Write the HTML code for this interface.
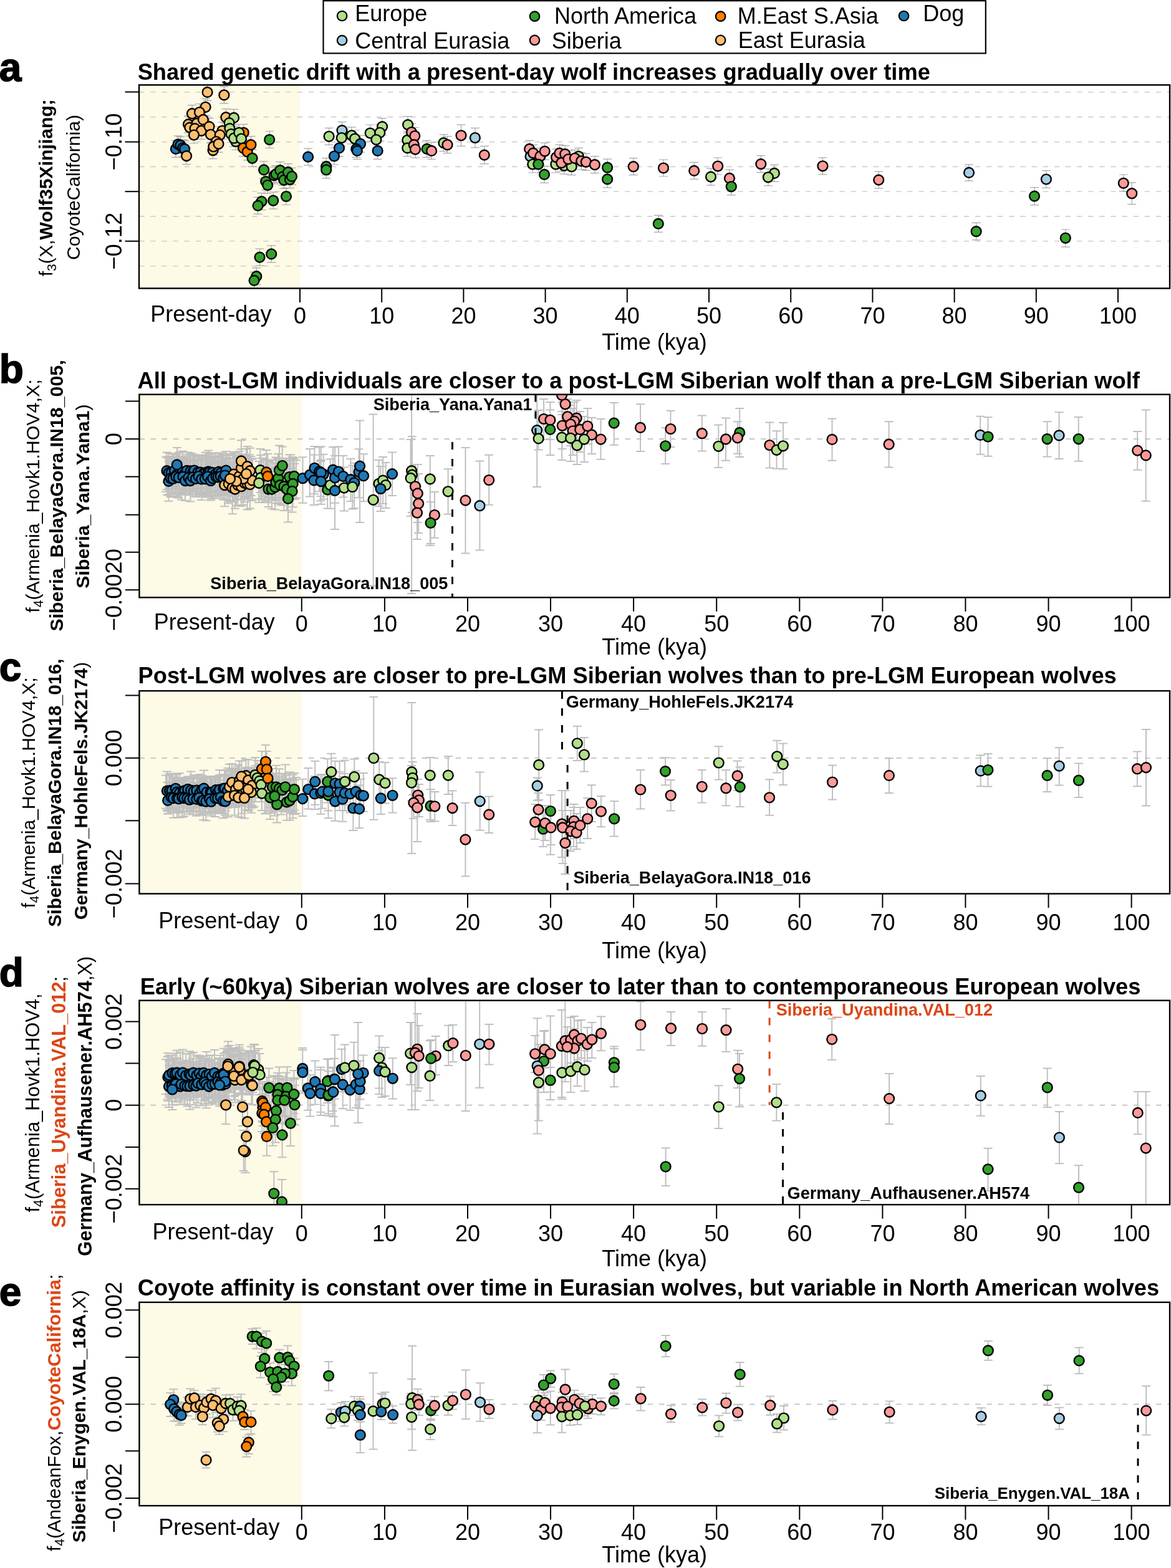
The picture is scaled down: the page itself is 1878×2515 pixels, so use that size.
<!DOCTYPE html>
<html><head><meta charset="utf-8"><title>f-statistics over time</title>
<style>html,body{margin:0;padding:0;background:#fff;}svg{display:block;}</style>
</head><body>
<svg width="1878" height="2515" viewBox="0 0 1878 2515" font-family='"Liberation Sans", Arial, Helvetica, sans-serif'>
<rect width="1878" height="2515" fill="#fff"/>
<rect x="223.0" y="136.3" width="258.0" height="326.2" fill="#fdfae6"/>
<line x1="223.0" y1="147.7" x2="1876.0" y2="147.7" stroke="#d0d0d0" stroke-width="1.6" stroke-dasharray="8.4 9.72" stroke-dashoffset="0"/>
<line x1="223.0" y1="187.6" x2="1876.0" y2="187.6" stroke="#d0d0d0" stroke-width="1.6" stroke-dasharray="8.4 9.72" stroke-dashoffset="0"/>
<line x1="223.0" y1="227.6" x2="1876.0" y2="227.6" stroke="#d0d0d0" stroke-width="1.6" stroke-dasharray="8.4 9.72" stroke-dashoffset="0"/>
<line x1="223.0" y1="267.4" x2="1876.0" y2="267.4" stroke="#d0d0d0" stroke-width="1.6" stroke-dasharray="8.4 9.72" stroke-dashoffset="0"/>
<line x1="223.0" y1="307.2" x2="1876.0" y2="307.2" stroke="#d0d0d0" stroke-width="1.6" stroke-dasharray="8.4 9.72" stroke-dashoffset="0"/>
<line x1="223.0" y1="347.1" x2="1876.0" y2="347.1" stroke="#d0d0d0" stroke-width="1.6" stroke-dasharray="8.4 9.72" stroke-dashoffset="0"/>
<line x1="223.0" y1="386.8" x2="1876.0" y2="386.8" stroke="#d0d0d0" stroke-width="1.6" stroke-dasharray="8.4 9.72" stroke-dashoffset="0"/>
<line x1="223.0" y1="426.7" x2="1876.0" y2="426.7" stroke="#d0d0d0" stroke-width="1.6" stroke-dasharray="8.4 9.72" stroke-dashoffset="0"/>
<clipPath id="clipa"><rect x="223.0" y="136.3" width="1653.0" height="326.2"/></clipPath>
<g clip-path="url(#clipa)">
<path d="M281.9 225.4V252.4M274.9 225.4h14M274.9 252.4h14M285.6 217.9V244.9M278.6 217.9h14M278.6 244.9h14M289.4 219.4V246.4M282.4 219.4h14M282.4 246.4h14M293.1 223.9V250.9M286.1 223.9h14M286.1 250.9h14M296.1 225.4V252.4M289.1 225.4h14M289.1 252.4h14M299.1 236.6V263.6M292.1 236.6h14M292.1 263.6h14M332.6 134.4V161.4M325.6 134.4h14M325.6 161.4h14M359.4 138.9V165.9M352.4 138.9h14M352.4 165.9h14M329.6 158.3V185.3M322.6 158.3h14M322.6 185.3h14M308.0 168.7V195.7M301.0 168.7h14M301.0 195.7h14M319.9 166.5V193.5M312.9 166.5h14M312.9 193.5h14M302.0 185.9V212.9M295.0 185.9h14M295.0 212.9h14M304.3 191.1V218.1M297.3 191.1h14M297.3 218.1h14M315.5 184.4V211.4M308.5 184.4h14M308.5 211.4h14M312.5 192.6V219.6M305.5 192.6h14M305.5 219.6h14M325.9 178.4V205.4M318.9 178.4h14M318.9 205.4h14M322.9 196.3V223.3M315.9 196.3h14M315.9 223.3h14M311.0 203.0V230.0M304.0 203.0h14M304.0 230.0h14M335.6 189.6V216.6M328.6 189.6h14M328.6 216.6h14M337.8 202.3V229.3M330.8 202.3h14M330.8 229.3h14M356.5 196.3V223.3M349.5 196.3h14M349.5 223.3h14M352.7 203.0V230.0M345.7 203.0h14M345.7 230.0h14M346.8 213.5V240.5M339.8 213.5h14M339.8 240.5h14M341.6 227.6V254.6M334.6 227.6h14M334.6 254.6h14M342.3 221.7V248.7M335.3 221.7h14M335.3 248.7h14M350.5 217.2V244.2M343.5 217.2h14M343.5 244.2h14M362.4 174.7V201.7M355.4 174.7h14M355.4 201.7h14M375.1 175.4V202.4M368.1 175.4h14M368.1 202.4h14M367.6 183.6V210.6M360.6 183.6h14M360.6 210.6h14M368.4 192.6V219.6M361.4 192.6h14M361.4 219.6h14M370.6 201.5V228.5M363.6 201.5h14M363.6 228.5h14M378.1 213.5V240.5M371.1 213.5h14M371.1 240.5h14M375.1 208.2V235.2M368.1 208.2h14M368.1 235.2h14M390.8 199.3V226.3M383.8 199.3h14M383.8 226.3h14M383.3 199.3V226.3M376.3 199.3h14M376.3 226.3h14M387.0 209.0V236.0M380.0 209.0h14M380.0 236.0h14M390.0 223.9V250.9M383.0 223.9h14M383.0 250.9h14M396.7 229.9V256.9M389.7 229.9h14M389.7 256.9h14M402.4 218.7V245.7M395.4 218.7h14M395.4 245.7h14M404.6 240.3V267.3M397.6 240.3h14M397.6 267.3h14M432.2 210.5V237.5M425.2 210.5h14M425.2 237.5h14M423.2 258.9V285.9M416.2 258.9h14M416.2 285.9h14M426.2 277.6V304.6M419.2 277.6h14M419.2 304.6h14M429.2 283.5V310.5M422.2 283.5h14M422.2 310.5h14M439.6 267.9V294.9M432.6 267.9h14M432.6 294.9h14M442.6 265.7V292.7M435.6 265.7h14M435.6 292.7h14M449.3 259.7V286.7M442.3 259.7h14M442.3 286.7h14M453.1 270.1V297.1M446.1 270.1h14M446.1 297.1h14M455.3 275.3V302.3M448.3 275.3h14M448.3 302.3h14M462.0 262.7V289.7M455.0 262.7h14M455.0 289.7h14M465.0 274.6V301.6M458.0 274.6h14M458.0 301.6h14M468.0 269.4V296.4M461.0 269.4h14M461.0 296.4h14M459.0 301.5V328.5M452.0 301.5h14M452.0 328.5h14M438.2 308.2V335.2M431.2 308.2h14M431.2 335.2h14M419.5 309.6V336.6M412.5 309.6h14M412.5 336.6h14M413.6 316.4V343.4M406.6 316.4h14M406.6 343.4h14M416.5 399.1V426.1M409.5 399.1h14M409.5 426.1h14M435.2 393.9V420.9M428.2 393.9h14M428.2 420.9h14M411.3 429.7V456.7M404.3 429.7h14M404.3 456.7h14M407.6 436.4V463.4M400.6 436.4h14M400.6 463.4h14M494.1 238.1V265.1M487.1 238.1h14M487.1 265.1h14M523.2 253.7V280.7M516.2 253.7h14M516.2 280.7h14M523.2 258.9V285.9M516.2 258.9h14M516.2 285.9h14M527.6 205.3V232.3M520.6 205.3h14M520.6 232.3h14M548.5 195.6V222.6M541.5 195.6h14M541.5 222.6h14M547.8 207.5V234.5M540.8 207.5h14M540.8 234.5h14M544.0 223.9V250.9M537.0 223.9h14M537.0 250.9h14M536.0 237.0V264.0M529.0 237.0h14M529.0 264.0h14M563.9 203.8V230.8M556.9 203.8h14M556.9 230.8h14M569.1 209.0V236.0M562.1 209.0h14M562.1 236.0h14M578.0 217.2V244.2M571.0 217.2h14M571.0 244.2h14M571.3 225.4V252.4M564.3 225.4h14M564.3 252.4h14M572.8 228.4V255.4M565.8 228.4h14M565.8 255.4h14M593.7 200.0V227.0M586.7 200.0h14M586.7 227.0h14M613.1 189.6V216.6M606.1 189.6h14M606.1 216.6h14M609.3 199.3V226.3M602.3 199.3h14M602.3 226.3h14M603.4 210.5V237.5M596.4 210.5h14M596.4 237.5h14M605.6 228.4V255.4M598.6 228.4h14M598.6 255.4h14M654.1 186.6V213.6M647.1 186.6h14M647.1 213.6h14M653.3 211.2V238.2M646.3 211.2h14M646.3 238.2h14M653.3 223.9V250.9M646.3 223.9h14M646.3 250.9h14M660.0 198.5V225.5M653.0 198.5h14M653.0 225.5h14M665.3 204.5V231.5M658.3 204.5h14M658.3 231.5h14M663.8 218.7V245.7M656.8 218.7h14M656.8 245.7h14M666.0 226.1V253.1M659.0 226.1h14M659.0 253.1h14M684.6 225.4V252.4M677.6 225.4h14M677.6 252.4h14M692.1 228.4V255.4M685.1 228.4h14M685.1 255.4h14M711.5 215.7V242.7M704.5 215.7h14M704.5 242.7h14M717.5 218.7V245.7M710.5 218.7h14M710.5 245.7h14M739.5 200.1V234.4M732.5 200.1h14M732.5 234.4h14M761.9 205.3V236.7M754.9 205.3h14M754.9 236.7h14M776.8 234.4V262.8M769.8 234.4h14M769.8 262.8h14M849.1 225.4V252.4M842.1 225.4h14M842.1 252.4h14M850.6 237.3V264.3M843.6 237.3h14M843.6 264.3h14M855.1 232.1V259.1M848.1 232.1h14M848.1 259.1h14M866.3 237.3V264.3M859.3 237.3h14M859.3 264.3h14M873.7 229.1V256.1M866.7 229.1h14M866.7 256.1h14M854.3 250.0V277.0M847.3 250.0h14M847.3 277.0h14M863.3 250.0V277.0M856.3 250.0h14M856.3 277.0h14M873.0 266.4V293.4M866.0 266.4h14M866.0 293.4h14M891.3 250.0V277.0M884.3 250.0h14M884.3 277.0h14M904.7 252.2V279.2M897.7 252.2h14M897.7 279.2h14M916.7 253.7V280.7M909.7 253.7h14M909.7 280.7h14M927.9 237.3V264.3M920.9 237.3h14M920.9 264.3h14M892.1 238.8V265.8M885.1 238.8h14M885.1 265.8h14M897.3 232.1V259.1M890.3 232.1h14M890.3 259.1h14M906.2 233.6V260.6M899.2 233.6h14M899.2 260.6h14M900.3 247.8V274.8M893.3 247.8h14M893.3 274.8h14M911.4 241.8V268.8M904.4 241.8h14M904.4 268.8h14M921.9 240.3V267.3M914.9 240.3h14M914.9 267.3h14M932.3 244.8V271.8M925.3 244.8h14M925.3 271.8h14M939.8 246.3V273.3M932.8 246.3h14M932.8 273.3h14M953.9 250.7V277.7M946.9 250.7h14M946.9 277.7h14M974.1 255.2V282.2M967.1 255.2h14M967.1 282.2h14M974.1 273.9V300.9M967.1 273.9h14M967.1 300.9h14M1015.8 253.7V280.7M1008.8 253.7h14M1008.8 280.7h14M1064.0 256.0V283.0M1057.0 256.0h14M1057.0 283.0h14M1055.8 345.4V372.4M1048.8 345.4h14M1048.8 372.4h14M1113.2 260.4V287.4M1106.2 260.4h14M1106.2 287.4h14M1140.0 270.1V297.1M1133.0 270.1h14M1133.0 297.1h14M1151.2 253.0V280.0M1144.2 253.0h14M1144.2 280.0h14M1169.9 272.4V299.4M1162.9 272.4h14M1162.9 299.4h14M1172.8 285.8V312.8M1165.8 285.8h14M1165.8 312.8h14M1220.3 249.6V276.6M1213.3 249.6h14M1213.3 276.6h14M1241.9 264.4V291.4M1234.9 264.4h14M1234.9 291.4h14M1231.9 270.8V297.8M1224.9 270.8h14M1224.9 297.8h14M1319.4 252.8V279.8M1312.4 252.8h14M1312.4 279.8h14M1409.2 275.1V302.1M1402.2 275.1h14M1402.2 302.1h14M1554.0 263.8V290.2M1547.0 263.8h14M1547.0 290.2h14M1677.9 273.7V301.3M1670.9 273.7h14M1670.9 301.3h14M1659.0 300.6V328.8M1652.0 300.6h14M1652.0 328.8h14M1565.6 357.4V384.9M1558.6 357.4h14M1558.6 384.9h14M1708.8 368.0V396.2M1701.8 368.0h14M1701.8 396.2h14M1801.8 280.0V306.6M1794.8 280.0h14M1794.8 306.6h14M1815.2 292.8V327.7M1808.2 292.8h14M1808.2 327.7h14" stroke="#a8a8a8" stroke-width="1.2" fill="none"/>
<circle cx="281.9" cy="238.9" r="7.9" fill="#1f78b4" stroke="#000" stroke-width="2.4"/>
<circle cx="285.6" cy="231.4" r="7.9" fill="#1f78b4" stroke="#000" stroke-width="2.4"/>
<circle cx="289.4" cy="232.9" r="7.9" fill="#1f78b4" stroke="#000" stroke-width="2.4"/>
<circle cx="293.1" cy="237.4" r="7.9" fill="#1f78b4" stroke="#000" stroke-width="2.4"/>
<circle cx="296.1" cy="238.9" r="7.9" fill="#1f78b4" stroke="#000" stroke-width="2.4"/>
<circle cx="299.1" cy="250.1" r="7.9" fill="#fdbf6f" stroke="#000" stroke-width="2.4"/>
<circle cx="332.6" cy="147.9" r="7.9" fill="#fdbf6f" stroke="#000" stroke-width="2.4"/>
<circle cx="359.4" cy="152.4" r="7.9" fill="#fdbf6f" stroke="#000" stroke-width="2.4"/>
<circle cx="329.6" cy="171.8" r="7.9" fill="#fdbf6f" stroke="#000" stroke-width="2.4"/>
<circle cx="308.0" cy="182.2" r="7.9" fill="#fdbf6f" stroke="#000" stroke-width="2.4"/>
<circle cx="319.9" cy="180.0" r="7.9" fill="#fdbf6f" stroke="#000" stroke-width="2.4"/>
<circle cx="302.0" cy="199.4" r="7.9" fill="#fdbf6f" stroke="#000" stroke-width="2.4"/>
<circle cx="304.3" cy="204.6" r="7.9" fill="#fdbf6f" stroke="#000" stroke-width="2.4"/>
<circle cx="315.5" cy="197.9" r="7.9" fill="#fdbf6f" stroke="#000" stroke-width="2.4"/>
<circle cx="312.5" cy="206.1" r="7.9" fill="#fdbf6f" stroke="#000" stroke-width="2.4"/>
<circle cx="325.9" cy="191.9" r="7.9" fill="#fdbf6f" stroke="#000" stroke-width="2.4"/>
<circle cx="322.9" cy="209.8" r="7.9" fill="#fdbf6f" stroke="#000" stroke-width="2.4"/>
<circle cx="311.0" cy="216.5" r="7.9" fill="#fdbf6f" stroke="#000" stroke-width="2.4"/>
<circle cx="335.6" cy="203.1" r="7.9" fill="#fdbf6f" stroke="#000" stroke-width="2.4"/>
<circle cx="337.8" cy="215.8" r="7.9" fill="#fdbf6f" stroke="#000" stroke-width="2.4"/>
<circle cx="356.5" cy="209.8" r="7.9" fill="#fdbf6f" stroke="#000" stroke-width="2.4"/>
<circle cx="352.7" cy="216.5" r="7.9" fill="#fdbf6f" stroke="#000" stroke-width="2.4"/>
<circle cx="346.8" cy="227.0" r="7.9" fill="#fdbf6f" stroke="#000" stroke-width="2.4"/>
<circle cx="341.6" cy="241.1" r="7.9" fill="#fdbf6f" stroke="#000" stroke-width="2.4"/>
<circle cx="342.3" cy="235.2" r="7.9" fill="#fdbf6f" stroke="#000" stroke-width="2.4"/>
<circle cx="350.5" cy="230.7" r="7.9" fill="#fdbf6f" stroke="#000" stroke-width="2.4"/>
<circle cx="362.4" cy="188.2" r="7.9" fill="#fdbf6f" stroke="#000" stroke-width="2.4"/>
<circle cx="375.1" cy="188.9" r="7.9" fill="#b2df8a" stroke="#000" stroke-width="2.4"/>
<circle cx="367.6" cy="197.1" r="7.9" fill="#b2df8a" stroke="#000" stroke-width="2.4"/>
<circle cx="368.4" cy="206.1" r="7.9" fill="#b2df8a" stroke="#000" stroke-width="2.4"/>
<circle cx="370.6" cy="215.0" r="7.9" fill="#b2df8a" stroke="#000" stroke-width="2.4"/>
<circle cx="378.1" cy="227.0" r="7.9" fill="#b2df8a" stroke="#000" stroke-width="2.4"/>
<circle cx="375.1" cy="221.7" r="7.9" fill="#b2df8a" stroke="#000" stroke-width="2.4"/>
<circle cx="390.8" cy="212.8" r="7.9" fill="#ff7f00" stroke="#000" stroke-width="2.4"/>
<circle cx="383.3" cy="212.8" r="7.9" fill="#b2df8a" stroke="#000" stroke-width="2.4"/>
<circle cx="387.0" cy="222.5" r="7.9" fill="#b2df8a" stroke="#000" stroke-width="2.4"/>
<circle cx="390.0" cy="237.4" r="7.9" fill="#ff7f00" stroke="#000" stroke-width="2.4"/>
<circle cx="396.7" cy="243.4" r="7.9" fill="#ff7f00" stroke="#000" stroke-width="2.4"/>
<circle cx="402.4" cy="232.2" r="7.9" fill="#ff7f00" stroke="#000" stroke-width="2.4"/>
<circle cx="404.6" cy="253.8" r="7.9" fill="#33a02c" stroke="#000" stroke-width="2.4"/>
<circle cx="432.2" cy="224.0" r="7.9" fill="#33a02c" stroke="#000" stroke-width="2.4"/>
<circle cx="423.2" cy="272.4" r="7.9" fill="#33a02c" stroke="#000" stroke-width="2.4"/>
<circle cx="426.2" cy="291.1" r="7.9" fill="#33a02c" stroke="#000" stroke-width="2.4"/>
<circle cx="429.2" cy="297.0" r="7.9" fill="#33a02c" stroke="#000" stroke-width="2.4"/>
<circle cx="439.6" cy="281.4" r="7.9" fill="#33a02c" stroke="#000" stroke-width="2.4"/>
<circle cx="442.6" cy="279.2" r="7.9" fill="#33a02c" stroke="#000" stroke-width="2.4"/>
<circle cx="449.3" cy="273.2" r="7.9" fill="#33a02c" stroke="#000" stroke-width="2.4"/>
<circle cx="453.1" cy="283.6" r="7.9" fill="#33a02c" stroke="#000" stroke-width="2.4"/>
<circle cx="455.3" cy="288.8" r="7.9" fill="#33a02c" stroke="#000" stroke-width="2.4"/>
<circle cx="462.0" cy="276.2" r="7.9" fill="#33a02c" stroke="#000" stroke-width="2.4"/>
<circle cx="465.0" cy="288.1" r="7.9" fill="#33a02c" stroke="#000" stroke-width="2.4"/>
<circle cx="468.0" cy="282.9" r="7.9" fill="#33a02c" stroke="#000" stroke-width="2.4"/>
<circle cx="459.0" cy="315.0" r="7.9" fill="#33a02c" stroke="#000" stroke-width="2.4"/>
<circle cx="438.2" cy="321.7" r="7.9" fill="#33a02c" stroke="#000" stroke-width="2.4"/>
<circle cx="419.5" cy="323.1" r="7.9" fill="#33a02c" stroke="#000" stroke-width="2.4"/>
<circle cx="413.6" cy="329.9" r="7.9" fill="#33a02c" stroke="#000" stroke-width="2.4"/>
<circle cx="416.5" cy="412.6" r="7.9" fill="#33a02c" stroke="#000" stroke-width="2.4"/>
<circle cx="435.2" cy="407.4" r="7.9" fill="#33a02c" stroke="#000" stroke-width="2.4"/>
<circle cx="411.3" cy="443.2" r="7.9" fill="#33a02c" stroke="#000" stroke-width="2.4"/>
<circle cx="407.6" cy="449.9" r="7.9" fill="#33a02c" stroke="#000" stroke-width="2.4"/>
<circle cx="494.1" cy="251.6" r="7.9" fill="#1f78b4" stroke="#000" stroke-width="2.4"/>
<circle cx="523.2" cy="267.2" r="7.9" fill="#33a02c" stroke="#000" stroke-width="2.4"/>
<circle cx="523.2" cy="272.4" r="7.9" fill="#33a02c" stroke="#000" stroke-width="2.4"/>
<circle cx="527.6" cy="218.8" r="7.9" fill="#b2df8a" stroke="#000" stroke-width="2.4"/>
<circle cx="548.5" cy="209.1" r="7.9" fill="#a6cee3" stroke="#000" stroke-width="2.4"/>
<circle cx="547.8" cy="221.0" r="7.9" fill="#b2df8a" stroke="#000" stroke-width="2.4"/>
<circle cx="544.0" cy="237.4" r="7.9" fill="#1f78b4" stroke="#000" stroke-width="2.4"/>
<circle cx="536.0" cy="250.5" r="7.9" fill="#1f78b4" stroke="#000" stroke-width="2.4"/>
<circle cx="563.9" cy="217.3" r="7.9" fill="#b2df8a" stroke="#000" stroke-width="2.4"/>
<circle cx="569.1" cy="222.5" r="7.9" fill="#b2df8a" stroke="#000" stroke-width="2.4"/>
<circle cx="578.0" cy="230.7" r="7.9" fill="#1f78b4" stroke="#000" stroke-width="2.4"/>
<circle cx="571.3" cy="238.9" r="7.9" fill="#1f78b4" stroke="#000" stroke-width="2.4"/>
<circle cx="572.8" cy="241.9" r="7.9" fill="#1f78b4" stroke="#000" stroke-width="2.4"/>
<circle cx="593.7" cy="213.5" r="7.9" fill="#b2df8a" stroke="#000" stroke-width="2.4"/>
<circle cx="613.1" cy="203.1" r="7.9" fill="#b2df8a" stroke="#000" stroke-width="2.4"/>
<circle cx="609.3" cy="212.8" r="7.9" fill="#b2df8a" stroke="#000" stroke-width="2.4"/>
<circle cx="603.4" cy="224.0" r="7.9" fill="#b2df8a" stroke="#000" stroke-width="2.4"/>
<circle cx="605.6" cy="241.9" r="7.9" fill="#1f78b4" stroke="#000" stroke-width="2.4"/>
<circle cx="654.1" cy="200.1" r="7.9" fill="#b2df8a" stroke="#000" stroke-width="2.4"/>
<circle cx="653.3" cy="224.7" r="7.9" fill="#b2df8a" stroke="#000" stroke-width="2.4"/>
<circle cx="653.3" cy="237.4" r="7.9" fill="#b2df8a" stroke="#000" stroke-width="2.4"/>
<circle cx="660.0" cy="212.0" r="7.9" fill="#fb9a99" stroke="#000" stroke-width="2.4"/>
<circle cx="665.3" cy="218.0" r="7.9" fill="#fb9a99" stroke="#000" stroke-width="2.4"/>
<circle cx="663.8" cy="232.2" r="7.9" fill="#fb9a99" stroke="#000" stroke-width="2.4"/>
<circle cx="666.0" cy="239.6" r="7.9" fill="#fb9a99" stroke="#000" stroke-width="2.4"/>
<circle cx="684.6" cy="238.9" r="7.9" fill="#33a02c" stroke="#000" stroke-width="2.4"/>
<circle cx="692.1" cy="241.9" r="7.9" fill="#fb9a99" stroke="#000" stroke-width="2.4"/>
<circle cx="711.5" cy="229.2" r="7.9" fill="#b2df8a" stroke="#000" stroke-width="2.4"/>
<circle cx="717.5" cy="232.2" r="7.9" fill="#fb9a99" stroke="#000" stroke-width="2.4"/>
<circle cx="739.5" cy="217.3" r="7.9" fill="#fb9a99" stroke="#000" stroke-width="2.4"/>
<circle cx="761.9" cy="221.0" r="7.9" fill="#a6cee3" stroke="#000" stroke-width="2.4"/>
<circle cx="776.8" cy="248.6" r="7.9" fill="#fb9a99" stroke="#000" stroke-width="2.4"/>
<circle cx="849.1" cy="238.9" r="7.9" fill="#fb9a99" stroke="#000" stroke-width="2.4"/>
<circle cx="850.6" cy="250.8" r="7.9" fill="#a6cee3" stroke="#000" stroke-width="2.4"/>
<circle cx="855.1" cy="245.6" r="7.9" fill="#fb9a99" stroke="#000" stroke-width="2.4"/>
<circle cx="866.3" cy="250.8" r="7.9" fill="#fb9a99" stroke="#000" stroke-width="2.4"/>
<circle cx="873.7" cy="242.6" r="7.9" fill="#fb9a99" stroke="#000" stroke-width="2.4"/>
<circle cx="854.3" cy="263.5" r="7.9" fill="#b2df8a" stroke="#000" stroke-width="2.4"/>
<circle cx="863.3" cy="263.5" r="7.9" fill="#33a02c" stroke="#000" stroke-width="2.4"/>
<circle cx="873.0" cy="279.9" r="7.9" fill="#33a02c" stroke="#000" stroke-width="2.4"/>
<circle cx="891.3" cy="263.5" r="7.9" fill="#b2df8a" stroke="#000" stroke-width="2.4"/>
<circle cx="904.7" cy="265.7" r="7.9" fill="#b2df8a" stroke="#000" stroke-width="2.4"/>
<circle cx="916.7" cy="267.2" r="7.9" fill="#b2df8a" stroke="#000" stroke-width="2.4"/>
<circle cx="927.9" cy="250.8" r="7.9" fill="#b2df8a" stroke="#000" stroke-width="2.4"/>
<circle cx="892.1" cy="252.3" r="7.9" fill="#fb9a99" stroke="#000" stroke-width="2.4"/>
<circle cx="897.3" cy="245.6" r="7.9" fill="#fb9a99" stroke="#000" stroke-width="2.4"/>
<circle cx="906.2" cy="247.1" r="7.9" fill="#fb9a99" stroke="#000" stroke-width="2.4"/>
<circle cx="900.3" cy="261.3" r="7.9" fill="#fb9a99" stroke="#000" stroke-width="2.4"/>
<circle cx="911.4" cy="255.3" r="7.9" fill="#fb9a99" stroke="#000" stroke-width="2.4"/>
<circle cx="921.9" cy="253.8" r="7.9" fill="#fb9a99" stroke="#000" stroke-width="2.4"/>
<circle cx="932.3" cy="258.3" r="7.9" fill="#fb9a99" stroke="#000" stroke-width="2.4"/>
<circle cx="939.8" cy="259.8" r="7.9" fill="#fb9a99" stroke="#000" stroke-width="2.4"/>
<circle cx="953.9" cy="264.2" r="7.9" fill="#fb9a99" stroke="#000" stroke-width="2.4"/>
<circle cx="974.1" cy="268.7" r="7.9" fill="#33a02c" stroke="#000" stroke-width="2.4"/>
<circle cx="974.1" cy="287.4" r="7.9" fill="#33a02c" stroke="#000" stroke-width="2.4"/>
<circle cx="1015.8" cy="267.2" r="7.9" fill="#fb9a99" stroke="#000" stroke-width="2.4"/>
<circle cx="1064.0" cy="269.5" r="7.9" fill="#fb9a99" stroke="#000" stroke-width="2.4"/>
<circle cx="1055.8" cy="358.9" r="7.9" fill="#33a02c" stroke="#000" stroke-width="2.4"/>
<circle cx="1113.2" cy="273.9" r="7.9" fill="#fb9a99" stroke="#000" stroke-width="2.4"/>
<circle cx="1140.0" cy="283.6" r="7.9" fill="#b2df8a" stroke="#000" stroke-width="2.4"/>
<circle cx="1151.2" cy="266.5" r="7.9" fill="#fb9a99" stroke="#000" stroke-width="2.4"/>
<circle cx="1169.9" cy="285.9" r="7.9" fill="#fb9a99" stroke="#000" stroke-width="2.4"/>
<circle cx="1172.8" cy="299.3" r="7.9" fill="#33a02c" stroke="#000" stroke-width="2.4"/>
<circle cx="1220.3" cy="263.1" r="7.9" fill="#fb9a99" stroke="#000" stroke-width="2.4"/>
<circle cx="1241.9" cy="277.9" r="7.9" fill="#b2df8a" stroke="#000" stroke-width="2.4"/>
<circle cx="1231.9" cy="284.3" r="7.9" fill="#b2df8a" stroke="#000" stroke-width="2.4"/>
<circle cx="1319.4" cy="266.3" r="7.9" fill="#fb9a99" stroke="#000" stroke-width="2.4"/>
<circle cx="1409.2" cy="288.6" r="7.9" fill="#fb9a99" stroke="#000" stroke-width="2.4"/>
<circle cx="1554.0" cy="276.9" r="7.9" fill="#a6cee3" stroke="#000" stroke-width="2.4"/>
<circle cx="1677.9" cy="287.5" r="7.9" fill="#a6cee3" stroke="#000" stroke-width="2.4"/>
<circle cx="1659.0" cy="314.6" r="7.9" fill="#33a02c" stroke="#000" stroke-width="2.4"/>
<circle cx="1565.6" cy="371.2" r="7.9" fill="#33a02c" stroke="#000" stroke-width="2.4"/>
<circle cx="1708.8" cy="381.8" r="7.9" fill="#33a02c" stroke="#000" stroke-width="2.4"/>
<circle cx="1801.8" cy="293.8" r="7.9" fill="#fb9a99" stroke="#000" stroke-width="2.4"/>
<circle cx="1815.2" cy="310.2" r="7.9" fill="#fb9a99" stroke="#000" stroke-width="2.4"/>
</g>
<rect x="223.0" y="136.3" width="1653.0" height="326.2" fill="none" stroke="#000" stroke-width="2.4"/>
<line x1="200.5" y1="147.5" x2="223.0" y2="147.5" stroke="#000" stroke-width="2"/>
<line x1="200.5" y1="227.6" x2="223.0" y2="227.6" stroke="#000" stroke-width="2"/>
<line x1="200.5" y1="307.2" x2="223.0" y2="307.2" stroke="#000" stroke-width="2"/>
<line x1="200.5" y1="386.8" x2="223.0" y2="386.8" stroke="#000" stroke-width="2"/>
<text transform="translate(194.5 227.6) rotate(-90)" text-anchor="middle" font-size="36.3">−0.10</text>
<text transform="translate(194.5 386.8) rotate(-90)" text-anchor="middle" font-size="36.3">−0.12</text>
<line x1="481.0" y1="462.5" x2="481.0" y2="485.0" stroke="#000" stroke-width="2"/>
<text x="481.0" y="519.0" text-anchor="middle" font-size="36">0</text>
<line x1="612.2" y1="462.5" x2="612.2" y2="485.0" stroke="#000" stroke-width="2"/>
<text x="612.2" y="519.0" text-anchor="middle" font-size="36">10</text>
<line x1="743.4" y1="462.5" x2="743.4" y2="485.0" stroke="#000" stroke-width="2"/>
<text x="743.4" y="519.0" text-anchor="middle" font-size="36">20</text>
<line x1="874.6" y1="462.5" x2="874.6" y2="485.0" stroke="#000" stroke-width="2"/>
<text x="874.6" y="519.0" text-anchor="middle" font-size="36">30</text>
<line x1="1005.8" y1="462.5" x2="1005.8" y2="485.0" stroke="#000" stroke-width="2"/>
<text x="1005.8" y="519.0" text-anchor="middle" font-size="36">40</text>
<line x1="1137.0" y1="462.5" x2="1137.0" y2="485.0" stroke="#000" stroke-width="2"/>
<text x="1137.0" y="519.0" text-anchor="middle" font-size="36">50</text>
<line x1="1268.2" y1="462.5" x2="1268.2" y2="485.0" stroke="#000" stroke-width="2"/>
<text x="1268.2" y="519.0" text-anchor="middle" font-size="36">60</text>
<line x1="1399.4" y1="462.5" x2="1399.4" y2="485.0" stroke="#000" stroke-width="2"/>
<text x="1399.4" y="519.0" text-anchor="middle" font-size="36">70</text>
<line x1="1530.6" y1="462.5" x2="1530.6" y2="485.0" stroke="#000" stroke-width="2"/>
<text x="1530.6" y="519.0" text-anchor="middle" font-size="36">80</text>
<line x1="1661.8" y1="462.5" x2="1661.8" y2="485.0" stroke="#000" stroke-width="2"/>
<text x="1661.8" y="519.0" text-anchor="middle" font-size="36">90</text>
<line x1="1793.0" y1="462.5" x2="1793.0" y2="485.0" stroke="#000" stroke-width="2"/>
<text x="1793.0" y="519.0" text-anchor="middle" font-size="36">100</text>
<text x="241.3" y="515.8" font-size="36">Present-day</text>
<text x="1049.5" y="561.0" text-anchor="middle" font-size="36">Time (kya)</text>
<text x="220.7" y="127.8" font-size="36.25" font-weight="bold">Shared genetic drift with a present-day wolf increases gradually over time</text>
<text x="-1.2" y="129.5" font-size="64" font-weight="bold" stroke="#000" stroke-width="1.6">a</text>
<text transform="translate(83.6 301.2) rotate(-90)" text-anchor="middle" font-size="30.15"><tspan>f</tspan><tspan font-size="21.1" dy="6">3</tspan><tspan dy="-6">(X,</tspan><tspan font-weight="bold">Wolf35Xinjiang;</tspan></text>
<text transform="translate(128.3 300.5) rotate(-90)" text-anchor="middle" font-size="30.15"><tspan>CoyoteCalifornia)</tspan></text>
<rect x="223.4" y="632.7" width="260.4" height="325.6" fill="#fdfae6"/>
<line x1="223.4" y1="704.1" x2="1876.0" y2="704.1" stroke="#c0c0c0" stroke-width="1.8" stroke-dasharray="8.4 9.72" stroke-dashoffset="0"/>
<clipPath id="clipb"><rect x="223.4" y="632.7" width="1652.6" height="325.6"/></clipPath>
<g clip-path="url(#clipb)">
<path d="M266.0 732.4V788.7M259.0 732.4h14M259.0 788.7h14M268.5 734.8V794.2M261.5 734.8h14M261.5 794.2h14M271.0 726.9V792.7M264.0 726.9h14M264.0 792.7h14M273.5 734.0V795.6M266.5 734.0h14M266.5 795.6h14M276.1 728.0V792.2M269.1 728.0h14M269.1 792.2h14M278.6 734.8V797.3M271.6 734.8h14M271.6 797.3h14M281.1 733.0V790.6M274.1 733.0h14M274.1 790.6h14M283.6 729.2V797.7M276.6 729.2h14M276.6 797.7h14M286.1 726.6V798.6M279.1 726.6h14M279.1 798.6h14M288.6 731.9V793.8M281.6 731.9h14M281.6 793.8h14M291.1 732.0V801.4M284.1 732.0h14M284.1 801.4h14M293.6 735.9V789.4M286.6 735.9h14M286.6 789.4h14M296.2 736.8V789.2M289.2 736.8h14M289.2 789.2h14M298.7 733.4V792.3M291.7 733.4h14M291.7 792.3h14M301.2 725.5V787.3M294.2 725.5h14M294.2 787.3h14M303.7 729.4V794.3M296.7 729.4h14M296.7 794.3h14M306.2 728.3V793.8M299.2 728.3h14M299.2 793.8h14M308.7 729.1V793.5M301.7 729.1h14M301.7 793.5h14M311.2 730.5V788.0M304.2 730.5h14M304.2 788.0h14M313.7 730.3V796.4M306.7 730.3h14M306.7 796.4h14M316.3 729.8V793.3M309.3 729.8h14M309.3 793.3h14M318.8 731.8V792.6M311.8 731.8h14M311.8 792.6h14M321.3 729.4V795.6M314.3 729.4h14M314.3 795.6h14M323.8 730.5V788.8M316.8 730.5h14M316.8 788.8h14M326.3 729.7V794.4M319.3 729.7h14M319.3 794.4h14M328.8 731.7V796.1M321.8 731.7h14M321.8 796.1h14M331.3 725.6V792.7M324.3 725.6h14M324.3 792.7h14M333.8 731.4V789.7M326.8 731.4h14M326.8 789.7h14M336.4 736.3V797.2M329.4 736.3h14M329.4 797.2h14M338.9 728.5V800.1M331.9 728.5h14M331.9 800.1h14M341.4 732.5V794.8M334.4 732.5h14M334.4 794.8h14M343.9 734.4V795.8M336.9 734.4h14M336.9 795.8h14M346.4 727.2V798.7M339.4 727.2h14M339.4 798.7h14M348.9 732.4V796.0M341.9 732.4h14M341.9 796.0h14M351.4 727.8V799.2M344.4 727.8h14M344.4 799.2h14M353.9 726.6V792.1M346.9 726.6h14M346.9 792.1h14M356.5 729.6V794.0M349.5 729.6h14M349.5 794.0h14M359.0 734.8V789.2M352.0 734.8h14M352.0 789.2h14M361.5 735.2V793.5M354.5 735.2h14M354.5 793.5h14M364.0 735.5V795.3M357.0 735.5h14M357.0 795.3h14M356.0 727.2V799.6M349.0 727.2h14M349.0 799.6h14M358.6 731.1V801.7M351.6 731.1h14M351.6 801.7h14M361.2 737.1V790.2M354.2 737.1h14M354.2 790.2h14M363.7 729.7V800.9M356.7 729.7h14M356.7 800.9h14M366.3 730.4V802.5M359.3 730.4h14M359.3 802.5h14M368.9 727.8V804.9M361.9 727.8h14M361.9 804.9h14M371.5 734.5V794.0M364.5 734.5h14M364.5 794.0h14M374.1 729.6V802.8M367.1 729.6h14M367.1 802.8h14M376.6 726.8V792.9M369.6 726.8h14M369.6 792.9h14M379.2 729.5V799.9M372.2 729.5h14M372.2 799.9h14M381.8 730.2V801.8M374.8 730.2h14M374.8 801.8h14M384.4 735.4V791.1M377.4 735.4h14M377.4 791.1h14M386.9 730.3V792.4M379.9 730.3h14M379.9 792.4h14M389.5 733.6V800.6M382.5 733.6h14M382.5 800.6h14M392.1 730.9V797.8M385.1 730.9h14M385.1 797.8h14M394.7 728.4V789.7M387.7 728.4h14M387.7 789.7h14M397.3 733.4V796.6M390.3 733.4h14M390.3 796.6h14M399.8 729.6V800.4M392.8 729.6h14M392.8 800.4h14M402.4 732.2V794.9M395.4 732.2h14M395.4 794.9h14M405.0 735.5V800.5M398.0 735.5h14M398.0 800.5h14M420.0 735.1V801.4M413.0 735.1h14M413.0 801.4h14M422.9 735.5V796.1M415.9 735.5h14M415.9 796.1h14M425.8 737.6V804.0M418.8 737.6h14M418.8 804.0h14M428.7 737.6V806.2M421.7 737.6h14M421.7 806.2h14M431.6 740.2V803.0M424.6 740.2h14M424.6 803.0h14M434.5 737.7V799.9M427.5 737.7h14M427.5 799.9h14M437.4 738.4V797.9M430.4 738.4h14M430.4 797.9h14M440.3 742.5V802.7M433.3 742.5h14M433.3 802.7h14M443.2 733.6V801.8M436.2 733.6h14M436.2 801.8h14M446.1 735.8V808.4M439.1 735.8h14M439.1 808.4h14M448.9 737.9V798.3M441.9 737.9h14M441.9 798.3h14M451.8 738.8V810.4M444.8 738.8h14M444.8 810.4h14M454.7 741.5V799.3M447.7 741.5h14M447.7 799.3h14M457.6 735.0V802.0M450.6 735.0h14M450.6 802.0h14M460.5 737.4V801.0M453.5 737.4h14M453.5 801.0h14M463.4 738.4V805.3M456.4 738.4h14M456.4 805.3h14M466.3 729.5V800.3M459.3 729.5h14M459.3 800.3h14M469.2 733.1V801.1M462.2 733.1h14M462.2 801.1h14M472.1 743.8V800.8M465.1 743.8h14M465.1 800.8h14M475.0 738.2V798.8M468.0 738.2h14M468.0 798.8h14M267.5 725.4V785.0M260.5 725.4h14M260.5 785.0h14M270.8 731.9V784.7M263.8 731.9h14M263.8 784.7h14M274.8 735.6V780.5M267.8 735.6h14M267.8 780.5h14M280.1 731.5V777.6M273.1 731.5h14M273.1 777.6h14M284.1 737.1V784.1M277.1 737.1h14M277.1 784.1h14M287.6 725.6V792.4M280.6 725.6h14M280.6 792.4h14M292.8 723.5V790.9M285.8 723.5h14M285.8 790.9h14M295.2 735.4V786.3M288.2 735.4h14M288.2 786.3h14M299.6 729.2V780.6M292.6 729.2h14M292.6 780.6h14M305.7 726.5V784.4M298.7 726.5h14M298.7 784.4h14M309.3 728.4V785.6M302.3 728.4h14M302.3 785.6h14M311.6 730.0V778.9M304.6 730.0h14M304.6 778.9h14M317.6 731.7V783.2M310.6 731.7h14M310.6 783.2h14M321.4 732.0V783.2M314.4 732.0h14M314.4 783.2h14M326.1 734.7V784.5M319.1 734.7h14M319.1 784.5h14M329.5 725.7V790.7M322.5 725.7h14M322.5 790.7h14M334.1 722.5V790.1M327.1 722.5h14M327.1 790.1h14M336.3 726.3V788.4M329.3 726.3h14M329.3 788.4h14M340.5 735.4V780.4M333.5 735.4h14M333.5 780.4h14M346.2 731.2V789.0M339.2 731.2h14M339.2 789.0h14M350.9 726.2V786.9M343.9 726.2h14M343.9 786.9h14M354.1 731.2V786.1M347.1 731.2h14M347.1 786.1h14M358.9 733.9V789.2M351.9 733.9h14M351.9 789.2h14M362.5 724.1V784.9M355.5 724.1h14M355.5 784.9h14M270.4 740.1V803.8M263.4 740.1h14M263.4 803.8h14M273.8 737.1V797.1M266.8 737.1h14M266.8 797.1h14M277.5 743.7V791.7M270.5 743.7h14M270.5 791.7h14M282.3 733.3V795.7M275.3 733.3h14M275.3 795.7h14M286.8 739.3V792.7M279.8 739.3h14M279.8 792.7h14M293.5 737.3V792.0M286.5 737.3h14M286.5 792.0h14M297.0 739.2V802.9M290.0 739.2h14M290.0 802.9h14M302.4 739.2V793.2M295.4 739.2h14M295.4 793.2h14M305.4 737.6V804.6M298.4 737.6h14M298.4 804.6h14M309.2 740.6V790.2M302.2 740.6h14M302.2 790.2h14M314.0 738.8V796.9M307.0 738.8h14M307.0 796.9h14M318.5 737.0V791.1M311.5 737.0h14M311.5 791.1h14M323.3 735.1V802.0M316.3 735.1h14M316.3 802.0h14M328.8 738.7V797.5M321.8 738.7h14M321.8 797.5h14M333.2 731.6V797.2M326.2 731.6h14M326.2 797.2h14M338.0 739.4V802.6M331.0 739.4h14M331.0 802.6h14M341.3 743.9V790.4M334.3 743.9h14M334.3 790.4h14M346.5 741.7V787.3M339.5 741.7h14M339.5 787.3h14M349.7 739.2V791.4M342.7 739.2h14M342.7 791.4h14M353.7 740.2V787.8M346.7 740.2h14M346.7 787.8h14M358.3 744.6V789.2M351.3 744.6h14M351.3 789.2h14M365.1 745.1V792.7M358.1 745.1h14M358.1 792.7h14M283.8 718.0V773.0M276.8 718.0h14M276.8 773.0h14M360.9 735.0V790.0M353.9 735.0h14M353.9 790.0h14M360.2 745.1V812.3M353.2 745.1h14M353.2 812.3h14M366.7 741.5V807.4M359.7 741.5h14M359.7 807.4h14M372.7 742.2V824.3M365.7 742.2h14M365.7 824.3h14M374.9 725.0V796.4M367.9 725.0h14M367.9 796.4h14M377.0 753.6V815.8M370.0 753.6h14M370.0 815.8h14M381.4 744.0V811.3M374.4 744.0h14M374.4 811.3h14M383.6 724.0V795.8M376.6 724.0h14M376.6 795.8h14M386.9 720.5V792.2M379.9 720.5h14M379.9 792.2h14M386.9 743.9V812.0M379.9 743.9h14M379.9 812.0h14M392.3 738.3V805.1M385.3 738.3h14M385.3 805.1h14M396.7 739.6V817.6M389.7 739.6h14M389.7 817.6h14M401.0 736.6V815.4M394.0 736.6h14M394.0 815.4h14M386.9 706.3V773.8M379.9 706.3h14M379.9 773.8h14M396.7 716.1V787.4M389.7 716.1h14M389.7 787.4h14M401.0 718.8V794.5M394.0 718.8h14M394.0 794.5h14M404.3 736.4V803.1M397.3 736.4h14M397.3 803.1h14M390.0 728.3V809.8M383.0 728.3h14M383.0 809.8h14M395.0 719.8V799.7M388.0 719.8h14M388.0 799.7h14M379.0 732.2V810.9M372.0 732.2h14M372.0 810.9h14M369.0 735.3V804.2M362.0 735.3h14M362.0 804.2h14M417.4 720.0V790.0M410.4 720.0h14M410.4 790.0h14M418.4 730.0V800.0M411.4 730.0h14M411.4 800.0h14M415.2 740.0V806.0M408.2 740.0h14M408.2 806.0h14M427.2 722.0V792.0M420.2 722.0h14M420.2 792.0h14M429.3 728.0V798.0M422.3 728.0h14M422.3 798.0h14M430.4 752.3V812.9M423.4 752.3h14M423.4 812.9h14M435.9 756.3V816.0M428.9 756.3h14M428.9 816.0h14M441.3 750.2V817.6M434.3 750.2h14M434.3 817.6h14M442.4 734.2V807.1M435.4 734.2h14M435.4 807.1h14M446.2 728.0V807.1M439.2 728.0h14M439.2 807.1h14M447.9 714.6V786.5M440.9 714.6h14M440.9 786.5h14M452.8 716.4V777.7M445.8 716.4h14M445.8 777.7h14M449.0 747.7V808.6M442.0 747.7h14M442.0 808.6h14M455.5 744.7V819.0M448.5 744.7h14M448.5 819.0h14M459.9 746.5V818.4M452.9 746.5h14M452.9 818.4h14M464.2 729.2V802.6M457.2 729.2h14M457.2 802.6h14M471.8 734.9V799.8M464.8 734.9h14M464.8 799.8h14M469.7 737.0V813.3M462.7 737.0h14M462.7 813.3h14M468.6 750.9V821.6M461.6 750.9h14M461.6 821.6h14M462.0 769.8V837.4M455.0 769.8h14M455.0 837.4h14M485.5 733.2V806.8M478.5 733.2h14M478.5 806.8h14M496.9 720.0V796.5M489.9 720.0h14M489.9 796.5h14M504.5 716.0V792.2M497.5 716.0h14M497.5 792.2h14M512.2 717.6V788.3M505.2 717.6h14M505.2 788.3h14M514.3 740.0V803.3M507.3 740.0h14M507.3 803.3h14M503.4 729.5V810.1M496.4 729.5h14M496.4 810.1h14M518.7 728.8V800.5M511.7 728.8h14M511.7 800.5h14M514.8 716.2V795.9M507.8 716.2h14M507.8 795.9h14M514.8 737.9V808.7M507.8 737.9h14M507.8 808.7h14M525.2 753.8V815.6M518.2 753.8h14M518.2 815.6h14M529.7 736.3V815.8M522.7 736.3h14M522.7 815.8h14M534.1 717.3V794.8M527.1 717.3h14M527.1 794.8h14M537.1 731.0V806.7M530.1 731.0h14M530.1 806.7h14M543.0 716.6V789.0M536.0 716.6h14M536.0 789.0h14M550.4 731.0V797.5M543.4 731.0h14M543.4 797.5h14M551.9 749.6V819.5M544.9 749.6h14M544.9 819.5h14M562.3 736.0V804.1M555.3 736.0h14M555.3 804.1h14M568.2 742.7V815.2M561.2 742.7h14M561.2 815.2h14M565.2 746.8V816.5M558.2 746.8h14M558.2 816.5h14M575.6 720.3V798.2M568.6 720.3h14M568.6 798.2h14M583.0 728.2V804.2M576.0 728.2h14M576.0 804.2h14M577.1 674.6V838.0M570.1 674.6h14M570.1 838.0h14M537.1 716.7V849.0M530.1 716.7h14M530.1 849.0h14M598.6 664.5V939.6M591.6 664.5h14M591.6 939.6h14M607.5 738.0V812.0M600.5 738.0h14M600.5 812.0h14M614.2 733.0V808.0M607.2 733.0h14M607.2 808.0h14M618.6 742.0V815.0M611.6 742.0h14M611.6 815.0h14M610.5 748.0V820.0M603.5 748.0h14M603.5 820.0h14M629.0 725.4V795.1M622.0 725.4h14M622.0 795.1h14M660.1 632.7V952.0M653.1 632.7h14M653.1 952.0h14M660.9 700.0V822.0M653.9 700.0h14M653.9 822.0h14M658.6 705.0V828.0M651.6 705.0h14M651.6 828.0h14M666.0 745.0V815.0M659.0 745.0h14M659.0 815.0h14M669.8 745.0V838.0M662.8 745.0h14M662.8 838.0h14M671.2 760.0V855.0M664.2 760.0h14M664.2 855.0h14M669.0 780.0V865.0M662.0 780.0h14M662.0 865.0h14M689.8 731.0V875.0M682.8 731.0h14M682.8 875.0h14M697.0 789.0V862.8M690.0 789.0h14M690.0 862.8h14M690.6 805.0V872.0M683.6 805.0h14M683.6 872.0h14M718.6 752.2V824.7M711.6 752.2h14M711.6 824.7h14M746.5 717.9V887.5M739.5 717.9h14M739.5 887.5h14M769.4 739.5V882.4M762.4 739.5h14M762.4 882.4h14M784.2 729.8V809.7M777.2 729.8h14M777.2 809.7h14M861.2 632.7V781.0M854.2 632.7h14M854.2 781.0h14M863.6 658.0V721.6M856.6 658.0h14M856.6 721.6h14M872.1 640.0V705.0M865.1 640.0h14M865.1 705.0h14M882.4 645.0V705.0M875.4 645.0h14M875.4 705.0h14M882.4 657.4V730.0M875.4 657.4h14M875.4 730.0h14M901.1 632.7V660.0M894.1 632.7h14M894.1 660.0h14M906.6 632.7V690.0M899.6 632.7h14M899.6 690.0h14M901.7 645.0V720.0M894.7 645.0h14M894.7 720.0h14M910.2 640.0V700.0M903.2 640.0h14M903.2 700.0h14M924.7 642.0V705.0M917.7 642.0h14M917.7 705.0h14M921.1 645.0V712.0M914.1 645.0h14M914.1 712.0h14M915.1 650.0V715.0M908.1 650.0h14M908.1 715.0h14M918.7 655.0V730.0M911.7 655.0h14M911.7 730.0h14M930.2 660.0V725.0M923.2 660.0h14M923.2 725.0h14M942.3 655.0V712.0M935.3 655.0h14M935.3 712.0h14M949.0 670.0V728.0M942.0 670.0h14M942.0 728.0h14M963.5 672.0V736.7M956.5 672.0h14M956.5 736.7h14M901.1 665.0V738.0M894.1 665.0h14M894.1 738.0h14M915.1 668.0V740.0M908.1 668.0h14M908.1 740.0h14M925.4 680.0V745.0M918.4 680.0h14M918.4 745.0h14M936.9 668.0V741.0M929.9 668.0h14M929.9 741.0h14M984.7 645.9V713.7M977.7 645.9h14M977.7 713.7h14M1027.0 648.3V724.0M1020.0 648.3h14M1020.0 724.0h14M1075.5 658.8V717.0M1068.5 658.8h14M1068.5 717.0h14M1067.2 686.0V744.0M1060.2 686.0h14M1060.2 744.0h14M1125.8 666.6V723.6M1118.8 666.6h14M1118.8 723.6h14M1152.3 681.5V749.9M1145.3 681.5h14M1145.3 749.9h14M1164.0 670.5V738.7M1157.0 670.5h14M1157.0 738.7h14M1186.2 654.9V733.0M1179.2 654.9h14M1179.2 733.0h14M1182.8 676.2V727.8M1175.8 676.2h14M1175.8 727.8h14M1234.3 677.5V750.4M1227.3 677.5h14M1227.3 750.4h14M1245.5 691.3V751.7M1238.5 691.3h14M1238.5 751.7h14M1255.9 678.1V752.2M1248.9 678.1h14M1248.9 752.2h14M1334.5 671.6V738.7M1327.5 671.6h14M1327.5 738.7h14M1425.6 676.2V749.6M1418.6 676.2h14M1418.6 749.6h14M1572.2 667.7V728.8M1565.2 667.7h14M1565.2 728.8h14M1584.5 669.2V731.7M1577.5 669.2h14M1577.5 731.7h14M1679.5 676.2V732.5M1672.5 676.2h14M1672.5 732.5h14M1698.5 661.2V736.1M1691.5 661.2h14M1691.5 736.1h14M1729.7 669.0V739.8M1722.7 669.0h14M1722.7 739.8h14M1824.2 691.9V753.8M1817.2 691.9h14M1817.2 753.8h14M1837.7 657.5V803.8M1830.7 657.5h14M1830.7 803.8h14" stroke="#c0c0c0" stroke-width="2.0" fill="none"/>
<circle cx="267.5" cy="755.2" r="7.9" fill="#1f78b4" stroke="#000" stroke-width="2.4"/>
<circle cx="270.8" cy="758.3" r="7.9" fill="#1f78b4" stroke="#000" stroke-width="2.4"/>
<circle cx="274.8" cy="758.1" r="7.9" fill="#1f78b4" stroke="#000" stroke-width="2.4"/>
<circle cx="280.1" cy="754.6" r="7.9" fill="#1f78b4" stroke="#000" stroke-width="2.4"/>
<circle cx="284.1" cy="760.6" r="7.9" fill="#1f78b4" stroke="#000" stroke-width="2.4"/>
<circle cx="287.6" cy="759.0" r="7.9" fill="#1f78b4" stroke="#000" stroke-width="2.4"/>
<circle cx="292.8" cy="757.2" r="7.9" fill="#1f78b4" stroke="#000" stroke-width="2.4"/>
<circle cx="295.2" cy="760.9" r="7.9" fill="#1f78b4" stroke="#000" stroke-width="2.4"/>
<circle cx="299.6" cy="754.9" r="7.9" fill="#1f78b4" stroke="#000" stroke-width="2.4"/>
<circle cx="305.7" cy="755.4" r="7.9" fill="#1f78b4" stroke="#000" stroke-width="2.4"/>
<circle cx="309.3" cy="757.0" r="7.9" fill="#1f78b4" stroke="#000" stroke-width="2.4"/>
<circle cx="311.6" cy="754.5" r="7.9" fill="#1f78b4" stroke="#000" stroke-width="2.4"/>
<circle cx="317.6" cy="757.4" r="7.9" fill="#1f78b4" stroke="#000" stroke-width="2.4"/>
<circle cx="321.4" cy="757.6" r="7.9" fill="#1f78b4" stroke="#000" stroke-width="2.4"/>
<circle cx="326.1" cy="759.6" r="7.9" fill="#1f78b4" stroke="#000" stroke-width="2.4"/>
<circle cx="329.5" cy="758.2" r="7.9" fill="#1f78b4" stroke="#000" stroke-width="2.4"/>
<circle cx="334.1" cy="756.3" r="7.9" fill="#1f78b4" stroke="#000" stroke-width="2.4"/>
<circle cx="336.3" cy="757.3" r="7.9" fill="#1f78b4" stroke="#000" stroke-width="2.4"/>
<circle cx="340.5" cy="757.9" r="7.9" fill="#1f78b4" stroke="#000" stroke-width="2.4"/>
<circle cx="346.2" cy="760.1" r="7.9" fill="#1f78b4" stroke="#000" stroke-width="2.4"/>
<circle cx="350.9" cy="756.5" r="7.9" fill="#1f78b4" stroke="#000" stroke-width="2.4"/>
<circle cx="354.1" cy="758.6" r="7.9" fill="#1f78b4" stroke="#000" stroke-width="2.4"/>
<circle cx="358.9" cy="761.6" r="7.9" fill="#1f78b4" stroke="#000" stroke-width="2.4"/>
<circle cx="362.5" cy="754.5" r="7.9" fill="#1f78b4" stroke="#000" stroke-width="2.4"/>
<circle cx="270.4" cy="771.9" r="7.9" fill="#1f78b4" stroke="#000" stroke-width="2.4"/>
<circle cx="273.8" cy="767.1" r="7.9" fill="#1f78b4" stroke="#000" stroke-width="2.4"/>
<circle cx="277.5" cy="767.7" r="7.9" fill="#1f78b4" stroke="#000" stroke-width="2.4"/>
<circle cx="282.3" cy="764.5" r="7.9" fill="#1f78b4" stroke="#000" stroke-width="2.4"/>
<circle cx="286.8" cy="766.0" r="7.9" fill="#1f78b4" stroke="#000" stroke-width="2.4"/>
<circle cx="293.5" cy="764.6" r="7.9" fill="#1f78b4" stroke="#000" stroke-width="2.4"/>
<circle cx="297.0" cy="771.1" r="7.9" fill="#1f78b4" stroke="#000" stroke-width="2.4"/>
<circle cx="302.4" cy="766.2" r="7.9" fill="#1f78b4" stroke="#000" stroke-width="2.4"/>
<circle cx="305.4" cy="771.1" r="7.9" fill="#1f78b4" stroke="#000" stroke-width="2.4"/>
<circle cx="309.2" cy="765.4" r="7.9" fill="#1f78b4" stroke="#000" stroke-width="2.4"/>
<circle cx="314.0" cy="767.9" r="7.9" fill="#1f78b4" stroke="#000" stroke-width="2.4"/>
<circle cx="318.5" cy="764.0" r="7.9" fill="#1f78b4" stroke="#000" stroke-width="2.4"/>
<circle cx="323.3" cy="768.5" r="7.9" fill="#1f78b4" stroke="#000" stroke-width="2.4"/>
<circle cx="328.8" cy="768.1" r="7.9" fill="#1f78b4" stroke="#000" stroke-width="2.4"/>
<circle cx="333.2" cy="764.4" r="7.9" fill="#1f78b4" stroke="#000" stroke-width="2.4"/>
<circle cx="338.0" cy="771.0" r="7.9" fill="#1f78b4" stroke="#000" stroke-width="2.4"/>
<circle cx="341.3" cy="767.2" r="7.9" fill="#1f78b4" stroke="#000" stroke-width="2.4"/>
<circle cx="346.5" cy="764.5" r="7.9" fill="#1f78b4" stroke="#000" stroke-width="2.4"/>
<circle cx="349.7" cy="765.3" r="7.9" fill="#1f78b4" stroke="#000" stroke-width="2.4"/>
<circle cx="353.7" cy="764.0" r="7.9" fill="#1f78b4" stroke="#000" stroke-width="2.4"/>
<circle cx="358.3" cy="766.9" r="7.9" fill="#1f78b4" stroke="#000" stroke-width="2.4"/>
<circle cx="365.1" cy="768.9" r="7.9" fill="#1f78b4" stroke="#000" stroke-width="2.4"/>
<circle cx="283.8" cy="745.4" r="7.9" fill="#1f78b4" stroke="#000" stroke-width="2.4"/>
<circle cx="360.9" cy="762.5" r="7.9" fill="#1f78b4" stroke="#000" stroke-width="2.4"/>
<circle cx="360.2" cy="778.1" r="7.9" fill="#fdbf6f" stroke="#000" stroke-width="2.4"/>
<circle cx="366.7" cy="775.9" r="7.9" fill="#fdbf6f" stroke="#000" stroke-width="2.4"/>
<circle cx="372.7" cy="782.4" r="7.9" fill="#fdbf6f" stroke="#000" stroke-width="2.4"/>
<circle cx="374.9" cy="760.6" r="7.9" fill="#fdbf6f" stroke="#000" stroke-width="2.4"/>
<circle cx="377.0" cy="784.6" r="7.9" fill="#fdbf6f" stroke="#000" stroke-width="2.4"/>
<circle cx="381.4" cy="778.1" r="7.9" fill="#fdbf6f" stroke="#000" stroke-width="2.4"/>
<circle cx="383.6" cy="763.9" r="7.9" fill="#fdbf6f" stroke="#000" stroke-width="2.4"/>
<circle cx="386.9" cy="750.8" r="7.9" fill="#fdbf6f" stroke="#000" stroke-width="2.4"/>
<circle cx="386.9" cy="780.2" r="7.9" fill="#fdbf6f" stroke="#000" stroke-width="2.4"/>
<circle cx="392.3" cy="774.8" r="7.9" fill="#fdbf6f" stroke="#000" stroke-width="2.4"/>
<circle cx="396.7" cy="775.9" r="7.9" fill="#fdbf6f" stroke="#000" stroke-width="2.4"/>
<circle cx="401.0" cy="777.0" r="7.9" fill="#fdbf6f" stroke="#000" stroke-width="2.4"/>
<circle cx="386.9" cy="739.4" r="7.9" fill="#fdbf6f" stroke="#000" stroke-width="2.4"/>
<circle cx="396.7" cy="748.1" r="7.9" fill="#fdbf6f" stroke="#000" stroke-width="2.4"/>
<circle cx="401.0" cy="755.2" r="7.9" fill="#fdbf6f" stroke="#000" stroke-width="2.4"/>
<circle cx="404.3" cy="770.4" r="7.9" fill="#fdbf6f" stroke="#000" stroke-width="2.4"/>
<circle cx="390.0" cy="768.0" r="7.9" fill="#fdbf6f" stroke="#000" stroke-width="2.4"/>
<circle cx="395.0" cy="760.0" r="7.9" fill="#fdbf6f" stroke="#000" stroke-width="2.4"/>
<circle cx="379.0" cy="772.0" r="7.9" fill="#fdbf6f" stroke="#000" stroke-width="2.4"/>
<circle cx="369.0" cy="768.0" r="7.9" fill="#fdbf6f" stroke="#000" stroke-width="2.4"/>
<circle cx="417.4" cy="754.1" r="7.9" fill="#b2df8a" stroke="#000" stroke-width="2.4"/>
<circle cx="418.4" cy="766.1" r="7.9" fill="#b2df8a" stroke="#000" stroke-width="2.4"/>
<circle cx="415.2" cy="774.8" r="7.9" fill="#b2df8a" stroke="#000" stroke-width="2.4"/>
<circle cx="427.2" cy="757.4" r="7.9" fill="#ff7f00" stroke="#000" stroke-width="2.4"/>
<circle cx="429.3" cy="763.9" r="7.9" fill="#ff7f00" stroke="#000" stroke-width="2.4"/>
<circle cx="430.4" cy="784.6" r="7.9" fill="#33a02c" stroke="#000" stroke-width="2.4"/>
<circle cx="435.9" cy="784.6" r="7.9" fill="#33a02c" stroke="#000" stroke-width="2.4"/>
<circle cx="441.3" cy="781.3" r="7.9" fill="#33a02c" stroke="#000" stroke-width="2.4"/>
<circle cx="442.4" cy="773.7" r="7.9" fill="#33a02c" stroke="#000" stroke-width="2.4"/>
<circle cx="446.2" cy="767.2" r="7.9" fill="#33a02c" stroke="#000" stroke-width="2.4"/>
<circle cx="447.9" cy="754.1" r="7.9" fill="#33a02c" stroke="#000" stroke-width="2.4"/>
<circle cx="452.8" cy="747.0" r="7.9" fill="#33a02c" stroke="#000" stroke-width="2.4"/>
<circle cx="449.0" cy="778.1" r="7.9" fill="#33a02c" stroke="#000" stroke-width="2.4"/>
<circle cx="455.5" cy="780.2" r="7.9" fill="#33a02c" stroke="#000" stroke-width="2.4"/>
<circle cx="459.9" cy="784.6" r="7.9" fill="#33a02c" stroke="#000" stroke-width="2.4"/>
<circle cx="464.2" cy="765.0" r="7.9" fill="#33a02c" stroke="#000" stroke-width="2.4"/>
<circle cx="471.8" cy="763.9" r="7.9" fill="#33a02c" stroke="#000" stroke-width="2.4"/>
<circle cx="469.7" cy="775.9" r="7.9" fill="#33a02c" stroke="#000" stroke-width="2.4"/>
<circle cx="468.6" cy="787.9" r="7.9" fill="#33a02c" stroke="#000" stroke-width="2.4"/>
<circle cx="462.0" cy="799.9" r="7.9" fill="#33a02c" stroke="#000" stroke-width="2.4"/>
<circle cx="485.5" cy="767.2" r="7.9" fill="#1f78b4" stroke="#000" stroke-width="2.4"/>
<circle cx="496.9" cy="761.7" r="7.9" fill="#1f78b4" stroke="#000" stroke-width="2.4"/>
<circle cx="504.5" cy="750.8" r="7.9" fill="#1f78b4" stroke="#000" stroke-width="2.4"/>
<circle cx="512.2" cy="756.3" r="7.9" fill="#1f78b4" stroke="#000" stroke-width="2.4"/>
<circle cx="514.3" cy="771.5" r="7.9" fill="#1f78b4" stroke="#000" stroke-width="2.4"/>
<circle cx="503.4" cy="770.4" r="7.9" fill="#1f78b4" stroke="#000" stroke-width="2.4"/>
<circle cx="518.7" cy="760.6" r="7.9" fill="#1f78b4" stroke="#000" stroke-width="2.4"/>
<circle cx="514.8" cy="758.0" r="7.9" fill="#1f78b4" stroke="#000" stroke-width="2.4"/>
<circle cx="514.8" cy="772.1" r="7.9" fill="#1f78b4" stroke="#000" stroke-width="2.4"/>
<circle cx="525.2" cy="785.4" r="7.9" fill="#33a02c" stroke="#000" stroke-width="2.4"/>
<circle cx="529.7" cy="778.0" r="7.9" fill="#b2df8a" stroke="#000" stroke-width="2.4"/>
<circle cx="534.1" cy="753.6" r="7.9" fill="#1f78b4" stroke="#000" stroke-width="2.4"/>
<circle cx="537.1" cy="766.2" r="7.9" fill="#1f78b4" stroke="#000" stroke-width="2.4"/>
<circle cx="543.0" cy="756.5" r="7.9" fill="#1f78b4" stroke="#000" stroke-width="2.4"/>
<circle cx="550.4" cy="764.0" r="7.9" fill="#1f78b4" stroke="#000" stroke-width="2.4"/>
<circle cx="551.9" cy="782.5" r="7.9" fill="#b2df8a" stroke="#000" stroke-width="2.4"/>
<circle cx="562.3" cy="769.1" r="7.9" fill="#1f78b4" stroke="#000" stroke-width="2.4"/>
<circle cx="568.2" cy="774.3" r="7.9" fill="#1f78b4" stroke="#000" stroke-width="2.4"/>
<circle cx="565.2" cy="781.0" r="7.9" fill="#b2df8a" stroke="#000" stroke-width="2.4"/>
<circle cx="575.6" cy="757.3" r="7.9" fill="#1f78b4" stroke="#000" stroke-width="2.4"/>
<circle cx="583.0" cy="763.2" r="7.9" fill="#1f78b4" stroke="#000" stroke-width="2.4"/>
<circle cx="577.1" cy="747.6" r="7.9" fill="#1f78b4" stroke="#000" stroke-width="2.4"/>
<circle cx="537.1" cy="786.9" r="7.9" fill="#1f78b4" stroke="#000" stroke-width="2.4"/>
<circle cx="598.6" cy="801.8" r="7.9" fill="#b2df8a" stroke="#000" stroke-width="2.4"/>
<circle cx="607.5" cy="775.8" r="7.9" fill="#b2df8a" stroke="#000" stroke-width="2.4"/>
<circle cx="614.2" cy="770.6" r="7.9" fill="#b2df8a" stroke="#000" stroke-width="2.4"/>
<circle cx="618.6" cy="778.0" r="7.9" fill="#b2df8a" stroke="#000" stroke-width="2.4"/>
<circle cx="610.5" cy="784.0" r="7.9" fill="#1f78b4" stroke="#000" stroke-width="2.4"/>
<circle cx="629.0" cy="760.2" r="7.9" fill="#1f78b4" stroke="#000" stroke-width="2.4"/>
<circle cx="660.1" cy="755.1" r="7.9" fill="#b2df8a" stroke="#000" stroke-width="2.4"/>
<circle cx="660.9" cy="761.7" r="7.9" fill="#b2df8a" stroke="#000" stroke-width="2.4"/>
<circle cx="658.6" cy="766.9" r="7.9" fill="#b2df8a" stroke="#000" stroke-width="2.4"/>
<circle cx="666.0" cy="780.3" r="7.9" fill="#fb9a99" stroke="#000" stroke-width="2.4"/>
<circle cx="669.8" cy="791.4" r="7.9" fill="#fb9a99" stroke="#000" stroke-width="2.4"/>
<circle cx="671.2" cy="807.7" r="7.9" fill="#fb9a99" stroke="#000" stroke-width="2.4"/>
<circle cx="669.0" cy="822.5" r="7.9" fill="#fb9a99" stroke="#000" stroke-width="2.4"/>
<circle cx="689.8" cy="768.4" r="7.9" fill="#b2df8a" stroke="#000" stroke-width="2.4"/>
<circle cx="697.0" cy="826.0" r="7.9" fill="#fb9a99" stroke="#000" stroke-width="2.4"/>
<circle cx="690.6" cy="838.7" r="7.9" fill="#33a02c" stroke="#000" stroke-width="2.4"/>
<circle cx="718.6" cy="788.3" r="7.9" fill="#b2df8a" stroke="#000" stroke-width="2.4"/>
<circle cx="746.5" cy="802.6" r="7.9" fill="#fb9a99" stroke="#000" stroke-width="2.4"/>
<circle cx="769.4" cy="811.2" r="7.9" fill="#a6cee3" stroke="#000" stroke-width="2.4"/>
<circle cx="784.2" cy="770.0" r="7.9" fill="#fb9a99" stroke="#000" stroke-width="2.4"/>
<circle cx="861.2" cy="690.1" r="7.9" fill="#a6cee3" stroke="#000" stroke-width="2.4"/>
<circle cx="863.6" cy="703.4" r="7.9" fill="#b2df8a" stroke="#000" stroke-width="2.4"/>
<circle cx="872.1" cy="672.0" r="7.9" fill="#fb9a99" stroke="#000" stroke-width="2.4"/>
<circle cx="882.4" cy="673.8" r="7.9" fill="#fb9a99" stroke="#000" stroke-width="2.4"/>
<circle cx="882.4" cy="688.9" r="7.9" fill="#33a02c" stroke="#000" stroke-width="2.4"/>
<circle cx="901.1" cy="633.8" r="7.9" fill="#fb9a99" stroke="#000" stroke-width="2.4"/>
<circle cx="906.6" cy="648.3" r="7.9" fill="#fb9a99" stroke="#000" stroke-width="2.4"/>
<circle cx="901.7" cy="682.8" r="7.9" fill="#fb9a99" stroke="#000" stroke-width="2.4"/>
<circle cx="910.2" cy="668.3" r="7.9" fill="#fb9a99" stroke="#000" stroke-width="2.4"/>
<circle cx="924.7" cy="670.7" r="7.9" fill="#fb9a99" stroke="#000" stroke-width="2.4"/>
<circle cx="921.1" cy="675.6" r="7.9" fill="#fb9a99" stroke="#000" stroke-width="2.4"/>
<circle cx="915.1" cy="680.4" r="7.9" fill="#fb9a99" stroke="#000" stroke-width="2.4"/>
<circle cx="918.7" cy="691.3" r="7.9" fill="#fb9a99" stroke="#000" stroke-width="2.4"/>
<circle cx="930.2" cy="688.9" r="7.9" fill="#fb9a99" stroke="#000" stroke-width="2.4"/>
<circle cx="942.3" cy="683.5" r="7.9" fill="#fb9a99" stroke="#000" stroke-width="2.4"/>
<circle cx="949.0" cy="697.4" r="7.9" fill="#fb9a99" stroke="#000" stroke-width="2.4"/>
<circle cx="963.5" cy="704.6" r="7.9" fill="#fb9a99" stroke="#000" stroke-width="2.4"/>
<circle cx="901.1" cy="701.6" r="7.9" fill="#b2df8a" stroke="#000" stroke-width="2.4"/>
<circle cx="915.1" cy="702.8" r="7.9" fill="#b2df8a" stroke="#000" stroke-width="2.4"/>
<circle cx="925.4" cy="714.3" r="7.9" fill="#b2df8a" stroke="#000" stroke-width="2.4"/>
<circle cx="936.9" cy="704.6" r="7.9" fill="#b2df8a" stroke="#000" stroke-width="2.4"/>
<circle cx="984.7" cy="678.6" r="7.9" fill="#33a02c" stroke="#000" stroke-width="2.4"/>
<circle cx="1027.0" cy="685.9" r="7.9" fill="#fb9a99" stroke="#000" stroke-width="2.4"/>
<circle cx="1075.5" cy="688.0" r="7.9" fill="#fb9a99" stroke="#000" stroke-width="2.4"/>
<circle cx="1067.2" cy="715.3" r="7.9" fill="#33a02c" stroke="#000" stroke-width="2.4"/>
<circle cx="1125.8" cy="695.2" r="7.9" fill="#fb9a99" stroke="#000" stroke-width="2.4"/>
<circle cx="1152.3" cy="715.8" r="7.9" fill="#b2df8a" stroke="#000" stroke-width="2.4"/>
<circle cx="1164.0" cy="704.4" r="7.9" fill="#fb9a99" stroke="#000" stroke-width="2.4"/>
<circle cx="1186.2" cy="693.9" r="7.9" fill="#33a02c" stroke="#000" stroke-width="2.4"/>
<circle cx="1182.8" cy="702.3" r="7.9" fill="#fb9a99" stroke="#000" stroke-width="2.4"/>
<circle cx="1234.3" cy="714.0" r="7.9" fill="#fb9a99" stroke="#000" stroke-width="2.4"/>
<circle cx="1245.5" cy="721.8" r="7.9" fill="#b2df8a" stroke="#000" stroke-width="2.4"/>
<circle cx="1255.9" cy="715.3" r="7.9" fill="#b2df8a" stroke="#000" stroke-width="2.4"/>
<circle cx="1334.5" cy="704.9" r="7.9" fill="#fb9a99" stroke="#000" stroke-width="2.4"/>
<circle cx="1425.6" cy="712.7" r="7.9" fill="#fb9a99" stroke="#000" stroke-width="2.4"/>
<circle cx="1572.2" cy="697.9" r="7.9" fill="#a6cee3" stroke="#000" stroke-width="2.4"/>
<circle cx="1584.5" cy="700.5" r="7.9" fill="#33a02c" stroke="#000" stroke-width="2.4"/>
<circle cx="1679.5" cy="704.1" r="7.9" fill="#33a02c" stroke="#000" stroke-width="2.4"/>
<circle cx="1698.5" cy="698.4" r="7.9" fill="#a6cee3" stroke="#000" stroke-width="2.4"/>
<circle cx="1729.7" cy="704.1" r="7.9" fill="#33a02c" stroke="#000" stroke-width="2.4"/>
<circle cx="1824.2" cy="722.6" r="7.9" fill="#fb9a99" stroke="#000" stroke-width="2.4"/>
<circle cx="1837.7" cy="730.4" r="7.9" fill="#fb9a99" stroke="#000" stroke-width="2.4"/>
</g>
<line x1="858.9" y1="632.5" x2="858.9" y2="696.0" stroke="#000" stroke-width="3" stroke-dasharray="12 15.0"/>
<line x1="725.5" y1="709.0" x2="725.5" y2="957.5" stroke="#000" stroke-width="3" stroke-dasharray="12 15.0"/>
<text x="598.7" y="658.4" font-size="27.1" font-weight="bold" fill="#000">Siberia_Yana.Yana1</text>
<text x="337.3" y="945.3" font-size="27.1" font-weight="bold" fill="#000">Siberia_BelayaGora.IN18_005</text>
<rect x="223.4" y="632.7" width="1652.6" height="325.6" fill="none" stroke="#000" stroke-width="2.4"/>
<line x1="200.9" y1="643.5" x2="223.4" y2="643.5" stroke="#000" stroke-width="2"/>
<line x1="200.9" y1="704.1" x2="223.4" y2="704.1" stroke="#000" stroke-width="2"/>
<line x1="200.9" y1="764.6" x2="223.4" y2="764.6" stroke="#000" stroke-width="2"/>
<line x1="200.9" y1="825.7" x2="223.4" y2="825.7" stroke="#000" stroke-width="2"/>
<line x1="200.9" y1="885.7" x2="223.4" y2="885.7" stroke="#000" stroke-width="2"/>
<line x1="200.9" y1="946.2" x2="223.4" y2="946.2" stroke="#000" stroke-width="2"/>
<text transform="translate(194.5 704.1) rotate(-90)" text-anchor="middle" font-size="36.3">0</text>
<text transform="translate(194.5 946.2) rotate(-90)" text-anchor="middle" font-size="36.3">−0.0020</text>
<line x1="483.8" y1="958.3" x2="483.8" y2="980.8" stroke="#000" stroke-width="2"/>
<text x="483.8" y="1013.2" text-anchor="middle" font-size="36">0</text>
<line x1="616.9" y1="958.3" x2="616.9" y2="980.8" stroke="#000" stroke-width="2"/>
<text x="616.9" y="1013.2" text-anchor="middle" font-size="36">10</text>
<line x1="750.0" y1="958.3" x2="750.0" y2="980.8" stroke="#000" stroke-width="2"/>
<text x="750.0" y="1013.2" text-anchor="middle" font-size="36">20</text>
<line x1="883.0" y1="958.3" x2="883.0" y2="980.8" stroke="#000" stroke-width="2"/>
<text x="883.0" y="1013.2" text-anchor="middle" font-size="36">30</text>
<line x1="1016.1" y1="958.3" x2="1016.1" y2="980.8" stroke="#000" stroke-width="2"/>
<text x="1016.1" y="1013.2" text-anchor="middle" font-size="36">40</text>
<line x1="1149.2" y1="958.3" x2="1149.2" y2="980.8" stroke="#000" stroke-width="2"/>
<text x="1149.2" y="1013.2" text-anchor="middle" font-size="36">50</text>
<line x1="1282.3" y1="958.3" x2="1282.3" y2="980.8" stroke="#000" stroke-width="2"/>
<text x="1282.3" y="1013.2" text-anchor="middle" font-size="36">60</text>
<line x1="1415.4" y1="958.3" x2="1415.4" y2="980.8" stroke="#000" stroke-width="2"/>
<text x="1415.4" y="1013.2" text-anchor="middle" font-size="36">70</text>
<line x1="1548.4" y1="958.3" x2="1548.4" y2="980.8" stroke="#000" stroke-width="2"/>
<text x="1548.4" y="1013.2" text-anchor="middle" font-size="36">80</text>
<line x1="1681.5" y1="958.3" x2="1681.5" y2="980.8" stroke="#000" stroke-width="2"/>
<text x="1681.5" y="1013.2" text-anchor="middle" font-size="36">90</text>
<line x1="1814.6" y1="958.3" x2="1814.6" y2="980.8" stroke="#000" stroke-width="2"/>
<text x="1814.6" y="1013.2" text-anchor="middle" font-size="36">100</text>
<text x="246.7" y="1009.6" font-size="36">Present-day</text>
<text x="1049.7" y="1049.9" text-anchor="middle" font-size="36">Time (kya)</text>
<text x="220.6" y="622.8" font-size="36.25" font-weight="bold">All post-LGM individuals are closer to a post-LGM Siberian wolf than a pre-LGM Siberian wolf</text>
<text x="-1.2" y="614.0" font-size="64" font-weight="bold" stroke="#000" stroke-width="1.6">b</text>
<text transform="translate(62.7 795.6) rotate(-90)" text-anchor="middle" font-size="30.35"><tspan>f</tspan><tspan font-size="21.2" dy="6">4</tspan><tspan dy="-6">(Armenia_Hovk1.HOV4,X;</tspan></text>
<text transform="translate(101.3 795.0) rotate(-90)" text-anchor="middle" font-size="30.35"><tspan font-weight="bold">Siberia_BelayaGora.IN18_005,</tspan></text>
<text transform="translate(142.6 796.1) rotate(-90)" text-anchor="middle" font-size="30.35"><tspan font-weight="bold">Siberia_Yana.Yana1</tspan><tspan>)</tspan></text>
<rect x="223.4" y="1108.1" width="260.4" height="325.4" fill="#fdfae6"/>
<line x1="223.4" y1="1215.8" x2="1876.0" y2="1215.8" stroke="#c0c0c0" stroke-width="1.8" stroke-dasharray="8.4 9.72" stroke-dashoffset="0"/>
<clipPath id="clipc"><rect x="223.4" y="1108.1" width="1652.6" height="325.4"/></clipPath>
<g clip-path="url(#clipc)">
<path d="M266.0 1243.4V1296.8M259.0 1243.4h14M259.0 1296.8h14M268.5 1254.9V1301.1M261.5 1254.9h14M261.5 1301.1h14M271.0 1243.9V1304.5M264.0 1243.9h14M264.0 1304.5h14M273.5 1256.2V1300.4M266.5 1256.2h14M266.5 1300.4h14M276.1 1242.7V1297.7M269.1 1242.7h14M269.1 1297.7h14M278.6 1246.3V1301.5M271.6 1246.3h14M271.6 1301.5h14M281.1 1250.9V1300.5M274.1 1250.9h14M274.1 1300.5h14M283.6 1252.9V1301.8M276.6 1252.9h14M276.6 1301.8h14M286.1 1248.8V1304.0M279.1 1248.8h14M279.1 1304.0h14M288.6 1251.5V1302.7M281.6 1251.5h14M281.6 1302.7h14M291.1 1248.2V1295.6M284.1 1248.2h14M284.1 1295.6h14M293.6 1252.5V1300.9M286.6 1252.5h14M286.6 1300.9h14M296.2 1248.9V1295.0M289.2 1248.9h14M289.2 1295.0h14M298.7 1247.1V1302.5M291.7 1247.1h14M291.7 1302.5h14M301.2 1246.4V1301.2M294.2 1246.4h14M294.2 1301.2h14M303.7 1247.2V1296.6M296.7 1247.2h14M296.7 1296.6h14M306.2 1247.5V1300.8M299.2 1247.5h14M299.2 1300.8h14M308.7 1246.0V1302.7M301.7 1246.0h14M301.7 1302.7h14M311.2 1249.3V1300.3M304.2 1249.3h14M304.2 1300.3h14M313.7 1255.1V1296.2M306.7 1255.1h14M306.7 1296.2h14M316.3 1247.9V1293.6M309.3 1247.9h14M309.3 1293.6h14M318.8 1246.4V1306.3M311.8 1246.4h14M311.8 1306.3h14M321.3 1248.6V1306.2M314.3 1248.6h14M314.3 1306.2h14M323.8 1254.1V1305.2M316.8 1254.1h14M316.8 1305.2h14M326.3 1249.2V1302.2M319.3 1249.2h14M319.3 1302.2h14M328.8 1250.8V1305.0M321.8 1250.8h14M321.8 1305.0h14M331.3 1247.4V1296.7M324.3 1247.4h14M324.3 1296.7h14M333.8 1254.3V1302.0M326.8 1254.3h14M326.8 1302.0h14M336.4 1245.1V1305.8M329.4 1245.1h14M329.4 1305.8h14M338.9 1245.0V1303.5M331.9 1245.0h14M331.9 1303.5h14M341.4 1249.6V1300.8M334.4 1249.6h14M334.4 1300.8h14M343.9 1245.1V1300.9M336.9 1245.1h14M336.9 1300.9h14M346.4 1248.7V1301.6M339.4 1248.7h14M339.4 1301.6h14M348.9 1244.7V1305.0M341.9 1244.7h14M341.9 1305.0h14M351.4 1243.5V1302.9M344.4 1243.5h14M344.4 1302.9h14M353.9 1242.8V1300.1M346.9 1242.8h14M346.9 1300.1h14M356.5 1256.8V1303.9M349.5 1256.8h14M349.5 1303.9h14M359.0 1244.6V1305.1M352.0 1244.6h14M352.0 1305.1h14M361.5 1251.3V1300.6M354.5 1251.3h14M354.5 1300.6h14M364.0 1251.9V1295.9M357.0 1251.9h14M357.0 1295.9h14M360.0 1235.7V1291.5M353.0 1235.7h14M353.0 1291.5h14M362.6 1235.0V1296.3M355.6 1235.0h14M355.6 1296.3h14M365.3 1232.1V1295.1M358.3 1232.1h14M358.3 1295.1h14M367.9 1225.8V1291.2M360.9 1225.8h14M360.9 1291.2h14M370.5 1232.6V1291.7M363.5 1232.6h14M363.5 1291.7h14M373.2 1231.9V1288.1M366.2 1231.9h14M366.2 1288.1h14M375.8 1232.9V1288.1M368.8 1232.9h14M368.8 1288.1h14M378.4 1234.5V1292.6M371.4 1234.5h14M371.4 1292.6h14M381.1 1229.3V1283.0M374.1 1229.3h14M374.1 1283.0h14M383.7 1236.8V1292.9M376.7 1236.8h14M376.7 1292.9h14M386.3 1237.2V1290.2M379.3 1237.2h14M379.3 1290.2h14M388.9 1237.9V1292.9M381.9 1237.9h14M381.9 1292.9h14M391.6 1233.6V1290.6M384.6 1233.6h14M384.6 1290.6h14M394.2 1233.0V1288.8M387.2 1233.0h14M387.2 1288.8h14M396.8 1230.6V1288.3M389.8 1230.6h14M389.8 1288.3h14M399.5 1231.1V1298.7M392.5 1231.1h14M392.5 1298.7h14M402.1 1232.8V1294.8M395.1 1232.8h14M395.1 1294.8h14M404.7 1231.7V1295.7M397.7 1231.7h14M397.7 1295.7h14M407.4 1231.2V1294.1M400.4 1231.2h14M400.4 1294.1h14M410.0 1228.1V1286.0M403.0 1228.1h14M403.0 1286.0h14M425.0 1239.0V1305.2M418.0 1239.0h14M418.0 1305.2h14M427.6 1248.9V1304.2M420.6 1248.9h14M420.6 1304.2h14M430.3 1242.2V1301.0M423.3 1242.2h14M423.3 1301.0h14M432.9 1244.8V1295.0M425.9 1244.8h14M425.9 1295.0h14M435.5 1240.8V1304.4M428.5 1240.8h14M428.5 1304.4h14M438.2 1240.6V1302.0M431.2 1240.6h14M431.2 1302.0h14M440.8 1241.5V1295.4M433.8 1241.5h14M433.8 1295.4h14M443.4 1240.3V1298.1M436.4 1240.3h14M436.4 1298.1h14M446.1 1244.7V1300.2M439.1 1244.7h14M439.1 1300.2h14M448.7 1247.4V1299.7M441.7 1247.4h14M441.7 1299.7h14M451.3 1250.6V1306.4M444.3 1250.6h14M444.3 1306.4h14M453.9 1240.7V1301.7M446.9 1240.7h14M446.9 1301.7h14M456.6 1241.0V1299.1M449.6 1241.0h14M449.6 1299.1h14M459.2 1243.6V1302.2M452.2 1243.6h14M452.2 1302.2h14M461.8 1248.9V1302.2M454.8 1248.9h14M454.8 1302.2h14M464.5 1238.6V1301.2M457.5 1238.6h14M457.5 1301.2h14M467.1 1249.8V1304.4M460.1 1249.8h14M460.1 1304.4h14M469.7 1242.5V1302.2M462.7 1242.5h14M462.7 1302.2h14M472.4 1251.2V1305.9M465.4 1251.2h14M465.4 1305.9h14M475.0 1246.9V1304.8M468.0 1246.9h14M468.0 1304.8h14M267.9 1237.4V1299.6M260.9 1237.4h14M260.9 1299.6h14M272.2 1241.0V1295.1M265.2 1241.0h14M265.2 1295.1h14M275.6 1240.5V1295.7M268.6 1240.5h14M268.6 1295.7h14M281.7 1241.1V1288.4M274.7 1241.1h14M274.7 1288.4h14M283.8 1242.2V1298.8M276.8 1242.2h14M276.8 1298.8h14M287.9 1240.3V1303.4M280.9 1240.3h14M280.9 1303.4h14M294.0 1247.0V1290.8M287.0 1247.0h14M287.0 1290.8h14M296.4 1247.5V1288.9M289.4 1247.5h14M289.4 1288.9h14M301.2 1245.6V1286.3M294.2 1245.6h14M294.2 1286.3h14M306.2 1237.4V1297.6M299.2 1237.4h14M299.2 1297.6h14M310.7 1243.1V1295.1M303.7 1243.1h14M303.7 1295.1h14M315.4 1244.3V1291.0M308.4 1244.3h14M308.4 1291.0h14M320.6 1241.9V1302.0M313.6 1241.9h14M313.6 1302.0h14M324.0 1243.8V1289.3M317.0 1243.8h14M317.0 1289.3h14M327.0 1235.4V1293.8M320.0 1235.4h14M320.0 1293.8h14M331.6 1246.1V1295.4M324.6 1246.1h14M324.6 1295.4h14M337.5 1250.8V1290.8M330.5 1250.8h14M330.5 1290.8h14M339.6 1245.6V1296.9M332.6 1245.6h14M332.6 1296.9h14M346.1 1246.3V1288.1M339.1 1246.3h14M339.1 1288.1h14M349.3 1247.0V1293.5M342.3 1247.0h14M342.3 1293.5h14M352.0 1235.1V1298.2M345.0 1235.1h14M345.0 1298.2h14M358.3 1242.0V1287.9M351.3 1242.0h14M351.3 1287.9h14M360.5 1234.9V1294.0M353.5 1234.9h14M353.5 1294.0h14M365.0 1243.1V1293.8M358.0 1243.1h14M358.0 1293.8h14M269.1 1262.3V1305.4M262.1 1262.3h14M262.1 1305.4h14M274.8 1253.9V1304.0M267.8 1253.9h14M267.8 1304.0h14M277.9 1248.5V1311.8M270.9 1248.5h14M270.9 1311.8h14M284.1 1249.8V1311.1M277.1 1249.8h14M277.1 1311.1h14M286.7 1250.9V1311.4M279.7 1250.9h14M279.7 1311.4h14M292.3 1246.9V1310.7M285.3 1246.9h14M285.3 1310.7h14M295.4 1250.8V1309.3M288.4 1250.8h14M288.4 1309.3h14M300.2 1259.5V1301.3M293.2 1259.5h14M293.2 1301.3h14M303.8 1259.7V1305.6M296.8 1259.7h14M296.8 1305.6h14M309.7 1255.5V1306.4M302.7 1255.5h14M302.7 1306.4h14M315.2 1255.0V1308.8M308.2 1255.0h14M308.2 1308.8h14M319.3 1257.6V1301.3M312.3 1257.6h14M312.3 1301.3h14M323.8 1261.5V1307.5M316.8 1261.5h14M316.8 1307.5h14M326.0 1252.6V1315.2M319.0 1252.6h14M319.0 1315.2h14M330.4 1255.0V1316.2M323.4 1255.0h14M323.4 1316.2h14M336.0 1260.1V1302.6M329.0 1260.1h14M329.0 1302.6h14M338.7 1262.8V1308.6M331.7 1262.8h14M331.7 1308.6h14M345.1 1250.2V1309.9M338.1 1250.2h14M338.1 1309.9h14M349.1 1258.2V1302.5M342.1 1258.2h14M342.1 1302.5h14M353.9 1255.8V1301.3M346.9 1255.8h14M346.9 1301.3h14M357.8 1257.4V1312.2M350.8 1257.4h14M350.8 1312.2h14M361.3 1262.9V1307.8M354.3 1262.9h14M354.3 1307.8h14M368.0 1236.8V1290.0M361.0 1236.8h14M361.0 1290.0h14M372.0 1225.1V1280.7M365.0 1225.1h14M365.0 1280.7h14M378.0 1239.1V1295.1M371.0 1239.1h14M371.0 1295.1h14M384.0 1220.7V1278.4M377.0 1220.7h14M377.0 1278.4h14M388.0 1241.0V1304.8M381.0 1241.0h14M381.0 1304.8h14M366.0 1242.2V1310.2M359.0 1242.2h14M359.0 1310.2h14M376.0 1243.4V1307.4M369.0 1243.4h14M369.0 1307.4h14M394.5 1217.7V1269.6M387.5 1217.7h14M387.5 1269.6h14M387.3 1220.2V1280.4M380.3 1220.2h14M380.3 1280.4h14M398.2 1218.7V1287.0M391.2 1218.7h14M391.2 1287.0h14M404.2 1234.7V1291.9M397.2 1234.7h14M397.2 1291.9h14M403.0 1240.5V1303.8M396.0 1240.5h14M396.0 1303.8h14M387.3 1247.1V1311.6M380.3 1247.1h14M380.3 1311.6h14M382.4 1253.5V1310.3M375.4 1253.5h14M375.4 1310.3h14M393.3 1231.6V1299.6M386.3 1231.6h14M386.3 1299.6h14M382.4 1226.8V1292.6M375.4 1226.8h14M375.4 1292.6h14M398.0 1232.3V1301.1M391.0 1232.3h14M391.0 1301.1h14M392.0 1251.1V1312.5M385.0 1251.1h14M385.0 1312.5h14M409.1 1215.0V1270.0M402.1 1215.0h14M402.1 1270.0h14M412.7 1220.0V1275.0M405.7 1220.0h14M405.7 1275.0h14M416.3 1225.0V1280.0M409.3 1225.0h14M409.3 1280.0h14M418.7 1230.0V1286.0M411.7 1230.0h14M411.7 1286.0h14M420.0 1245.0V1300.0M413.0 1245.0h14M413.0 1300.0h14M420.0 1205.0V1262.0M413.0 1205.0h14M413.0 1262.0h14M426.0 1195.0V1248.0M419.0 1195.0h14M419.0 1248.0h14M427.8 1205.0V1262.0M420.8 1205.0h14M420.8 1262.0h14M429.6 1220.0V1276.0M422.6 1220.0h14M422.6 1276.0h14M433.3 1244.4V1313.9M426.3 1244.4h14M426.3 1313.9h14M436.9 1232.7V1296.0M429.9 1232.7h14M429.9 1296.0h14M443.0 1227.8V1293.6M436.0 1227.8h14M436.0 1293.6h14M444.2 1258.3V1319.4M437.2 1258.3h14M437.2 1319.4h14M447.8 1233.3V1296.4M440.8 1233.3h14M440.8 1296.4h14M452.6 1241.3V1299.2M445.6 1241.3h14M445.6 1299.2h14M457.5 1226.4V1297.0M450.5 1226.4h14M450.5 1297.0h14M459.9 1253.5V1315.8M452.9 1253.5h14M452.9 1315.8h14M464.7 1251.0V1315.5M457.7 1251.0h14M457.7 1315.5h14M469.6 1248.3V1312.3M462.6 1248.3h14M462.6 1312.3h14M472.0 1240.1V1299.3M465.0 1240.1h14M465.0 1299.3h14M440.5 1251.6V1308.5M433.5 1251.6h14M433.5 1308.5h14M485.3 1249.8V1309.1M478.3 1249.8h14M478.3 1309.1h14M494.4 1231.9V1297.5M487.4 1231.9h14M487.4 1297.5h14M505.3 1220.8V1290.8M498.3 1220.8h14M498.3 1290.8h14M504.7 1244.9V1298.3M497.7 1244.9h14M497.7 1298.3h14M514.4 1243.1V1305.8M507.4 1243.1h14M507.4 1305.8h14M516.8 1242.0V1296.8M509.8 1242.0h14M509.8 1296.8h14M525.3 1217.0V1287.4M518.3 1217.0h14M518.3 1287.4h14M526.5 1244.9V1312.2M519.5 1244.9h14M519.5 1312.2h14M531.3 1208.8V1271.8M524.3 1208.8h14M524.3 1271.8h14M526.5 1242.0V1300.2M519.5 1242.0h14M519.5 1300.2h14M537.4 1220.8V1293.2M530.4 1220.8h14M530.4 1293.2h14M544.6 1221.1V1287.5M537.6 1221.1h14M537.6 1287.5h14M544.6 1238.2V1299.9M537.6 1238.2h14M537.6 1299.9h14M537.4 1258.5V1316.8M530.4 1258.5h14M530.4 1316.8h14M549.5 1245.8V1317.7M542.5 1245.8h14M542.5 1317.7h14M553.1 1219.6V1291.2M546.1 1219.6h14M546.1 1291.2h14M568.3 1217.4V1273.2M561.3 1217.4h14M561.3 1273.2h14M553.1 1241.1V1300.6M546.1 1241.1h14M546.1 1300.6h14M561.6 1245.4V1303.6M554.6 1245.4h14M554.6 1303.6h14M570.7 1236.5V1301.0M563.7 1236.5h14M563.7 1301.0h14M566.4 1267.1V1332.1M559.4 1267.1h14M559.4 1332.1h14M576.1 1259.6V1328.3M569.1 1259.6h14M569.1 1328.3h14M578.5 1249.6V1301.0M571.5 1249.6h14M571.5 1301.0h14M582.9 1240.0V1301.8M575.9 1240.0h14M575.9 1301.8h14M599.3 1117.8V1314.8M592.3 1117.8h14M592.3 1314.8h14M608.3 1222.0V1280.0M601.3 1222.0h14M601.3 1280.0h14M617.6 1223.0V1288.5M610.6 1223.0h14M610.6 1288.5h14M610.8 1252.0V1306.0M603.8 1252.0h14M603.8 1306.0h14M629.5 1248.3V1303.4M622.5 1248.3h14M622.5 1303.4h14M660.3 1127.0V1369.0M653.3 1127.0h14M653.3 1369.0h14M661.7 1222.0V1275.0M654.7 1222.0h14M654.7 1275.0h14M660.0 1228.0V1284.0M653.0 1228.0h14M653.0 1284.0h14M670.2 1250.0V1300.0M663.2 1250.0h14M663.2 1300.0h14M671.9 1258.0V1310.0M664.9 1258.0h14M664.9 1310.0h14M663.4 1262.0V1313.0M656.4 1262.0h14M656.4 1313.0h14M669.3 1268.0V1350.0M662.3 1268.0h14M662.3 1350.0h14M689.7 1215.0V1315.0M682.7 1215.0h14M682.7 1315.0h14M690.5 1266.0V1318.0M683.5 1266.0h14M683.5 1318.0h14M697.3 1269.9V1317.3M690.3 1269.9h14M690.3 1317.3h14M718.8 1213.1V1274.1M711.8 1213.1h14M711.8 1274.1h14M725.6 1268.2V1324.1M718.6 1268.2h14M718.6 1324.1h14M746.4 1287.7V1405.5M739.4 1287.7h14M739.4 1405.5h14M769.7 1238.5V1331.7M762.7 1238.5h14M762.7 1331.7h14M784.2 1277.5V1336.0M777.2 1277.5h14M777.2 1336.0h14M864.1 1170.6V1283.0M857.1 1170.6h14M857.1 1283.0h14M861.7 1247.5V1284.0M854.7 1247.5h14M854.7 1284.0h14M863.5 1272.0V1325.0M856.5 1272.0h14M856.5 1325.0h14M882.9 1275.1V1370.8M875.9 1275.1h14M875.9 1370.8h14M858.2 1290.0V1346.0M851.2 1290.0h14M851.2 1346.0h14M871.1 1300.0V1358.0M864.1 1300.0h14M864.1 1358.0h14M874.1 1292.0V1348.0M867.1 1292.0h14M867.1 1348.0h14M883.5 1300.0V1355.0M876.5 1300.0h14M876.5 1355.0h14M901.1 1268.0V1375.0M894.1 1268.0h14M894.1 1375.0h14M902.3 1300.0V1385.0M895.3 1300.0h14M895.3 1385.0h14M906.4 1268.0V1402.0M899.4 1268.0h14M899.4 1402.0h14M920.5 1290.0V1345.0M913.5 1290.0h14M913.5 1345.0h14M919.9 1295.0V1358.0M912.9 1295.0h14M912.9 1358.0h14M915.2 1300.0V1365.0M908.2 1300.0h14M908.2 1365.0h14M924.6 1305.0V1362.0M917.6 1305.0h14M917.6 1362.0h14M930.5 1295.0V1352.0M923.5 1295.0h14M923.5 1352.0h14M942.2 1280.0V1345.0M935.2 1280.0h14M935.2 1345.0h14M948.7 1259.3V1318.0M941.7 1259.3h14M941.7 1318.0h14M963.9 1276.9V1326.2M956.9 1276.9h14M956.9 1326.2h14M985.1 1285.1V1341.5M978.1 1285.1h14M978.1 1341.5h14M925.8 1164.7V1219.9M918.8 1164.7h14M918.8 1219.9h14M936.9 1182.9V1237.5M929.9 1182.9h14M929.9 1237.5h14M1027.2 1235.1V1297.6M1020.2 1235.1h14M1020.2 1297.6h14M1067.0 1215.3V1259.2M1060.0 1215.3h14M1060.0 1259.2h14M1075.7 1251.1V1300.5M1068.7 1251.1h14M1068.7 1300.5h14M1125.7 1235.1V1287.4M1118.7 1235.1h14M1118.7 1287.4h14M1152.7 1197.3V1250.5M1145.7 1197.3h14M1145.7 1250.5h14M1164.3 1235.1V1292.3M1157.3 1235.1h14M1157.3 1292.3h14M1182.6 1220.5V1268.0M1175.6 1220.5h14M1175.6 1268.0h14M1186.7 1230.2V1294.1M1179.7 1230.2h14M1179.7 1294.1h14M1234.0 1250.2V1307.7M1227.0 1250.2h14M1227.0 1307.7h14M1246.2 1187.7V1239.5M1239.2 1187.7h14M1239.2 1239.5h14M1255.8 1192.4V1258.9M1248.8 1192.4h14M1248.8 1258.9h14M1335.0 1227.5V1282.5M1328.0 1227.5h14M1328.0 1282.5h14M1425.9 1216.2V1271.9M1418.9 1216.2h14M1418.9 1271.9h14M1572.7 1211.6V1261.2M1565.7 1211.6h14M1565.7 1261.2h14M1584.4 1209.1V1261.6M1577.4 1209.1h14M1577.4 1261.6h14M1679.5 1216.2V1270.1M1672.5 1216.2h14M1672.5 1270.1h14M1698.7 1199.2V1259.5M1691.7 1199.2h14M1691.7 1259.5h14M1729.9 1224.4V1279.0M1722.9 1224.4h14M1722.9 1279.0h14M1823.9 1205.6V1261.2M1816.9 1205.6h14M1816.9 1261.2h14M1838.0 1170.1V1292.5M1831.0 1170.1h14M1831.0 1292.5h14" stroke="#c0c0c0" stroke-width="2.0" fill="none"/>
<circle cx="267.9" cy="1268.5" r="7.9" fill="#1f78b4" stroke="#000" stroke-width="2.4"/>
<circle cx="272.2" cy="1268.1" r="7.9" fill="#1f78b4" stroke="#000" stroke-width="2.4"/>
<circle cx="275.6" cy="1268.1" r="7.9" fill="#1f78b4" stroke="#000" stroke-width="2.4"/>
<circle cx="281.7" cy="1264.8" r="7.9" fill="#1f78b4" stroke="#000" stroke-width="2.4"/>
<circle cx="283.8" cy="1270.5" r="7.9" fill="#1f78b4" stroke="#000" stroke-width="2.4"/>
<circle cx="287.9" cy="1271.9" r="7.9" fill="#1f78b4" stroke="#000" stroke-width="2.4"/>
<circle cx="294.0" cy="1268.9" r="7.9" fill="#1f78b4" stroke="#000" stroke-width="2.4"/>
<circle cx="296.4" cy="1268.2" r="7.9" fill="#1f78b4" stroke="#000" stroke-width="2.4"/>
<circle cx="301.2" cy="1265.9" r="7.9" fill="#1f78b4" stroke="#000" stroke-width="2.4"/>
<circle cx="306.2" cy="1267.5" r="7.9" fill="#1f78b4" stroke="#000" stroke-width="2.4"/>
<circle cx="310.7" cy="1269.1" r="7.9" fill="#1f78b4" stroke="#000" stroke-width="2.4"/>
<circle cx="315.4" cy="1267.7" r="7.9" fill="#1f78b4" stroke="#000" stroke-width="2.4"/>
<circle cx="320.6" cy="1272.0" r="7.9" fill="#1f78b4" stroke="#000" stroke-width="2.4"/>
<circle cx="324.0" cy="1266.5" r="7.9" fill="#1f78b4" stroke="#000" stroke-width="2.4"/>
<circle cx="327.0" cy="1264.6" r="7.9" fill="#1f78b4" stroke="#000" stroke-width="2.4"/>
<circle cx="331.6" cy="1270.8" r="7.9" fill="#1f78b4" stroke="#000" stroke-width="2.4"/>
<circle cx="337.5" cy="1270.8" r="7.9" fill="#1f78b4" stroke="#000" stroke-width="2.4"/>
<circle cx="339.6" cy="1271.3" r="7.9" fill="#1f78b4" stroke="#000" stroke-width="2.4"/>
<circle cx="346.1" cy="1267.2" r="7.9" fill="#1f78b4" stroke="#000" stroke-width="2.4"/>
<circle cx="349.3" cy="1270.2" r="7.9" fill="#1f78b4" stroke="#000" stroke-width="2.4"/>
<circle cx="352.0" cy="1266.7" r="7.9" fill="#1f78b4" stroke="#000" stroke-width="2.4"/>
<circle cx="358.3" cy="1264.9" r="7.9" fill="#1f78b4" stroke="#000" stroke-width="2.4"/>
<circle cx="360.5" cy="1264.5" r="7.9" fill="#1f78b4" stroke="#000" stroke-width="2.4"/>
<circle cx="365.0" cy="1268.5" r="7.9" fill="#1f78b4" stroke="#000" stroke-width="2.4"/>
<circle cx="269.1" cy="1283.9" r="7.9" fill="#1f78b4" stroke="#000" stroke-width="2.4"/>
<circle cx="274.8" cy="1278.9" r="7.9" fill="#1f78b4" stroke="#000" stroke-width="2.4"/>
<circle cx="277.9" cy="1280.2" r="7.9" fill="#1f78b4" stroke="#000" stroke-width="2.4"/>
<circle cx="284.1" cy="1280.4" r="7.9" fill="#1f78b4" stroke="#000" stroke-width="2.4"/>
<circle cx="286.7" cy="1281.2" r="7.9" fill="#1f78b4" stroke="#000" stroke-width="2.4"/>
<circle cx="292.3" cy="1278.8" r="7.9" fill="#1f78b4" stroke="#000" stroke-width="2.4"/>
<circle cx="295.4" cy="1280.1" r="7.9" fill="#1f78b4" stroke="#000" stroke-width="2.4"/>
<circle cx="300.2" cy="1280.4" r="7.9" fill="#1f78b4" stroke="#000" stroke-width="2.4"/>
<circle cx="303.8" cy="1282.7" r="7.9" fill="#1f78b4" stroke="#000" stroke-width="2.4"/>
<circle cx="309.7" cy="1281.0" r="7.9" fill="#1f78b4" stroke="#000" stroke-width="2.4"/>
<circle cx="315.2" cy="1281.9" r="7.9" fill="#1f78b4" stroke="#000" stroke-width="2.4"/>
<circle cx="319.3" cy="1279.5" r="7.9" fill="#1f78b4" stroke="#000" stroke-width="2.4"/>
<circle cx="323.8" cy="1284.5" r="7.9" fill="#1f78b4" stroke="#000" stroke-width="2.4"/>
<circle cx="326.0" cy="1283.9" r="7.9" fill="#1f78b4" stroke="#000" stroke-width="2.4"/>
<circle cx="330.4" cy="1285.6" r="7.9" fill="#1f78b4" stroke="#000" stroke-width="2.4"/>
<circle cx="336.0" cy="1281.4" r="7.9" fill="#1f78b4" stroke="#000" stroke-width="2.4"/>
<circle cx="338.7" cy="1285.7" r="7.9" fill="#1f78b4" stroke="#000" stroke-width="2.4"/>
<circle cx="345.1" cy="1280.1" r="7.9" fill="#1f78b4" stroke="#000" stroke-width="2.4"/>
<circle cx="349.1" cy="1280.3" r="7.9" fill="#1f78b4" stroke="#000" stroke-width="2.4"/>
<circle cx="353.9" cy="1278.6" r="7.9" fill="#1f78b4" stroke="#000" stroke-width="2.4"/>
<circle cx="357.8" cy="1284.8" r="7.9" fill="#1f78b4" stroke="#000" stroke-width="2.4"/>
<circle cx="361.3" cy="1285.3" r="7.9" fill="#1f78b4" stroke="#000" stroke-width="2.4"/>
<circle cx="368.0" cy="1262.0" r="7.9" fill="#fdbf6f" stroke="#000" stroke-width="2.4"/>
<circle cx="372.0" cy="1255.0" r="7.9" fill="#fdbf6f" stroke="#000" stroke-width="2.4"/>
<circle cx="378.0" cy="1266.0" r="7.9" fill="#fdbf6f" stroke="#000" stroke-width="2.4"/>
<circle cx="384.0" cy="1252.0" r="7.9" fill="#fdbf6f" stroke="#000" stroke-width="2.4"/>
<circle cx="388.0" cy="1270.0" r="7.9" fill="#fdbf6f" stroke="#000" stroke-width="2.4"/>
<circle cx="366.0" cy="1278.0" r="7.9" fill="#fdbf6f" stroke="#000" stroke-width="2.4"/>
<circle cx="376.0" cy="1276.0" r="7.9" fill="#fdbf6f" stroke="#000" stroke-width="2.4"/>
<circle cx="394.5" cy="1244.2" r="7.9" fill="#fdbf6f" stroke="#000" stroke-width="2.4"/>
<circle cx="387.3" cy="1245.4" r="7.9" fill="#fdbf6f" stroke="#000" stroke-width="2.4"/>
<circle cx="398.2" cy="1251.4" r="7.9" fill="#fdbf6f" stroke="#000" stroke-width="2.4"/>
<circle cx="404.2" cy="1259.9" r="7.9" fill="#fdbf6f" stroke="#000" stroke-width="2.4"/>
<circle cx="403.0" cy="1270.8" r="7.9" fill="#fdbf6f" stroke="#000" stroke-width="2.4"/>
<circle cx="387.3" cy="1275.6" r="7.9" fill="#fdbf6f" stroke="#000" stroke-width="2.4"/>
<circle cx="382.4" cy="1279.3" r="7.9" fill="#fdbf6f" stroke="#000" stroke-width="2.4"/>
<circle cx="393.3" cy="1264.7" r="7.9" fill="#fdbf6f" stroke="#000" stroke-width="2.4"/>
<circle cx="382.4" cy="1259.9" r="7.9" fill="#fdbf6f" stroke="#000" stroke-width="2.4"/>
<circle cx="398.0" cy="1266.0" r="7.9" fill="#fdbf6f" stroke="#000" stroke-width="2.4"/>
<circle cx="392.0" cy="1280.0" r="7.9" fill="#fdbf6f" stroke="#000" stroke-width="2.4"/>
<circle cx="409.1" cy="1243.0" r="7.9" fill="#b2df8a" stroke="#000" stroke-width="2.4"/>
<circle cx="412.7" cy="1247.8" r="7.9" fill="#b2df8a" stroke="#000" stroke-width="2.4"/>
<circle cx="416.3" cy="1252.6" r="7.9" fill="#b2df8a" stroke="#000" stroke-width="2.4"/>
<circle cx="418.7" cy="1258.7" r="7.9" fill="#b2df8a" stroke="#000" stroke-width="2.4"/>
<circle cx="420.0" cy="1272.6" r="7.9" fill="#b2df8a" stroke="#000" stroke-width="2.4"/>
<circle cx="420.0" cy="1233.3" r="7.9" fill="#ff7f00" stroke="#000" stroke-width="2.4"/>
<circle cx="426.0" cy="1221.8" r="7.9" fill="#ff7f00" stroke="#000" stroke-width="2.4"/>
<circle cx="427.8" cy="1233.9" r="7.9" fill="#ff7f00" stroke="#000" stroke-width="2.4"/>
<circle cx="429.6" cy="1248.4" r="7.9" fill="#ff7f00" stroke="#000" stroke-width="2.4"/>
<circle cx="433.3" cy="1279.3" r="7.9" fill="#33a02c" stroke="#000" stroke-width="2.4"/>
<circle cx="436.9" cy="1262.3" r="7.9" fill="#33a02c" stroke="#000" stroke-width="2.4"/>
<circle cx="443.0" cy="1262.3" r="7.9" fill="#33a02c" stroke="#000" stroke-width="2.4"/>
<circle cx="444.2" cy="1290.2" r="7.9" fill="#33a02c" stroke="#000" stroke-width="2.4"/>
<circle cx="447.8" cy="1264.7" r="7.9" fill="#33a02c" stroke="#000" stroke-width="2.4"/>
<circle cx="452.6" cy="1267.2" r="7.9" fill="#33a02c" stroke="#000" stroke-width="2.4"/>
<circle cx="457.5" cy="1262.3" r="7.9" fill="#33a02c" stroke="#000" stroke-width="2.4"/>
<circle cx="459.9" cy="1286.5" r="7.9" fill="#33a02c" stroke="#000" stroke-width="2.4"/>
<circle cx="464.7" cy="1284.1" r="7.9" fill="#33a02c" stroke="#000" stroke-width="2.4"/>
<circle cx="469.6" cy="1278.1" r="7.9" fill="#33a02c" stroke="#000" stroke-width="2.4"/>
<circle cx="472.0" cy="1266.0" r="7.9" fill="#33a02c" stroke="#000" stroke-width="2.4"/>
<circle cx="440.5" cy="1276.9" r="7.9" fill="#33a02c" stroke="#000" stroke-width="2.4"/>
<circle cx="485.3" cy="1281.1" r="7.9" fill="#1f78b4" stroke="#000" stroke-width="2.4"/>
<circle cx="494.4" cy="1266.0" r="7.9" fill="#1f78b4" stroke="#000" stroke-width="2.4"/>
<circle cx="505.3" cy="1253.8" r="7.9" fill="#1f78b4" stroke="#000" stroke-width="2.4"/>
<circle cx="504.7" cy="1273.2" r="7.9" fill="#1f78b4" stroke="#000" stroke-width="2.4"/>
<circle cx="514.4" cy="1272.0" r="7.9" fill="#1f78b4" stroke="#000" stroke-width="2.4"/>
<circle cx="516.8" cy="1269.6" r="7.9" fill="#1f78b4" stroke="#000" stroke-width="2.4"/>
<circle cx="525.3" cy="1253.8" r="7.9" fill="#33a02c" stroke="#000" stroke-width="2.4"/>
<circle cx="526.5" cy="1275.6" r="7.9" fill="#33a02c" stroke="#000" stroke-width="2.4"/>
<circle cx="531.3" cy="1238.1" r="7.9" fill="#b2df8a" stroke="#000" stroke-width="2.4"/>
<circle cx="526.5" cy="1269.6" r="7.9" fill="#1f78b4" stroke="#000" stroke-width="2.4"/>
<circle cx="537.4" cy="1256.3" r="7.9" fill="#1f78b4" stroke="#000" stroke-width="2.4"/>
<circle cx="544.6" cy="1257.5" r="7.9" fill="#1f78b4" stroke="#000" stroke-width="2.4"/>
<circle cx="544.6" cy="1270.8" r="7.9" fill="#1f78b4" stroke="#000" stroke-width="2.4"/>
<circle cx="537.4" cy="1285.3" r="7.9" fill="#1f78b4" stroke="#000" stroke-width="2.4"/>
<circle cx="549.5" cy="1281.7" r="7.9" fill="#1f78b4" stroke="#000" stroke-width="2.4"/>
<circle cx="553.1" cy="1253.8" r="7.9" fill="#b2df8a" stroke="#000" stroke-width="2.4"/>
<circle cx="568.3" cy="1246.0" r="7.9" fill="#b2df8a" stroke="#000" stroke-width="2.4"/>
<circle cx="553.1" cy="1272.0" r="7.9" fill="#1f78b4" stroke="#000" stroke-width="2.4"/>
<circle cx="561.6" cy="1273.2" r="7.9" fill="#1f78b4" stroke="#000" stroke-width="2.4"/>
<circle cx="570.7" cy="1269.6" r="7.9" fill="#1f78b4" stroke="#000" stroke-width="2.4"/>
<circle cx="566.4" cy="1296.2" r="7.9" fill="#1f78b4" stroke="#000" stroke-width="2.4"/>
<circle cx="576.1" cy="1297.4" r="7.9" fill="#1f78b4" stroke="#000" stroke-width="2.4"/>
<circle cx="578.5" cy="1275.6" r="7.9" fill="#1f78b4" stroke="#000" stroke-width="2.4"/>
<circle cx="582.9" cy="1276.3" r="7.9" fill="#1f78b4" stroke="#000" stroke-width="2.4"/>
<circle cx="599.3" cy="1216.0" r="7.9" fill="#b2df8a" stroke="#000" stroke-width="2.4"/>
<circle cx="608.3" cy="1250.4" r="7.9" fill="#b2df8a" stroke="#000" stroke-width="2.4"/>
<circle cx="617.6" cy="1256.0" r="7.9" fill="#b2df8a" stroke="#000" stroke-width="2.4"/>
<circle cx="610.8" cy="1280.4" r="7.9" fill="#1f78b4" stroke="#000" stroke-width="2.4"/>
<circle cx="629.5" cy="1275.8" r="7.9" fill="#1f78b4" stroke="#000" stroke-width="2.4"/>
<circle cx="660.3" cy="1238.2" r="7.9" fill="#b2df8a" stroke="#000" stroke-width="2.4"/>
<circle cx="661.7" cy="1247.8" r="7.9" fill="#b2df8a" stroke="#000" stroke-width="2.4"/>
<circle cx="660.0" cy="1255.5" r="7.9" fill="#b2df8a" stroke="#000" stroke-width="2.4"/>
<circle cx="670.2" cy="1275.5" r="7.9" fill="#fb9a99" stroke="#000" stroke-width="2.4"/>
<circle cx="671.9" cy="1283.4" r="7.9" fill="#fb9a99" stroke="#000" stroke-width="2.4"/>
<circle cx="663.4" cy="1287.7" r="7.9" fill="#fb9a99" stroke="#000" stroke-width="2.4"/>
<circle cx="669.3" cy="1295.3" r="7.9" fill="#fb9a99" stroke="#000" stroke-width="2.4"/>
<circle cx="689.7" cy="1243.6" r="7.9" fill="#b2df8a" stroke="#000" stroke-width="2.4"/>
<circle cx="690.5" cy="1292.7" r="7.9" fill="#33a02c" stroke="#000" stroke-width="2.4"/>
<circle cx="697.3" cy="1293.3" r="7.9" fill="#fb9a99" stroke="#000" stroke-width="2.4"/>
<circle cx="718.8" cy="1243.6" r="7.9" fill="#b2df8a" stroke="#000" stroke-width="2.4"/>
<circle cx="725.6" cy="1296.1" r="7.9" fill="#fb9a99" stroke="#000" stroke-width="2.4"/>
<circle cx="746.4" cy="1346.6" r="7.9" fill="#fb9a99" stroke="#000" stroke-width="2.4"/>
<circle cx="769.7" cy="1285.1" r="7.9" fill="#a6cee3" stroke="#000" stroke-width="2.4"/>
<circle cx="784.2" cy="1306.6" r="7.9" fill="#fb9a99" stroke="#000" stroke-width="2.4"/>
<circle cx="864.1" cy="1226.9" r="7.9" fill="#b2df8a" stroke="#000" stroke-width="2.4"/>
<circle cx="861.7" cy="1260.4" r="7.9" fill="#a6cee3" stroke="#000" stroke-width="2.4"/>
<circle cx="863.5" cy="1298.6" r="7.9" fill="#fb9a99" stroke="#000" stroke-width="2.4"/>
<circle cx="882.9" cy="1301.0" r="7.9" fill="#33a02c" stroke="#000" stroke-width="2.4"/>
<circle cx="858.2" cy="1318.6" r="7.9" fill="#fb9a99" stroke="#000" stroke-width="2.4"/>
<circle cx="871.1" cy="1329.7" r="7.9" fill="#33a02c" stroke="#000" stroke-width="2.4"/>
<circle cx="874.1" cy="1320.3" r="7.9" fill="#fb9a99" stroke="#000" stroke-width="2.4"/>
<circle cx="883.5" cy="1327.4" r="7.9" fill="#fb9a99" stroke="#000" stroke-width="2.4"/>
<circle cx="901.1" cy="1321.5" r="7.9" fill="#fb9a99" stroke="#000" stroke-width="2.4"/>
<circle cx="902.3" cy="1327.4" r="7.9" fill="#fb9a99" stroke="#000" stroke-width="2.4"/>
<circle cx="906.4" cy="1352.1" r="7.9" fill="#fb9a99" stroke="#000" stroke-width="2.4"/>
<circle cx="920.5" cy="1316.8" r="7.9" fill="#fb9a99" stroke="#000" stroke-width="2.4"/>
<circle cx="919.9" cy="1326.2" r="7.9" fill="#fb9a99" stroke="#000" stroke-width="2.4"/>
<circle cx="915.2" cy="1333.3" r="7.9" fill="#fb9a99" stroke="#000" stroke-width="2.4"/>
<circle cx="924.6" cy="1335.6" r="7.9" fill="#fb9a99" stroke="#000" stroke-width="2.4"/>
<circle cx="930.5" cy="1323.9" r="7.9" fill="#fb9a99" stroke="#000" stroke-width="2.4"/>
<circle cx="942.2" cy="1313.3" r="7.9" fill="#fb9a99" stroke="#000" stroke-width="2.4"/>
<circle cx="948.7" cy="1288.6" r="7.9" fill="#fb9a99" stroke="#000" stroke-width="2.4"/>
<circle cx="963.9" cy="1301.5" r="7.9" fill="#fb9a99" stroke="#000" stroke-width="2.4"/>
<circle cx="985.1" cy="1313.3" r="7.9" fill="#33a02c" stroke="#000" stroke-width="2.4"/>
<circle cx="925.8" cy="1192.3" r="7.9" fill="#b2df8a" stroke="#000" stroke-width="2.4"/>
<circle cx="936.9" cy="1210.5" r="7.9" fill="#b2df8a" stroke="#000" stroke-width="2.4"/>
<circle cx="1027.2" cy="1266.5" r="7.9" fill="#fb9a99" stroke="#000" stroke-width="2.4"/>
<circle cx="1067.0" cy="1237.1" r="7.9" fill="#33a02c" stroke="#000" stroke-width="2.4"/>
<circle cx="1075.7" cy="1275.8" r="7.9" fill="#fb9a99" stroke="#000" stroke-width="2.4"/>
<circle cx="1125.7" cy="1261.8" r="7.9" fill="#fb9a99" stroke="#000" stroke-width="2.4"/>
<circle cx="1152.7" cy="1223.5" r="7.9" fill="#b2df8a" stroke="#000" stroke-width="2.4"/>
<circle cx="1164.3" cy="1264.2" r="7.9" fill="#fb9a99" stroke="#000" stroke-width="2.4"/>
<circle cx="1182.6" cy="1244.4" r="7.9" fill="#fb9a99" stroke="#000" stroke-width="2.4"/>
<circle cx="1186.7" cy="1262.1" r="7.9" fill="#33a02c" stroke="#000" stroke-width="2.4"/>
<circle cx="1234.0" cy="1279.3" r="7.9" fill="#fb9a99" stroke="#000" stroke-width="2.4"/>
<circle cx="1246.2" cy="1213.3" r="7.9" fill="#b2df8a" stroke="#000" stroke-width="2.4"/>
<circle cx="1255.8" cy="1225.8" r="7.9" fill="#b2df8a" stroke="#000" stroke-width="2.4"/>
<circle cx="1335.0" cy="1254.5" r="7.9" fill="#fb9a99" stroke="#000" stroke-width="2.4"/>
<circle cx="1425.9" cy="1243.9" r="7.9" fill="#fb9a99" stroke="#000" stroke-width="2.4"/>
<circle cx="1572.7" cy="1236.4" r="7.9" fill="#a6cee3" stroke="#000" stroke-width="2.4"/>
<circle cx="1584.4" cy="1235.0" r="7.9" fill="#33a02c" stroke="#000" stroke-width="2.4"/>
<circle cx="1679.5" cy="1243.9" r="7.9" fill="#33a02c" stroke="#000" stroke-width="2.4"/>
<circle cx="1698.7" cy="1228.6" r="7.9" fill="#a6cee3" stroke="#000" stroke-width="2.4"/>
<circle cx="1729.9" cy="1251.7" r="7.9" fill="#33a02c" stroke="#000" stroke-width="2.4"/>
<circle cx="1823.9" cy="1233.2" r="7.9" fill="#fb9a99" stroke="#000" stroke-width="2.4"/>
<circle cx="1838.0" cy="1231.1" r="7.9" fill="#fb9a99" stroke="#000" stroke-width="2.4"/>
</g>
<line x1="901.4" y1="1109.0" x2="901.4" y2="1203.0" stroke="#000" stroke-width="3" stroke-dasharray="12 15.0"/>
<line x1="910.1" y1="1227.0" x2="910.1" y2="1432.5" stroke="#000" stroke-width="3" stroke-dasharray="12 15.0"/>
<text x="907.7" y="1135.2" font-size="27.1" font-weight="bold" fill="#000">Germany_HohleFels.JK2174</text>
<text x="919.4" y="1416.7" font-size="27.1" font-weight="bold" fill="#000">Siberia_BelayaGora.IN18_016</text>
<rect x="223.4" y="1108.1" width="1652.6" height="325.4" fill="none" stroke="#000" stroke-width="2.4"/>
<line x1="200.9" y1="1115.4" x2="223.4" y2="1115.4" stroke="#000" stroke-width="2"/>
<line x1="200.9" y1="1215.8" x2="223.4" y2="1215.8" stroke="#000" stroke-width="2"/>
<line x1="200.9" y1="1316.3" x2="223.4" y2="1316.3" stroke="#000" stroke-width="2"/>
<line x1="200.9" y1="1417.4" x2="223.4" y2="1417.4" stroke="#000" stroke-width="2"/>
<text transform="translate(194.5 1215.8) rotate(-90)" text-anchor="middle" font-size="36.3">0.000</text>
<text transform="translate(194.5 1417.4) rotate(-90)" text-anchor="middle" font-size="36.3">−0.002</text>
<line x1="483.8" y1="1433.5" x2="483.8" y2="1456.0" stroke="#000" stroke-width="2"/>
<text x="483.8" y="1492.4" text-anchor="middle" font-size="36">0</text>
<line x1="616.9" y1="1433.5" x2="616.9" y2="1456.0" stroke="#000" stroke-width="2"/>
<text x="616.9" y="1492.4" text-anchor="middle" font-size="36">10</text>
<line x1="750.0" y1="1433.5" x2="750.0" y2="1456.0" stroke="#000" stroke-width="2"/>
<text x="750.0" y="1492.4" text-anchor="middle" font-size="36">20</text>
<line x1="883.0" y1="1433.5" x2="883.0" y2="1456.0" stroke="#000" stroke-width="2"/>
<text x="883.0" y="1492.4" text-anchor="middle" font-size="36">30</text>
<line x1="1016.1" y1="1433.5" x2="1016.1" y2="1456.0" stroke="#000" stroke-width="2"/>
<text x="1016.1" y="1492.4" text-anchor="middle" font-size="36">40</text>
<line x1="1149.2" y1="1433.5" x2="1149.2" y2="1456.0" stroke="#000" stroke-width="2"/>
<text x="1149.2" y="1492.4" text-anchor="middle" font-size="36">50</text>
<line x1="1282.3" y1="1433.5" x2="1282.3" y2="1456.0" stroke="#000" stroke-width="2"/>
<text x="1282.3" y="1492.4" text-anchor="middle" font-size="36">60</text>
<line x1="1415.4" y1="1433.5" x2="1415.4" y2="1456.0" stroke="#000" stroke-width="2"/>
<text x="1415.4" y="1492.4" text-anchor="middle" font-size="36">70</text>
<line x1="1548.4" y1="1433.5" x2="1548.4" y2="1456.0" stroke="#000" stroke-width="2"/>
<text x="1548.4" y="1492.4" text-anchor="middle" font-size="36">80</text>
<line x1="1681.5" y1="1433.5" x2="1681.5" y2="1456.0" stroke="#000" stroke-width="2"/>
<text x="1681.5" y="1492.4" text-anchor="middle" font-size="36">90</text>
<line x1="1814.6" y1="1433.5" x2="1814.6" y2="1456.0" stroke="#000" stroke-width="2"/>
<text x="1814.6" y="1492.4" text-anchor="middle" font-size="36">100</text>
<text x="254.3" y="1488.6" font-size="36">Present-day</text>
<text x="1049.7" y="1536.5" text-anchor="middle" font-size="36">Time (kya)</text>
<text x="221.6" y="1096.0" font-size="36.25" font-weight="bold">Post-LGM wolves are closer to pre-LGM Siberian wolves than to pre-LGM European wolves</text>
<text x="-1.2" y="1091.5" font-size="64" font-weight="bold" stroke="#000" stroke-width="1.6">c</text>
<text transform="translate(55.7 1271.5) rotate(-90)" text-anchor="middle" font-size="30.0"><tspan>f</tspan><tspan font-size="21.0" dy="6">4</tspan><tspan dy="-6">(Armenia_Hovk1.HOV4,X;</tspan></text>
<text transform="translate(98.2 1271.5) rotate(-90)" text-anchor="middle" font-size="30.0"><tspan font-weight="bold">Siberia_BelayaGora.IN18_016,</tspan></text>
<text transform="translate(139.9 1268.5) rotate(-90)" text-anchor="middle" font-size="30.0"><tspan font-weight="bold">Germany_HohleFels.JK2174</tspan><tspan>)</tspan></text>
<rect x="223.4" y="1604.7" width="260.4" height="327.5" fill="#fdfae6"/>
<line x1="223.4" y1="1772.7" x2="1876.0" y2="1772.7" stroke="#c0c0c0" stroke-width="1.8" stroke-dasharray="8.4 9.72" stroke-dashoffset="0"/>
<clipPath id="clipd"><rect x="223.4" y="1604.7" width="1652.6" height="327.5"/></clipPath>
<g clip-path="url(#clipd)">
<path d="M266.0 1699.2V1755.1M259.0 1699.2h14M259.0 1755.1h14M268.5 1694.9V1763.6M261.5 1694.9h14M261.5 1763.6h14M271.0 1701.4V1759.7M264.0 1701.4h14M264.0 1759.7h14M273.5 1699.7V1759.0M266.5 1699.7h14M266.5 1759.0h14M276.1 1701.2V1758.1M269.1 1701.2h14M269.1 1758.1h14M278.6 1697.9V1761.4M271.6 1697.9h14M271.6 1761.4h14M281.1 1696.7V1758.8M274.1 1696.7h14M274.1 1758.8h14M283.6 1697.0V1758.9M276.6 1697.0h14M276.6 1758.9h14M286.1 1698.9V1756.5M279.1 1698.9h14M279.1 1756.5h14M288.6 1704.6V1764.2M281.6 1704.6h14M281.6 1764.2h14M291.1 1706.2V1754.4M284.1 1706.2h14M284.1 1754.4h14M293.6 1703.2V1762.1M286.6 1703.2h14M286.6 1762.1h14M296.2 1702.3V1757.4M289.2 1702.3h14M289.2 1757.4h14M298.7 1700.7V1759.4M291.7 1700.7h14M291.7 1759.4h14M301.2 1705.1V1755.6M294.2 1705.1h14M294.2 1755.6h14M303.7 1702.5V1764.8M296.7 1702.5h14M296.7 1764.8h14M306.2 1705.4V1763.1M299.2 1705.4h14M299.2 1763.1h14M308.7 1698.2V1759.6M301.7 1698.2h14M301.7 1759.6h14M311.2 1707.0V1759.4M304.2 1707.0h14M304.2 1759.4h14M313.7 1702.7V1759.9M306.7 1702.7h14M306.7 1759.9h14M316.3 1702.2V1759.8M309.3 1702.2h14M309.3 1759.8h14M318.8 1695.1V1756.2M311.8 1695.1h14M311.8 1756.2h14M321.3 1696.6V1757.2M314.3 1696.6h14M314.3 1757.2h14M323.8 1706.1V1758.5M316.8 1706.1h14M316.8 1758.5h14M326.3 1705.3V1764.7M319.3 1705.3h14M319.3 1764.7h14M328.8 1698.3V1763.4M321.8 1698.3h14M321.8 1763.4h14M331.3 1702.3V1765.7M324.3 1702.3h14M324.3 1765.7h14M333.8 1697.6V1759.6M326.8 1697.6h14M326.8 1759.6h14M336.4 1701.3V1760.0M329.4 1701.3h14M329.4 1760.0h14M338.9 1700.1V1762.2M331.9 1700.1h14M331.9 1762.2h14M341.4 1703.4V1767.9M334.4 1703.4h14M334.4 1767.9h14M343.9 1703.7V1760.0M336.9 1703.7h14M336.9 1760.0h14M346.4 1705.6V1755.0M339.4 1705.6h14M339.4 1755.0h14M348.9 1707.0V1763.7M341.9 1707.0h14M341.9 1763.7h14M351.4 1699.3V1760.8M344.4 1699.3h14M344.4 1760.8h14M353.9 1704.2V1766.8M346.9 1704.2h14M346.9 1766.8h14M356.5 1700.3V1768.5M349.5 1700.3h14M349.5 1768.5h14M359.0 1706.8V1759.6M352.0 1706.8h14M352.0 1759.6h14M361.5 1698.5V1756.7M354.5 1698.5h14M354.5 1756.7h14M364.0 1698.2V1763.0M357.0 1698.2h14M357.0 1763.0h14M362.0 1687.8V1747.3M355.0 1687.8h14M355.0 1747.3h14M364.5 1685.4V1751.6M357.5 1685.4h14M357.5 1751.6h14M367.1 1683.9V1752.4M360.1 1683.9h14M360.1 1752.4h14M369.6 1687.1V1750.8M362.6 1687.1h14M362.6 1750.8h14M372.1 1682.0V1747.3M365.1 1682.0h14M365.1 1747.3h14M374.6 1680.9V1743.8M367.6 1680.9h14M367.6 1743.8h14M377.2 1684.0V1756.9M370.2 1684.0h14M370.2 1756.9h14M379.7 1682.3V1745.8M372.7 1682.3h14M372.7 1745.8h14M382.2 1685.5V1747.4M375.2 1685.5h14M375.2 1747.4h14M384.7 1682.5V1753.3M377.7 1682.5h14M377.7 1753.3h14M387.3 1688.5V1753.6M380.3 1688.5h14M380.3 1753.6h14M389.8 1689.4V1753.7M382.8 1689.4h14M382.8 1753.7h14M392.3 1690.3V1748.3M385.3 1690.3h14M385.3 1748.3h14M394.8 1685.3V1754.2M387.8 1685.3h14M387.8 1754.2h14M397.4 1688.5V1748.8M390.4 1688.5h14M390.4 1748.8h14M399.9 1686.8V1751.5M392.9 1686.8h14M392.9 1751.5h14M402.4 1678.7V1755.4M395.4 1678.7h14M395.4 1755.4h14M404.9 1685.6V1752.1M397.9 1685.6h14M397.9 1752.1h14M407.5 1689.2V1747.8M400.5 1689.2h14M400.5 1747.8h14M410.0 1684.9V1746.4M403.0 1684.9h14M403.0 1746.4h14M425.0 1735.3V1801.9M418.0 1735.3h14M418.0 1801.9h14M428.3 1728.0V1797.7M421.3 1728.0h14M421.3 1797.7h14M431.7 1734.7V1803.7M424.7 1734.7h14M424.7 1803.7h14M435.0 1737.1V1797.5M428.0 1737.1h14M428.0 1797.5h14M438.3 1725.6V1800.5M431.3 1725.6h14M431.3 1800.5h14M441.7 1727.3V1800.3M434.7 1727.3h14M434.7 1800.3h14M445.0 1730.3V1797.3M438.0 1730.3h14M438.0 1797.3h14M448.3 1730.3V1800.3M441.3 1730.3h14M441.3 1800.3h14M451.7 1726.7V1790.0M444.7 1726.7h14M444.7 1790.0h14M455.0 1732.2V1790.4M448.0 1732.2h14M448.0 1790.4h14M458.3 1729.6V1803.6M451.3 1729.6h14M451.3 1803.6h14M461.7 1737.5V1792.6M454.7 1737.5h14M454.7 1792.6h14M465.0 1732.5V1801.9M458.0 1732.5h14M458.0 1801.9h14M468.3 1728.9V1797.3M461.3 1728.9h14M461.3 1797.3h14M471.7 1731.2V1795.8M464.7 1731.2h14M464.7 1795.8h14M475.0 1729.0V1795.0M468.0 1729.0h14M468.0 1795.0h14M269.3 1689.1V1766.1M262.3 1689.1h14M262.3 1766.1h14M271.0 1692.8V1756.7M264.0 1692.8h14M264.0 1756.7h14M276.6 1692.4V1749.7M269.6 1692.4h14M269.6 1749.7h14M280.6 1689.4V1754.1M273.6 1689.4h14M273.6 1754.1h14M283.6 1684.7V1756.6M276.6 1684.7h14M276.6 1756.6h14M289.1 1687.8V1760.4M282.1 1687.8h14M282.1 1760.4h14M293.1 1683.5V1757.4M286.1 1683.5h14M286.1 1757.4h14M298.1 1690.6V1760.0M291.1 1690.6h14M291.1 1760.0h14M303.5 1686.3V1759.5M296.5 1686.3h14M296.5 1759.5h14M306.0 1689.3V1759.8M299.0 1689.3h14M299.0 1759.8h14M310.1 1688.0V1753.3M303.1 1688.0h14M303.1 1753.3h14M315.5 1692.5V1757.0M308.5 1692.5h14M308.5 1757.0h14M319.6 1693.0V1750.0M312.6 1693.0h14M312.6 1750.0h14M322.9 1697.8V1755.3M315.9 1697.8h14M315.9 1755.3h14M326.5 1694.2V1747.3M319.5 1694.2h14M319.5 1747.3h14M331.2 1687.1V1762.1M324.2 1687.1h14M324.2 1762.1h14M335.7 1692.9V1753.0M328.7 1692.9h14M328.7 1753.0h14M339.8 1692.5V1759.9M332.8 1692.5h14M332.8 1759.9h14M344.0 1683.9V1757.8M337.0 1683.9h14M337.0 1757.8h14M349.6 1697.3V1756.0M342.6 1697.3h14M342.6 1756.0h14M353.4 1693.1V1761.6M346.4 1693.1h14M346.4 1761.6h14M358.8 1681.7V1761.0M351.8 1681.7h14M351.8 1761.0h14M360.4 1697.0V1749.7M353.4 1697.0h14M353.4 1749.7h14M366.9 1685.9V1765.1M359.9 1685.9h14M359.9 1765.1h14M270.9 1709.1V1776.1M263.9 1709.1h14M263.9 1776.1h14M275.8 1710.1V1771.8M268.8 1710.1h14M268.8 1771.8h14M280.2 1709.3V1766.7M273.2 1709.3h14M273.2 1766.7h14M281.9 1710.0V1767.5M274.9 1710.0h14M274.9 1767.5h14M288.8 1713.6V1771.6M281.8 1713.6h14M281.8 1771.6h14M290.7 1710.9V1767.6M283.7 1710.9h14M283.7 1767.6h14M296.4 1712.0V1771.0M289.4 1712.0h14M289.4 1771.0h14M300.4 1710.0V1774.4M293.4 1710.0h14M293.4 1774.4h14M304.6 1704.7V1779.5M297.6 1704.7h14M297.6 1779.5h14M310.6 1708.7V1772.3M303.6 1708.7h14M303.6 1772.3h14M314.4 1706.7V1776.6M307.4 1706.7h14M307.4 1776.6h14M317.4 1705.6V1769.1M310.4 1705.6h14M310.4 1769.1h14M323.4 1705.8V1773.2M316.4 1705.8h14M316.4 1773.2h14M327.9 1701.0V1770.7M320.9 1701.0h14M320.9 1770.7h14M330.8 1701.8V1777.2M323.8 1701.8h14M323.8 1777.2h14M335.0 1715.5V1769.7M328.0 1715.5h14M328.0 1769.7h14M340.3 1710.0V1768.6M333.3 1710.0h14M333.3 1768.6h14M344.7 1706.5V1771.1M337.7 1706.5h14M337.7 1771.1h14M349.5 1703.8V1766.3M342.5 1703.8h14M342.5 1766.3h14M354.1 1698.0V1774.3M347.1 1698.0h14M347.1 1774.3h14M356.7 1712.0V1768.9M349.7 1712.0h14M349.7 1768.9h14M361.8 1711.2V1765.5M354.8 1711.2h14M354.8 1765.5h14M276.3 1715.0V1780.0M269.3 1715.0h14M269.3 1780.0h14M359.8 1700.0V1768.0M352.8 1700.0h14M352.8 1768.0h14M358.8 1690.0V1757.0M351.8 1690.0h14M351.8 1757.0h14M361.2 1700.0V1768.0M354.2 1700.0h14M354.2 1768.0h14M352.1 1707.0V1774.0M345.1 1707.0h14M345.1 1774.0h14M365.9 1670.5V1740.7M358.9 1670.5h14M358.9 1740.7h14M368.3 1676.7V1747.5M361.3 1676.7h14M361.3 1747.5h14M384.0 1675.8V1744.8M377.0 1675.8h14M377.0 1744.8h14M385.2 1685.0V1755.4M378.2 1685.0h14M378.2 1755.4h14M375.5 1691.2V1758.7M368.5 1691.2h14M368.5 1758.7h14M387.6 1692.7V1765.1M380.6 1692.7h14M380.6 1765.1h14M376.8 1695.0V1768.4M369.8 1695.0h14M369.8 1768.4h14M398.5 1688.6V1755.4M391.5 1688.6h14M391.5 1755.4h14M403.4 1707.8V1771.8M396.4 1707.8h14M396.4 1771.8h14M365.4 1678.7V1749.8M358.4 1678.7h14M358.4 1749.8h14M383.6 1679.4V1744.2M376.6 1679.4h14M376.6 1744.2h14M375.1 1693.0V1763.8M368.1 1693.0h14M368.1 1763.8h14M387.2 1698.4V1766.7M380.2 1698.4h14M380.2 1766.7h14M399.3 1693.7V1756.1M392.3 1693.7h14M392.3 1756.1h14M404.8 1712.0V1771.7M397.8 1712.0h14M397.8 1771.7h14M362.2 1745.0V1802.9M355.2 1745.0h14M355.2 1802.9h14M389.0 1745.0V1806.0M382.0 1745.0h14M382.0 1806.0h14M396.9 1770.0V1830.0M389.9 1770.0h14M389.9 1830.0h14M395.1 1792.0V1852.0M388.1 1792.0h14M388.1 1852.0h14M393.3 1813.0V1881.0M386.3 1813.0h14M386.3 1881.0h14M390.8 1813.0V1878.0M383.8 1813.0h14M383.8 1878.0h14M407.0 1675.0V1742.0M400.0 1675.0h14M400.0 1742.0h14M414.3 1682.0V1748.0M407.3 1682.0h14M407.3 1748.0h14M416.7 1690.0V1756.0M409.7 1690.0h14M409.7 1756.0h14M408.4 1676.0V1742.0M401.4 1676.0h14M401.4 1742.0h14M405.4 1688.0V1752.0M398.4 1688.0h14M398.4 1752.0h14M420.3 1735.0V1798.0M413.3 1735.0h14M413.3 1798.0h14M421.5 1745.0V1806.0M414.5 1745.0h14M414.5 1806.0h14M420.3 1755.0V1815.0M413.3 1755.0h14M413.3 1815.0h14M421.7 1738.0V1800.0M414.7 1738.0h14M414.7 1800.0h14M426.0 1745.0V1806.0M419.0 1745.0h14M419.0 1806.0h14M423.5 1757.0V1818.0M416.5 1757.0h14M416.5 1818.0h14M427.2 1768.0V1830.0M420.2 1768.0h14M420.2 1830.0h14M427.8 1792.0V1853.7M420.8 1792.0h14M420.8 1853.7h14M431.4 1713.6V1783.0M424.4 1713.6h14M424.4 1783.0h14M447.7 1711.4V1774.7M440.7 1711.4h14M440.7 1774.7h14M460.5 1711.2V1774.3M453.5 1711.2h14M453.5 1774.3h14M445.3 1720.9V1789.0M438.3 1720.9h14M438.3 1789.0h14M458.6 1720.4V1789.8M451.6 1720.4h14M451.6 1789.8h14M471.4 1716.9V1786.1M464.4 1716.9h14M464.4 1786.1h14M445.3 1724.9V1800.3M438.3 1724.9h14M438.3 1800.3h14M456.2 1736.2V1802.4M449.2 1736.2h14M449.2 1802.4h14M472.6 1740.7V1804.3M465.6 1740.7h14M465.6 1804.3h14M442.9 1751.9V1819.7M435.9 1751.9h14M435.9 1819.7h14M441.7 1766.5V1832.5M434.7 1766.5h14M434.7 1832.5h14M465.9 1769.0V1837.9M458.9 1769.0h14M458.9 1837.9h14M437.5 1777.4V1837.8M430.5 1777.4h14M430.5 1837.8h14M452.6 1781.4V1856.3M445.6 1781.4h14M445.6 1856.3h14M439.3 1879.2V1932.2M432.3 1879.2h14M432.3 1932.2h14M452.0 1891.9V1932.2M445.0 1891.9h14M445.0 1932.2h14M485.3 1683.9V1753.6M478.3 1683.9h14M478.3 1753.6h14M485.3 1681.1V1750.2M478.3 1681.1h14M478.3 1750.2h14M493.8 1717.2V1780.7M486.8 1717.2h14M486.8 1780.7h14M497.4 1724.1V1790.6M490.4 1724.1h14M490.4 1790.6h14M505.3 1701.5V1771.6M498.3 1701.5h14M498.3 1771.6h14M514.3 1711.8V1783.8M507.3 1711.8h14M507.3 1783.8h14M514.3 1715.9V1789.0M507.3 1715.9h14M507.3 1789.0h14M526.4 1698.2V1765.2M519.4 1698.2h14M519.4 1765.2h14M526.4 1727.9V1786.6M519.4 1727.9h14M519.4 1786.6h14M533.7 1713.1V1781.9M526.7 1713.1h14M526.7 1781.9h14M536.1 1697.7V1762.6M529.1 1697.7h14M529.1 1762.6h14M525.1 1699.1V1768.9M518.1 1699.1h14M518.1 1768.9h14M526.8 1718.2V1789.7M519.8 1718.2h14M519.8 1789.7h14M548.0 1682.7V1750.8M541.0 1682.7h14M541.0 1750.8h14M553.1 1675.6V1751.6M546.1 1675.6h14M546.1 1751.6h14M549.7 1707.9V1778.2M542.7 1707.9h14M542.7 1778.2h14M534.4 1711.7V1791.3M527.4 1711.7h14M527.4 1791.3h14M561.5 1718.5V1780.7M554.5 1718.5h14M554.5 1780.7h14M567.5 1671.8V1747.1M560.5 1671.8h14M560.5 1747.1h14M582.7 1692.5V1753.7M575.7 1692.5h14M575.7 1753.7h14M570.8 1702.9V1776.7M563.8 1702.9h14M563.8 1776.7h14M576.8 1712.8V1777.7M569.8 1712.8h14M569.8 1777.7h14M577.6 1701.6V1763.2M570.6 1701.6h14M570.6 1763.2h14M536.9 1660.0V1806.0M529.9 1660.0h14M529.9 1806.0h14M574.2 1640.0V1801.0M567.2 1640.0h14M567.2 1801.0h14M608.1 1661.6V1745.5M601.1 1661.6h14M601.1 1745.5h14M612.4 1680.0V1760.0M605.4 1680.0h14M605.4 1760.0h14M608.1 1685.0V1755.0M601.1 1685.0h14M601.1 1755.0h14M617.5 1680.0V1758.0M610.5 1680.0h14M610.5 1758.0h14M629.8 1697.2V1762.5M622.8 1697.2h14M622.8 1762.5h14M658.1 1640.0V1740.0M651.1 1640.0h14M651.1 1740.0h14M669.2 1626.0V1750.0M662.2 1626.0h14M662.2 1750.0h14M665.8 1604.7V1780.0M658.8 1604.7h14M658.8 1780.0h14M671.7 1645.0V1745.0M664.7 1645.0h14M664.7 1745.0h14M660.3 1640.0V1780.0M653.3 1640.0h14M653.3 1780.0h14M698.8 1662.0V1724.0M691.8 1662.0h14M691.8 1724.0h14M691.2 1668.0V1730.0M684.2 1668.0h14M684.2 1730.0h14M689.5 1669.3V1765.0M682.5 1669.3h14M682.5 1765.0h14M719.2 1644.7V1709.1M712.2 1644.7h14M712.2 1709.1h14M726.4 1643.8V1703.2M719.4 1643.8h14M719.4 1703.2h14M746.8 1604.7V1782.0M739.8 1604.7h14M739.8 1782.0h14M769.2 1604.7V1744.7M762.2 1604.7h14M762.2 1744.7h14M784.4 1643.0V1707.4M777.4 1643.0h14M777.4 1707.4h14M858.2 1661.0V1720.0M851.2 1661.0h14M851.2 1720.0h14M873.5 1653.0V1713.0M866.5 1653.0h14M866.5 1713.0h14M882.7 1629.6V1764.1M875.7 1629.6h14M875.7 1764.1h14M872.1 1654.0V1752.0M865.1 1654.0h14M865.1 1752.0h14M861.6 1633.2V1818.4M854.6 1633.2h14M854.6 1818.4h14M863.8 1690.0V1745.0M856.8 1690.0h14M856.8 1745.0h14M863.8 1675.0V1797.5M856.8 1675.0h14M856.8 1797.5h14M882.7 1712.0V1751.6M875.7 1712.0h14M875.7 1751.6h14M900.8 1620.0V1760.0M893.8 1620.0h14M893.8 1760.0h14M906.4 1604.7V1735.0M899.4 1604.7h14M899.4 1735.0h14M915.3 1632.0V1705.0M908.3 1632.0h14M908.3 1705.0h14M920.9 1630.0V1690.0M913.9 1630.0h14M913.9 1690.0h14M926.5 1637.0V1700.0M919.5 1637.0h14M919.5 1700.0h14M932.0 1636.0V1697.0M925.0 1636.0h14M925.0 1697.0h14M920.9 1650.0V1712.0M913.9 1650.0h14M913.9 1712.0h14M909.7 1647.0V1712.0M902.7 1647.0h14M902.7 1712.0h14M941.8 1648.0V1702.0M934.8 1648.0h14M934.8 1702.0h14M949.3 1640.0V1697.0M942.3 1640.0h14M942.3 1697.0h14M964.0 1630.5V1685.3M957.0 1630.5h14M957.0 1685.3h14M901.4 1680.0V1762.7M894.4 1680.0h14M894.4 1762.7h14M915.3 1685.0V1752.0M908.3 1685.0h14M908.3 1752.0h14M925.9 1680.0V1742.0M918.9 1680.0h14M918.9 1742.0h14M937.6 1685.0V1750.0M930.6 1685.0h14M930.6 1750.0h14M984.9 1678.6V1743.2M977.9 1678.6h14M977.9 1743.2h14M984.9 1682.0V1743.2M977.9 1682.0h14M977.9 1743.2h14M1027.3 1606.8V1684.2M1020.3 1606.8h14M1020.3 1684.2h14M1076.0 1622.9V1677.0M1069.0 1622.9h14M1069.0 1677.0h14M1126.1 1622.9V1677.8M1119.1 1622.9h14M1119.1 1677.8h14M1164.5 1617.9V1687.0M1157.5 1617.9h14M1157.5 1687.0h14M1183.2 1684.8V1745.0M1176.2 1684.8h14M1176.2 1745.0h14M1186.0 1690.0V1775.3M1179.0 1690.0h14M1179.0 1775.3h14M1152.6 1741.3V1810.1M1145.6 1741.3h14M1145.6 1810.1h14M1067.6 1841.3V1902.0M1060.6 1841.3h14M1060.6 1902.0h14M1245.3 1739.0V1797.5M1238.3 1739.0h14M1238.3 1797.5h14M1334.2 1634.0V1700.1M1327.2 1634.0h14M1327.2 1700.1h14M1426.1 1722.1V1803.0M1419.1 1722.1h14M1419.1 1803.0h14M1572.8 1725.9V1789.8M1565.8 1725.9h14M1565.8 1789.8h14M1679.7 1713.4V1776.1M1672.7 1713.4h14M1672.7 1776.1h14M1584.5 1841.7V1910.0M1577.5 1841.7h14M1577.5 1910.0h14M1698.9 1783.1V1866.3M1691.9 1783.1h14M1691.9 1866.3h14M1730.0 1869.3V1932.2M1723.0 1869.3h14M1723.0 1932.2h14M1824.7 1751.0V1819.2M1817.7 1751.0h14M1817.7 1819.2h14M1837.7 1751.0V1932.2M1830.7 1751.0h14M1830.7 1932.2h14" stroke="#c0c0c0" stroke-width="2.0" fill="none"/>
<circle cx="269.3" cy="1727.6" r="7.9" fill="#1f78b4" stroke="#000" stroke-width="2.4"/>
<circle cx="271.0" cy="1724.7" r="7.9" fill="#1f78b4" stroke="#000" stroke-width="2.4"/>
<circle cx="276.6" cy="1721.0" r="7.9" fill="#1f78b4" stroke="#000" stroke-width="2.4"/>
<circle cx="280.6" cy="1721.8" r="7.9" fill="#1f78b4" stroke="#000" stroke-width="2.4"/>
<circle cx="283.6" cy="1720.7" r="7.9" fill="#1f78b4" stroke="#000" stroke-width="2.4"/>
<circle cx="289.1" cy="1724.1" r="7.9" fill="#1f78b4" stroke="#000" stroke-width="2.4"/>
<circle cx="293.1" cy="1720.5" r="7.9" fill="#1f78b4" stroke="#000" stroke-width="2.4"/>
<circle cx="298.1" cy="1725.3" r="7.9" fill="#1f78b4" stroke="#000" stroke-width="2.4"/>
<circle cx="303.5" cy="1722.9" r="7.9" fill="#1f78b4" stroke="#000" stroke-width="2.4"/>
<circle cx="306.0" cy="1724.6" r="7.9" fill="#1f78b4" stroke="#000" stroke-width="2.4"/>
<circle cx="310.1" cy="1720.7" r="7.9" fill="#1f78b4" stroke="#000" stroke-width="2.4"/>
<circle cx="315.5" cy="1724.7" r="7.9" fill="#1f78b4" stroke="#000" stroke-width="2.4"/>
<circle cx="319.6" cy="1721.5" r="7.9" fill="#1f78b4" stroke="#000" stroke-width="2.4"/>
<circle cx="322.9" cy="1726.5" r="7.9" fill="#1f78b4" stroke="#000" stroke-width="2.4"/>
<circle cx="326.5" cy="1720.8" r="7.9" fill="#1f78b4" stroke="#000" stroke-width="2.4"/>
<circle cx="331.2" cy="1724.6" r="7.9" fill="#1f78b4" stroke="#000" stroke-width="2.4"/>
<circle cx="335.7" cy="1723.0" r="7.9" fill="#1f78b4" stroke="#000" stroke-width="2.4"/>
<circle cx="339.8" cy="1726.2" r="7.9" fill="#1f78b4" stroke="#000" stroke-width="2.4"/>
<circle cx="344.0" cy="1720.9" r="7.9" fill="#1f78b4" stroke="#000" stroke-width="2.4"/>
<circle cx="349.6" cy="1726.6" r="7.9" fill="#1f78b4" stroke="#000" stroke-width="2.4"/>
<circle cx="353.4" cy="1727.3" r="7.9" fill="#1f78b4" stroke="#000" stroke-width="2.4"/>
<circle cx="358.8" cy="1721.3" r="7.9" fill="#1f78b4" stroke="#000" stroke-width="2.4"/>
<circle cx="360.4" cy="1723.3" r="7.9" fill="#1f78b4" stroke="#000" stroke-width="2.4"/>
<circle cx="366.9" cy="1725.5" r="7.9" fill="#1f78b4" stroke="#000" stroke-width="2.4"/>
<circle cx="270.9" cy="1742.6" r="7.9" fill="#1f78b4" stroke="#000" stroke-width="2.4"/>
<circle cx="275.8" cy="1741.0" r="7.9" fill="#1f78b4" stroke="#000" stroke-width="2.4"/>
<circle cx="280.2" cy="1738.0" r="7.9" fill="#1f78b4" stroke="#000" stroke-width="2.4"/>
<circle cx="281.9" cy="1738.7" r="7.9" fill="#1f78b4" stroke="#000" stroke-width="2.4"/>
<circle cx="288.8" cy="1742.6" r="7.9" fill="#1f78b4" stroke="#000" stroke-width="2.4"/>
<circle cx="290.7" cy="1739.2" r="7.9" fill="#1f78b4" stroke="#000" stroke-width="2.4"/>
<circle cx="296.4" cy="1741.5" r="7.9" fill="#1f78b4" stroke="#000" stroke-width="2.4"/>
<circle cx="300.4" cy="1742.2" r="7.9" fill="#1f78b4" stroke="#000" stroke-width="2.4"/>
<circle cx="304.6" cy="1742.1" r="7.9" fill="#1f78b4" stroke="#000" stroke-width="2.4"/>
<circle cx="310.6" cy="1740.5" r="7.9" fill="#1f78b4" stroke="#000" stroke-width="2.4"/>
<circle cx="314.4" cy="1741.6" r="7.9" fill="#1f78b4" stroke="#000" stroke-width="2.4"/>
<circle cx="317.4" cy="1737.4" r="7.9" fill="#1f78b4" stroke="#000" stroke-width="2.4"/>
<circle cx="323.4" cy="1739.5" r="7.9" fill="#1f78b4" stroke="#000" stroke-width="2.4"/>
<circle cx="327.9" cy="1735.9" r="7.9" fill="#1f78b4" stroke="#000" stroke-width="2.4"/>
<circle cx="330.8" cy="1739.5" r="7.9" fill="#1f78b4" stroke="#000" stroke-width="2.4"/>
<circle cx="335.0" cy="1742.6" r="7.9" fill="#1f78b4" stroke="#000" stroke-width="2.4"/>
<circle cx="340.3" cy="1739.3" r="7.9" fill="#1f78b4" stroke="#000" stroke-width="2.4"/>
<circle cx="344.7" cy="1738.8" r="7.9" fill="#1f78b4" stroke="#000" stroke-width="2.4"/>
<circle cx="349.5" cy="1735.0" r="7.9" fill="#1f78b4" stroke="#000" stroke-width="2.4"/>
<circle cx="354.1" cy="1736.1" r="7.9" fill="#1f78b4" stroke="#000" stroke-width="2.4"/>
<circle cx="356.7" cy="1740.4" r="7.9" fill="#1f78b4" stroke="#000" stroke-width="2.4"/>
<circle cx="361.8" cy="1738.4" r="7.9" fill="#1f78b4" stroke="#000" stroke-width="2.4"/>
<circle cx="276.3" cy="1747.5" r="7.9" fill="#1f78b4" stroke="#000" stroke-width="2.4"/>
<circle cx="359.8" cy="1733.5" r="7.9" fill="#1f78b4" stroke="#000" stroke-width="2.4"/>
<circle cx="358.8" cy="1723.6" r="7.9" fill="#1f78b4" stroke="#000" stroke-width="2.4"/>
<circle cx="361.2" cy="1734.5" r="7.9" fill="#1f78b4" stroke="#000" stroke-width="2.4"/>
<circle cx="352.1" cy="1740.5" r="7.9" fill="#1f78b4" stroke="#000" stroke-width="2.4"/>
<circle cx="365.9" cy="1706.9" r="7.9" fill="#fdbf6f" stroke="#000" stroke-width="2.4"/>
<circle cx="368.3" cy="1713.0" r="7.9" fill="#fdbf6f" stroke="#000" stroke-width="2.4"/>
<circle cx="384.0" cy="1710.5" r="7.9" fill="#fdbf6f" stroke="#000" stroke-width="2.4"/>
<circle cx="385.2" cy="1716.6" r="7.9" fill="#fdbf6f" stroke="#000" stroke-width="2.4"/>
<circle cx="375.5" cy="1720.2" r="7.9" fill="#fdbf6f" stroke="#000" stroke-width="2.4"/>
<circle cx="387.6" cy="1731.1" r="7.9" fill="#fdbf6f" stroke="#000" stroke-width="2.4"/>
<circle cx="376.8" cy="1732.3" r="7.9" fill="#fdbf6f" stroke="#000" stroke-width="2.4"/>
<circle cx="398.5" cy="1723.9" r="7.9" fill="#fdbf6f" stroke="#000" stroke-width="2.4"/>
<circle cx="403.4" cy="1739.6" r="7.9" fill="#fdbf6f" stroke="#000" stroke-width="2.4"/>
<circle cx="365.4" cy="1710.3" r="7.9" fill="#fdbf6f" stroke="#000" stroke-width="2.4"/>
<circle cx="383.6" cy="1711.5" r="7.9" fill="#fdbf6f" stroke="#000" stroke-width="2.4"/>
<circle cx="375.1" cy="1726.0" r="7.9" fill="#fdbf6f" stroke="#000" stroke-width="2.4"/>
<circle cx="387.2" cy="1732.1" r="7.9" fill="#fdbf6f" stroke="#000" stroke-width="2.4"/>
<circle cx="399.3" cy="1724.8" r="7.9" fill="#fdbf6f" stroke="#000" stroke-width="2.4"/>
<circle cx="404.8" cy="1741.1" r="7.9" fill="#fdbf6f" stroke="#000" stroke-width="2.4"/>
<circle cx="362.2" cy="1772.3" r="7.9" fill="#fdbf6f" stroke="#000" stroke-width="2.4"/>
<circle cx="389.0" cy="1775.6" r="7.9" fill="#fdbf6f" stroke="#000" stroke-width="2.4"/>
<circle cx="396.9" cy="1799.2" r="7.9" fill="#fdbf6f" stroke="#000" stroke-width="2.4"/>
<circle cx="395.1" cy="1822.9" r="7.9" fill="#fdbf6f" stroke="#000" stroke-width="2.4"/>
<circle cx="393.3" cy="1847.1" r="7.9" fill="#fdbf6f" stroke="#000" stroke-width="2.4"/>
<circle cx="390.8" cy="1845.3" r="7.9" fill="#fdbf6f" stroke="#000" stroke-width="2.4"/>
<circle cx="407.0" cy="1708.1" r="7.9" fill="#b2df8a" stroke="#000" stroke-width="2.4"/>
<circle cx="414.3" cy="1715.4" r="7.9" fill="#b2df8a" stroke="#000" stroke-width="2.4"/>
<circle cx="416.7" cy="1723.9" r="7.9" fill="#b2df8a" stroke="#000" stroke-width="2.4"/>
<circle cx="408.4" cy="1709.7" r="7.9" fill="#b2df8a" stroke="#000" stroke-width="2.4"/>
<circle cx="405.4" cy="1720.0" r="7.9" fill="#b2df8a" stroke="#000" stroke-width="2.4"/>
<circle cx="420.3" cy="1766.2" r="7.9" fill="#ff7f00" stroke="#000" stroke-width="2.4"/>
<circle cx="421.5" cy="1775.9" r="7.9" fill="#ff7f00" stroke="#000" stroke-width="2.4"/>
<circle cx="420.3" cy="1785.6" r="7.9" fill="#ff7f00" stroke="#000" stroke-width="2.4"/>
<circle cx="421.7" cy="1769.0" r="7.9" fill="#ff7f00" stroke="#000" stroke-width="2.4"/>
<circle cx="426.0" cy="1776.2" r="7.9" fill="#ff7f00" stroke="#000" stroke-width="2.4"/>
<circle cx="423.5" cy="1787.7" r="7.9" fill="#ff7f00" stroke="#000" stroke-width="2.4"/>
<circle cx="427.2" cy="1799.2" r="7.9" fill="#ff7f00" stroke="#000" stroke-width="2.4"/>
<circle cx="427.8" cy="1822.9" r="7.9" fill="#ff7f00" stroke="#000" stroke-width="2.4"/>
<circle cx="431.4" cy="1744.8" r="7.9" fill="#33a02c" stroke="#000" stroke-width="2.4"/>
<circle cx="447.7" cy="1745.4" r="7.9" fill="#33a02c" stroke="#000" stroke-width="2.4"/>
<circle cx="460.5" cy="1744.8" r="7.9" fill="#33a02c" stroke="#000" stroke-width="2.4"/>
<circle cx="445.3" cy="1755.7" r="7.9" fill="#33a02c" stroke="#000" stroke-width="2.4"/>
<circle cx="458.6" cy="1758.7" r="7.9" fill="#33a02c" stroke="#000" stroke-width="2.4"/>
<circle cx="471.4" cy="1755.1" r="7.9" fill="#33a02c" stroke="#000" stroke-width="2.4"/>
<circle cx="445.3" cy="1764.7" r="7.9" fill="#33a02c" stroke="#000" stroke-width="2.4"/>
<circle cx="456.2" cy="1764.7" r="7.9" fill="#33a02c" stroke="#000" stroke-width="2.4"/>
<circle cx="472.6" cy="1772.0" r="7.9" fill="#33a02c" stroke="#000" stroke-width="2.4"/>
<circle cx="442.9" cy="1781.7" r="7.9" fill="#33a02c" stroke="#000" stroke-width="2.4"/>
<circle cx="441.7" cy="1795.6" r="7.9" fill="#33a02c" stroke="#000" stroke-width="2.4"/>
<circle cx="465.9" cy="1801.7" r="7.9" fill="#33a02c" stroke="#000" stroke-width="2.4"/>
<circle cx="437.5" cy="1808.9" r="7.9" fill="#33a02c" stroke="#000" stroke-width="2.4"/>
<circle cx="452.6" cy="1820.4" r="7.9" fill="#33a02c" stroke="#000" stroke-width="2.4"/>
<circle cx="439.3" cy="1914.3" r="7.9" fill="#33a02c" stroke="#000" stroke-width="2.4"/>
<circle cx="452.0" cy="1927.6" r="7.9" fill="#33a02c" stroke="#000" stroke-width="2.4"/>
<circle cx="485.3" cy="1713.9" r="7.9" fill="#1f78b4" stroke="#000" stroke-width="2.4"/>
<circle cx="485.3" cy="1720.0" r="7.9" fill="#1f78b4" stroke="#000" stroke-width="2.4"/>
<circle cx="493.8" cy="1745.4" r="7.9" fill="#1f78b4" stroke="#000" stroke-width="2.4"/>
<circle cx="497.4" cy="1753.8" r="7.9" fill="#1f78b4" stroke="#000" stroke-width="2.4"/>
<circle cx="505.3" cy="1735.1" r="7.9" fill="#1f78b4" stroke="#000" stroke-width="2.4"/>
<circle cx="514.3" cy="1746.6" r="7.9" fill="#1f78b4" stroke="#000" stroke-width="2.4"/>
<circle cx="514.3" cy="1753.8" r="7.9" fill="#1f78b4" stroke="#000" stroke-width="2.4"/>
<circle cx="526.4" cy="1733.3" r="7.9" fill="#33a02c" stroke="#000" stroke-width="2.4"/>
<circle cx="526.4" cy="1757.5" r="7.9" fill="#33a02c" stroke="#000" stroke-width="2.4"/>
<circle cx="533.7" cy="1751.4" r="7.9" fill="#1f78b4" stroke="#000" stroke-width="2.4"/>
<circle cx="536.1" cy="1730.8" r="7.9" fill="#1f78b4" stroke="#000" stroke-width="2.4"/>
<circle cx="525.1" cy="1734.5" r="7.9" fill="#33a02c" stroke="#000" stroke-width="2.4"/>
<circle cx="526.8" cy="1756.5" r="7.9" fill="#33a02c" stroke="#000" stroke-width="2.4"/>
<circle cx="548.0" cy="1715.0" r="7.9" fill="#1f78b4" stroke="#000" stroke-width="2.4"/>
<circle cx="553.1" cy="1712.5" r="7.9" fill="#b2df8a" stroke="#000" stroke-width="2.4"/>
<circle cx="549.7" cy="1739.6" r="7.9" fill="#1f78b4" stroke="#000" stroke-width="2.4"/>
<circle cx="534.4" cy="1751.5" r="7.9" fill="#1f78b4" stroke="#000" stroke-width="2.4"/>
<circle cx="561.5" cy="1748.1" r="7.9" fill="#1f78b4" stroke="#000" stroke-width="2.4"/>
<circle cx="567.5" cy="1709.1" r="7.9" fill="#b2df8a" stroke="#000" stroke-width="2.4"/>
<circle cx="582.7" cy="1721.0" r="7.9" fill="#1f78b4" stroke="#000" stroke-width="2.4"/>
<circle cx="570.8" cy="1739.6" r="7.9" fill="#1f78b4" stroke="#000" stroke-width="2.4"/>
<circle cx="576.8" cy="1747.2" r="7.9" fill="#1f78b4" stroke="#000" stroke-width="2.4"/>
<circle cx="577.6" cy="1734.5" r="7.9" fill="#1f78b4" stroke="#000" stroke-width="2.4"/>
<circle cx="536.9" cy="1731.1" r="7.9" fill="#1f78b4" stroke="#000" stroke-width="2.4"/>
<circle cx="574.2" cy="1722.6" r="7.9" fill="#1f78b4" stroke="#000" stroke-width="2.4"/>
<circle cx="608.1" cy="1696.9" r="7.9" fill="#b2df8a" stroke="#000" stroke-width="2.4"/>
<circle cx="612.4" cy="1712.5" r="7.9" fill="#b2df8a" stroke="#000" stroke-width="2.4"/>
<circle cx="608.1" cy="1717.6" r="7.9" fill="#1f78b4" stroke="#000" stroke-width="2.4"/>
<circle cx="617.5" cy="1719.3" r="7.9" fill="#b2df8a" stroke="#000" stroke-width="2.4"/>
<circle cx="629.8" cy="1729.8" r="7.9" fill="#1f78b4" stroke="#000" stroke-width="2.4"/>
<circle cx="658.1" cy="1689.6" r="7.9" fill="#b2df8a" stroke="#000" stroke-width="2.4"/>
<circle cx="669.2" cy="1682.8" r="7.9" fill="#fb9a99" stroke="#000" stroke-width="2.4"/>
<circle cx="665.8" cy="1688.7" r="7.9" fill="#fb9a99" stroke="#000" stroke-width="2.4"/>
<circle cx="671.7" cy="1693.8" r="7.9" fill="#fb9a99" stroke="#000" stroke-width="2.4"/>
<circle cx="660.3" cy="1712.1" r="7.9" fill="#b2df8a" stroke="#000" stroke-width="2.4"/>
<circle cx="698.8" cy="1693.8" r="7.9" fill="#fb9a99" stroke="#000" stroke-width="2.4"/>
<circle cx="691.2" cy="1697.7" r="7.9" fill="#33a02c" stroke="#000" stroke-width="2.4"/>
<circle cx="689.5" cy="1725.7" r="7.9" fill="#b2df8a" stroke="#000" stroke-width="2.4"/>
<circle cx="719.2" cy="1677.2" r="7.9" fill="#b2df8a" stroke="#000" stroke-width="2.4"/>
<circle cx="726.4" cy="1673.2" r="7.9" fill="#fb9a99" stroke="#000" stroke-width="2.4"/>
<circle cx="746.8" cy="1693.0" r="7.9" fill="#fb9a99" stroke="#000" stroke-width="2.4"/>
<circle cx="769.2" cy="1674.8" r="7.9" fill="#a6cee3" stroke="#000" stroke-width="2.4"/>
<circle cx="784.4" cy="1674.8" r="7.9" fill="#fb9a99" stroke="#000" stroke-width="2.4"/>
<circle cx="858.2" cy="1690.3" r="7.9" fill="#fb9a99" stroke="#000" stroke-width="2.4"/>
<circle cx="873.5" cy="1683.4" r="7.9" fill="#fb9a99" stroke="#000" stroke-width="2.4"/>
<circle cx="882.7" cy="1690.3" r="7.9" fill="#fb9a99" stroke="#000" stroke-width="2.4"/>
<circle cx="872.1" cy="1702.0" r="7.9" fill="#33a02c" stroke="#000" stroke-width="2.4"/>
<circle cx="861.6" cy="1709.8" r="7.9" fill="#a6cee3" stroke="#000" stroke-width="2.4"/>
<circle cx="863.8" cy="1716.8" r="7.9" fill="#fb9a99" stroke="#000" stroke-width="2.4"/>
<circle cx="863.8" cy="1736.3" r="7.9" fill="#b2df8a" stroke="#000" stroke-width="2.4"/>
<circle cx="882.7" cy="1732.7" r="7.9" fill="#33a02c" stroke="#000" stroke-width="2.4"/>
<circle cx="900.8" cy="1677.8" r="7.9" fill="#fb9a99" stroke="#000" stroke-width="2.4"/>
<circle cx="906.4" cy="1669.4" r="7.9" fill="#fb9a99" stroke="#000" stroke-width="2.4"/>
<circle cx="915.3" cy="1667.5" r="7.9" fill="#fb9a99" stroke="#000" stroke-width="2.4"/>
<circle cx="920.9" cy="1659.7" r="7.9" fill="#fb9a99" stroke="#000" stroke-width="2.4"/>
<circle cx="926.5" cy="1669.4" r="7.9" fill="#fb9a99" stroke="#000" stroke-width="2.4"/>
<circle cx="932.0" cy="1665.8" r="7.9" fill="#fb9a99" stroke="#000" stroke-width="2.4"/>
<circle cx="920.9" cy="1681.4" r="7.9" fill="#fb9a99" stroke="#000" stroke-width="2.4"/>
<circle cx="909.7" cy="1679.2" r="7.9" fill="#fb9a99" stroke="#000" stroke-width="2.4"/>
<circle cx="941.8" cy="1675.0" r="7.9" fill="#fb9a99" stroke="#000" stroke-width="2.4"/>
<circle cx="949.3" cy="1667.5" r="7.9" fill="#fb9a99" stroke="#000" stroke-width="2.4"/>
<circle cx="964.0" cy="1657.7" r="7.9" fill="#fb9a99" stroke="#000" stroke-width="2.4"/>
<circle cx="901.4" cy="1720.4" r="7.9" fill="#b2df8a" stroke="#000" stroke-width="2.4"/>
<circle cx="915.3" cy="1718.2" r="7.9" fill="#b2df8a" stroke="#000" stroke-width="2.4"/>
<circle cx="925.9" cy="1711.2" r="7.9" fill="#b2df8a" stroke="#000" stroke-width="2.4"/>
<circle cx="937.6" cy="1716.0" r="7.9" fill="#b2df8a" stroke="#000" stroke-width="2.4"/>
<circle cx="984.9" cy="1704.3" r="7.9" fill="#33a02c" stroke="#000" stroke-width="2.4"/>
<circle cx="984.9" cy="1712.0" r="7.9" fill="#33a02c" stroke="#000" stroke-width="2.4"/>
<circle cx="1027.3" cy="1643.8" r="7.9" fill="#fb9a99" stroke="#000" stroke-width="2.4"/>
<circle cx="1076.0" cy="1649.4" r="7.9" fill="#fb9a99" stroke="#000" stroke-width="2.4"/>
<circle cx="1126.1" cy="1650.0" r="7.9" fill="#fb9a99" stroke="#000" stroke-width="2.4"/>
<circle cx="1164.5" cy="1652.2" r="7.9" fill="#fb9a99" stroke="#000" stroke-width="2.4"/>
<circle cx="1183.2" cy="1714.8" r="7.9" fill="#fb9a99" stroke="#000" stroke-width="2.4"/>
<circle cx="1186.0" cy="1730.1" r="7.9" fill="#33a02c" stroke="#000" stroke-width="2.4"/>
<circle cx="1152.6" cy="1775.3" r="7.9" fill="#b2df8a" stroke="#000" stroke-width="2.4"/>
<circle cx="1067.6" cy="1871.3" r="7.9" fill="#33a02c" stroke="#000" stroke-width="2.4"/>
<circle cx="1245.3" cy="1768.3" r="7.9" fill="#b2df8a" stroke="#000" stroke-width="2.4"/>
<circle cx="1334.2" cy="1667.0" r="7.9" fill="#fb9a99" stroke="#000" stroke-width="2.4"/>
<circle cx="1426.1" cy="1762.1" r="7.9" fill="#fb9a99" stroke="#000" stroke-width="2.4"/>
<circle cx="1572.8" cy="1757.4" r="7.9" fill="#a6cee3" stroke="#000" stroke-width="2.4"/>
<circle cx="1679.7" cy="1744.3" r="7.9" fill="#33a02c" stroke="#000" stroke-width="2.4"/>
<circle cx="1584.5" cy="1875.4" r="7.9" fill="#33a02c" stroke="#000" stroke-width="2.4"/>
<circle cx="1698.9" cy="1824.5" r="7.9" fill="#a6cee3" stroke="#000" stroke-width="2.4"/>
<circle cx="1730.0" cy="1904.7" r="7.9" fill="#33a02c" stroke="#000" stroke-width="2.4"/>
<circle cx="1824.7" cy="1784.9" r="7.9" fill="#fb9a99" stroke="#000" stroke-width="2.4"/>
<circle cx="1837.7" cy="1841.6" r="7.9" fill="#fb9a99" stroke="#000" stroke-width="2.4"/>
</g>
<line x1="1234.1" y1="1605.5" x2="1234.1" y2="1772.5" stroke="#dd4516" stroke-width="3" stroke-dasharray="12 15.0"/>
<line x1="1255.5" y1="1784.0" x2="1255.5" y2="1931.5" stroke="#000" stroke-width="3" stroke-dasharray="12 15.0"/>
<text x="1244.7" y="1629.0" font-size="27.1" font-weight="bold" fill="#dd4516">Siberia_Uyandina.VAL_012</text>
<text x="1262.6" y="1922.6" font-size="27.1" font-weight="bold" fill="#000">Germany_Aufhausener.AH574</text>
<rect x="223.4" y="1604.7" width="1652.6" height="327.5" fill="none" stroke="#000" stroke-width="2.4"/>
<line x1="200.9" y1="1638.6" x2="223.4" y2="1638.6" stroke="#000" stroke-width="2"/>
<line x1="200.9" y1="1705.5" x2="223.4" y2="1705.5" stroke="#000" stroke-width="2"/>
<line x1="200.9" y1="1772.7" x2="223.4" y2="1772.7" stroke="#000" stroke-width="2"/>
<line x1="200.9" y1="1839.9" x2="223.4" y2="1839.9" stroke="#000" stroke-width="2"/>
<line x1="200.9" y1="1906.8" x2="223.4" y2="1906.8" stroke="#000" stroke-width="2"/>
<text transform="translate(194.5 1638.6) rotate(-90)" text-anchor="middle" font-size="36.3">0.002</text>
<text transform="translate(194.5 1772.7) rotate(-90)" text-anchor="middle" font-size="36.3">0</text>
<text transform="translate(194.5 1906.8) rotate(-90)" text-anchor="middle" font-size="36.3">−0.002</text>
<line x1="483.8" y1="1932.2" x2="483.8" y2="1954.7" stroke="#000" stroke-width="2"/>
<text x="483.8" y="1991.0" text-anchor="middle" font-size="36">0</text>
<line x1="616.9" y1="1932.2" x2="616.9" y2="1954.7" stroke="#000" stroke-width="2"/>
<text x="616.9" y="1991.0" text-anchor="middle" font-size="36">10</text>
<line x1="750.0" y1="1932.2" x2="750.0" y2="1954.7" stroke="#000" stroke-width="2"/>
<text x="750.0" y="1991.0" text-anchor="middle" font-size="36">20</text>
<line x1="883.0" y1="1932.2" x2="883.0" y2="1954.7" stroke="#000" stroke-width="2"/>
<text x="883.0" y="1991.0" text-anchor="middle" font-size="36">30</text>
<line x1="1016.1" y1="1932.2" x2="1016.1" y2="1954.7" stroke="#000" stroke-width="2"/>
<text x="1016.1" y="1991.0" text-anchor="middle" font-size="36">40</text>
<line x1="1149.2" y1="1932.2" x2="1149.2" y2="1954.7" stroke="#000" stroke-width="2"/>
<text x="1149.2" y="1991.0" text-anchor="middle" font-size="36">50</text>
<line x1="1282.3" y1="1932.2" x2="1282.3" y2="1954.7" stroke="#000" stroke-width="2"/>
<text x="1282.3" y="1991.0" text-anchor="middle" font-size="36">60</text>
<line x1="1415.4" y1="1932.2" x2="1415.4" y2="1954.7" stroke="#000" stroke-width="2"/>
<text x="1415.4" y="1991.0" text-anchor="middle" font-size="36">70</text>
<line x1="1548.4" y1="1932.2" x2="1548.4" y2="1954.7" stroke="#000" stroke-width="2"/>
<text x="1548.4" y="1991.0" text-anchor="middle" font-size="36">80</text>
<line x1="1681.5" y1="1932.2" x2="1681.5" y2="1954.7" stroke="#000" stroke-width="2"/>
<text x="1681.5" y="1991.0" text-anchor="middle" font-size="36">90</text>
<line x1="1814.6" y1="1932.2" x2="1814.6" y2="1954.7" stroke="#000" stroke-width="2"/>
<text x="1814.6" y="1991.0" text-anchor="middle" font-size="36">100</text>
<text x="244.4" y="1988.2" font-size="36">Present-day</text>
<text x="1049.7" y="2031.0" text-anchor="middle" font-size="36">Time (kya)</text>
<text x="224.8" y="1594.5" font-size="36.25" font-weight="bold">Early (~60kya) Siberian wolves are closer to later than to contemporaneous European wolves</text>
<text x="-1.2" y="1582.0" font-size="64" font-weight="bold" stroke="#000" stroke-width="1.6">d</text>
<text transform="translate(62.7 1769.0) rotate(-90)" text-anchor="middle" font-size="30.8"><tspan>f</tspan><tspan font-size="21.6" dy="6">4</tspan><tspan dy="-6">(Armenia_Hovk1.HOV4,</tspan></text>
<text transform="translate(104.8 1767.5) rotate(-90)" text-anchor="middle" font-size="30.8"><tspan font-weight="bold" fill="#dd4516">Siberia_Uyandina.VAL_012</tspan><tspan>;</tspan></text>
<text transform="translate(146.6 1774.2) rotate(-90)" text-anchor="middle" font-size="30.8"><tspan font-weight="bold">Germany_Aufhausener.AH574</tspan><tspan>,X)</tspan></text>
<rect x="223.4" y="2088.8" width="260.4" height="326.3" fill="#fdfae6"/>
<line x1="223.4" y1="2252.3" x2="1876.0" y2="2252.3" stroke="#c0c0c0" stroke-width="1.8" stroke-dasharray="8.4 9.72" stroke-dashoffset="0"/>
<clipPath id="clipe"><rect x="223.4" y="2088.8" width="1652.6" height="326.3"/></clipPath>
<g clip-path="url(#clipe)">
<path d="M278.3 2228.3V2263.2M271.3 2228.3h14M271.3 2263.2h14M273.2 2234.1V2272.0M266.2 2234.1h14M266.2 2272.0h14M279.1 2241.9V2279.2M272.1 2241.9h14M272.1 2279.2h14M283.4 2252.0V2279.9M276.4 2252.0h14M276.4 2279.9h14M287.8 2249.0V2285.7M280.8 2249.0h14M280.8 2285.7h14M290.7 2250.8V2282.9M283.7 2250.8h14M283.7 2282.9h14M300.8 2241.1V2270.9M293.8 2241.1h14M293.8 2270.9h14M305.2 2227.4V2260.4M298.2 2227.4h14M298.2 2260.4h14M311.7 2230.3V2256.1M304.7 2230.3h14M304.7 2256.1h14M313.9 2242.7V2276.2M306.9 2242.7h14M306.9 2276.2h14M321.2 2235.9V2267.3M314.2 2235.9h14M314.2 2267.3h14M327.0 2240.0V2271.5M320.0 2240.0h14M320.0 2271.5h14M324.8 2255.3V2285.2M317.8 2255.3h14M317.8 2285.2h14M331.4 2236.9V2267.9M324.4 2236.9h14M324.4 2267.9h14M338.6 2230.1V2257.5M331.6 2230.1h14M331.6 2257.5h14M345.9 2226.8V2265.7M338.9 2226.8h14M338.9 2265.7h14M341.5 2239.7V2273.7M334.5 2239.7h14M334.5 2273.7h14M354.6 2242.8V2276.5M347.6 2242.8h14M347.6 2276.5h14M361.9 2237.5V2270.6M354.9 2237.5h14M354.9 2270.6h14M358.2 2259.0V2296.2M351.2 2259.0h14M351.2 2296.2h14M348.8 2263.2V2296.7M341.8 2263.2h14M341.8 2296.7h14M351.7 2272.5V2300.7M344.7 2272.5h14M344.7 2300.7h14M330.6 2328.7V2354.4M323.6 2328.7h14M323.6 2354.4h14M369.1 2236.7V2267.9M362.1 2236.7h14M362.1 2267.9h14M373.5 2249.3V2278.7M366.5 2249.3h14M366.5 2278.7h14M380.8 2240.8V2270.0M373.8 2240.8h14M373.8 2270.0h14M386.6 2236.2V2270.5M379.6 2236.2h14M379.6 2270.5h14M383.7 2248.2V2278.5M376.7 2248.2h14M376.7 2278.5h14M389.5 2254.6V2284.7M382.5 2254.6h14M382.5 2284.7h14M392.4 2261.1V2293.1M385.4 2261.1h14M385.4 2293.1h14M402.5 2262.9V2299.7M395.5 2262.9h14M395.5 2299.7h14M398.9 2301.5V2331.9M391.9 2301.5h14M391.9 2331.9h14M395.3 2305.2V2336.7M388.3 2305.2h14M388.3 2336.7h14M404.7 2131.5V2156.0M397.7 2131.5h14M397.7 2156.0h14M411.3 2130.2V2163.2M404.3 2130.2h14M404.3 2163.2h14M420.0 2138.0V2169.6M413.0 2138.0h14M413.0 2169.6h14M427.2 2135.1V2174.0M420.2 2135.1h14M420.2 2174.0h14M424.3 2164.4V2194.0M417.3 2164.4h14M417.3 2194.0h14M417.8 2175.3V2209.7M410.8 2175.3h14M410.8 2209.7h14M448.3 2164.8V2195.7M441.3 2164.8h14M441.3 2195.7h14M461.4 2158.6V2195.9M454.4 2158.6h14M454.4 2195.9h14M464.3 2170.5V2202.4M457.3 2170.5h14M457.3 2202.4h14M471.6 2178.8V2206.2M464.6 2178.8h14M464.6 2206.2h14M467.9 2186.3V2222.5M460.9 2186.3h14M460.9 2222.5h14M433.1 2186.3V2220.4M426.1 2186.3h14M426.1 2220.4h14M445.4 2183.8V2214.7M438.4 2183.8h14M438.4 2214.7h14M457.0 2188.7V2216.6M450.0 2188.7h14M450.0 2216.6h14M451.2 2196.4V2222.2M444.2 2196.4h14M444.2 2222.2h14M438.1 2194.4V2231.9M431.1 2194.4h14M431.1 2231.9h14M443.2 2211.6V2237.3M436.2 2211.6h14M436.2 2237.3h14M527.1 2184.0V2230.4M520.1 2184.0h14M520.1 2230.4h14M531.3 2260.5V2290.5M524.3 2260.5h14M524.3 2290.5h14M546.8 2250.0V2280.0M539.8 2250.0h14M539.8 2280.0h14M553.6 2248.0V2278.0M546.6 2248.0h14M546.6 2278.0h14M552.1 2258.0V2287.6M545.1 2258.0h14M545.1 2287.6h14M568.1 2240.0V2270.0M561.1 2240.0h14M561.1 2270.0h14M576.9 2240.0V2271.0M569.9 2240.0h14M569.9 2271.0h14M573.9 2247.0V2278.0M566.9 2247.0h14M566.9 2278.0h14M577.8 2244.0V2280.8M570.8 2244.0h14M570.8 2280.8h14M577.8 2280.8V2330.0M570.8 2280.8h14M570.8 2330.0h14M598.5 2202.3V2324.4M591.5 2202.3h14M591.5 2324.4h14M613.7 2236.0V2266.0M606.7 2236.0h14M606.7 2266.0h14M617.5 2233.0V2266.0M610.5 2233.0h14M610.5 2266.0h14M611.3 2235.3V2276.9M604.3 2235.3h14M604.3 2276.9h14M630.1 2255.0V2282.7M623.1 2255.0h14M623.1 2282.7h14M661.1 2158.8V2326.3M654.1 2158.8h14M654.1 2326.3h14M659.2 2235.0V2268.0M652.2 2235.0h14M652.2 2268.0h14M669.8 2228.0V2262.0M662.8 2228.0h14M662.8 2262.0h14M671.8 2236.0V2270.0M664.8 2236.0h14M664.8 2270.0h14M660.1 2212.0V2292.4M653.1 2212.0h14M653.1 2292.4h14M691.1 2246.0V2278.0M684.1 2246.0h14M684.1 2278.0h14M696.9 2240.0V2270.0M689.9 2240.0h14M689.9 2270.0h14M690.2 2276.0V2308.9M683.2 2276.0h14M683.2 2308.9h14M718.6 2239.2V2269.8M711.6 2239.2h14M711.6 2269.8h14M726.0 2233.0V2260.5M719.0 2233.0h14M719.0 2260.5h14M746.9 2197.5V2276.0M739.9 2197.5h14M739.9 2276.0h14M770.0 2218.2V2279.8M763.0 2218.2h14M763.0 2279.8h14M784.5 2245.0V2275.0M777.5 2245.0h14M777.5 2275.0h14M871.9 2205.0V2238.0M864.9 2205.0h14M864.9 2238.0h14M883.1 2198.5V2225.0M876.1 2198.5h14M876.1 2225.0h14M863.4 2230.0V2262.0M856.4 2230.0h14M856.4 2262.0h14M858.1 2240.0V2272.0M851.1 2240.0h14M851.1 2272.0h14M867.8 2246.0V2278.0M860.8 2246.0h14M860.8 2278.0h14M873.8 2234.0V2266.0M866.8 2234.0h14M866.8 2266.0h14M882.8 2231.6V2285.6M875.8 2231.6h14M875.8 2285.6h14M861.7 2255.0V2298.2M854.7 2255.0h14M854.7 2298.2h14M906.5 2196.5V2260.0M899.5 2196.5h14M899.5 2260.0h14M901.7 2233.0V2264.0M894.7 2233.0h14M894.7 2264.0h14M900.5 2241.0V2273.0M893.5 2241.0h14M893.5 2273.0h14M910.2 2240.0V2272.0M903.2 2240.0h14M903.2 2272.0h14M921.1 2230.0V2260.0M914.1 2230.0h14M914.1 2260.0h14M929.5 2236.0V2266.0M922.5 2236.0h14M922.5 2266.0h14M942.9 2244.0V2275.0M935.9 2244.0h14M935.9 2275.0h14M950.1 2237.0V2268.0M943.1 2237.0h14M943.1 2268.0h14M963.9 2242.5V2269.2M956.9 2242.5h14M956.9 2269.2h14M938.0 2240.0V2271.0M931.0 2240.0h14M931.0 2271.0h14M901.2 2256.0V2297.7M894.2 2256.0h14M894.2 2297.7h14M914.5 2255.0V2286.0M907.5 2255.0h14M907.5 2286.0h14M925.9 2254.0V2285.0M918.9 2254.0h14M918.9 2285.0h14M984.7 2203.8V2236.0M977.7 2203.8h14M977.7 2236.0h14M984.7 2234.0V2259.5M977.7 2234.0h14M977.7 2259.5h14M1027.6 2224.9V2262.4M1020.6 2224.9h14M1020.6 2262.4h14M1067.6 2142.1V2176.0M1060.6 2142.1h14M1060.6 2176.0h14M1076.0 2254.2V2281.3M1069.0 2254.2h14M1069.0 2281.3h14M1126.2 2244.2V2270.4M1119.2 2244.2h14M1119.2 2270.4h14M1164.4 2234.8V2266.8M1157.4 2234.8h14M1157.4 2266.8h14M1153.0 2270.4V2304.3M1146.0 2270.4h14M1146.0 2304.3h14M1183.1 2252.7V2278.4M1176.1 2252.7h14M1176.1 2278.4h14M1186.7 2185.2V2223.7M1179.7 2185.2h14M1179.7 2223.7h14M1235.2 2239.6V2269.7M1228.2 2239.6h14M1228.2 2269.7h14M1257.0 2255.1V2293.4M1250.0 2255.1h14M1250.0 2293.4h14M1246.1 2268.0V2297.5M1239.1 2268.0h14M1239.1 2297.5h14M1335.4 2246.9V2276.4M1328.4 2246.9h14M1328.4 2276.4h14M1426.5 2247.4V2282.5M1419.5 2247.4h14M1419.5 2282.5h14M1584.8 2151.0V2181.7M1577.8 2151.0h14M1577.8 2181.7h14M1730.6 2161.4V2203.3M1723.6 2161.4h14M1723.6 2203.3h14M1680.0 2221.7V2254.0M1673.0 2221.7h14M1673.0 2254.0h14M1573.5 2258.3V2285.3M1566.5 2258.3h14M1566.5 2285.3h14M1698.8 2257.8V2292.5M1691.8 2257.8h14M1691.8 2292.5h14M1838.2 2223.3V2301.6M1831.2 2223.3h14M1831.2 2301.6h14" stroke="#c0c0c0" stroke-width="2.0" fill="none"/>
<circle cx="278.3" cy="2245.3" r="7.9" fill="#1f78b4" stroke="#000" stroke-width="2.4"/>
<circle cx="273.2" cy="2252.5" r="7.9" fill="#1f78b4" stroke="#000" stroke-width="2.4"/>
<circle cx="279.1" cy="2259.8" r="7.9" fill="#1f78b4" stroke="#000" stroke-width="2.4"/>
<circle cx="283.4" cy="2264.2" r="7.9" fill="#1f78b4" stroke="#000" stroke-width="2.4"/>
<circle cx="287.8" cy="2268.5" r="7.9" fill="#1f78b4" stroke="#000" stroke-width="2.4"/>
<circle cx="290.7" cy="2270.0" r="7.9" fill="#1f78b4" stroke="#000" stroke-width="2.4"/>
<circle cx="300.8" cy="2256.9" r="7.9" fill="#fdbf6f" stroke="#000" stroke-width="2.4"/>
<circle cx="305.2" cy="2243.8" r="7.9" fill="#fdbf6f" stroke="#000" stroke-width="2.4"/>
<circle cx="311.7" cy="2242.4" r="7.9" fill="#fdbf6f" stroke="#000" stroke-width="2.4"/>
<circle cx="313.9" cy="2256.9" r="7.9" fill="#fdbf6f" stroke="#000" stroke-width="2.4"/>
<circle cx="321.2" cy="2254.0" r="7.9" fill="#fdbf6f" stroke="#000" stroke-width="2.4"/>
<circle cx="327.0" cy="2258.4" r="7.9" fill="#fdbf6f" stroke="#000" stroke-width="2.4"/>
<circle cx="324.8" cy="2272.2" r="7.9" fill="#fdbf6f" stroke="#000" stroke-width="2.4"/>
<circle cx="331.4" cy="2248.9" r="7.9" fill="#fdbf6f" stroke="#000" stroke-width="2.4"/>
<circle cx="338.6" cy="2243.8" r="7.9" fill="#fdbf6f" stroke="#000" stroke-width="2.4"/>
<circle cx="345.9" cy="2246.7" r="7.9" fill="#fdbf6f" stroke="#000" stroke-width="2.4"/>
<circle cx="341.5" cy="2254.0" r="7.9" fill="#fdbf6f" stroke="#000" stroke-width="2.4"/>
<circle cx="354.6" cy="2259.1" r="7.9" fill="#fdbf6f" stroke="#000" stroke-width="2.4"/>
<circle cx="361.9" cy="2251.1" r="7.9" fill="#fdbf6f" stroke="#000" stroke-width="2.4"/>
<circle cx="358.2" cy="2276.5" r="7.9" fill="#fdbf6f" stroke="#000" stroke-width="2.4"/>
<circle cx="348.8" cy="2282.3" r="7.9" fill="#fdbf6f" stroke="#000" stroke-width="2.4"/>
<circle cx="351.7" cy="2287.4" r="7.9" fill="#fdbf6f" stroke="#000" stroke-width="2.4"/>
<circle cx="330.6" cy="2341.9" r="7.9" fill="#fdbf6f" stroke="#000" stroke-width="2.4"/>
<circle cx="369.1" cy="2251.1" r="7.9" fill="#b2df8a" stroke="#000" stroke-width="2.4"/>
<circle cx="373.5" cy="2261.3" r="7.9" fill="#b2df8a" stroke="#000" stroke-width="2.4"/>
<circle cx="380.8" cy="2255.5" r="7.9" fill="#b2df8a" stroke="#000" stroke-width="2.4"/>
<circle cx="386.6" cy="2254.7" r="7.9" fill="#b2df8a" stroke="#000" stroke-width="2.4"/>
<circle cx="383.7" cy="2262.7" r="7.9" fill="#b2df8a" stroke="#000" stroke-width="2.4"/>
<circle cx="389.5" cy="2272.2" r="7.9" fill="#ff7f00" stroke="#000" stroke-width="2.4"/>
<circle cx="392.4" cy="2280.9" r="7.9" fill="#ff7f00" stroke="#000" stroke-width="2.4"/>
<circle cx="402.5" cy="2280.9" r="7.9" fill="#ff7f00" stroke="#000" stroke-width="2.4"/>
<circle cx="398.9" cy="2313.6" r="7.9" fill="#ff7f00" stroke="#000" stroke-width="2.4"/>
<circle cx="395.3" cy="2320.1" r="7.9" fill="#ff7f00" stroke="#000" stroke-width="2.4"/>
<circle cx="404.7" cy="2143.6" r="7.9" fill="#33a02c" stroke="#000" stroke-width="2.4"/>
<circle cx="411.3" cy="2143.6" r="7.9" fill="#33a02c" stroke="#000" stroke-width="2.4"/>
<circle cx="420.0" cy="2151.6" r="7.9" fill="#33a02c" stroke="#000" stroke-width="2.4"/>
<circle cx="427.2" cy="2154.5" r="7.9" fill="#33a02c" stroke="#000" stroke-width="2.4"/>
<circle cx="424.3" cy="2179.2" r="7.9" fill="#33a02c" stroke="#000" stroke-width="2.4"/>
<circle cx="417.8" cy="2191.5" r="7.9" fill="#33a02c" stroke="#000" stroke-width="2.4"/>
<circle cx="448.3" cy="2177.7" r="7.9" fill="#33a02c" stroke="#000" stroke-width="2.4"/>
<circle cx="461.4" cy="2177.0" r="7.9" fill="#33a02c" stroke="#000" stroke-width="2.4"/>
<circle cx="464.3" cy="2182.8" r="7.9" fill="#33a02c" stroke="#000" stroke-width="2.4"/>
<circle cx="471.6" cy="2191.5" r="7.9" fill="#33a02c" stroke="#000" stroke-width="2.4"/>
<circle cx="467.9" cy="2203.2" r="7.9" fill="#33a02c" stroke="#000" stroke-width="2.4"/>
<circle cx="433.1" cy="2201.0" r="7.9" fill="#33a02c" stroke="#000" stroke-width="2.4"/>
<circle cx="445.4" cy="2200.2" r="7.9" fill="#33a02c" stroke="#000" stroke-width="2.4"/>
<circle cx="457.0" cy="2203.2" r="7.9" fill="#33a02c" stroke="#000" stroke-width="2.4"/>
<circle cx="451.2" cy="2209.0" r="7.9" fill="#33a02c" stroke="#000" stroke-width="2.4"/>
<circle cx="438.1" cy="2211.9" r="7.9" fill="#33a02c" stroke="#000" stroke-width="2.4"/>
<circle cx="443.2" cy="2224.9" r="7.9" fill="#33a02c" stroke="#000" stroke-width="2.4"/>
<circle cx="527.1" cy="2206.8" r="7.9" fill="#33a02c" stroke="#000" stroke-width="2.4"/>
<circle cx="531.3" cy="2275.4" r="7.9" fill="#b2df8a" stroke="#000" stroke-width="2.4"/>
<circle cx="546.8" cy="2265.3" r="7.9" fill="#1f78b4" stroke="#000" stroke-width="2.4"/>
<circle cx="553.6" cy="2263.4" r="7.9" fill="#a6cee3" stroke="#000" stroke-width="2.4"/>
<circle cx="552.1" cy="2273.6" r="7.9" fill="#b2df8a" stroke="#000" stroke-width="2.4"/>
<circle cx="568.1" cy="2255.6" r="7.9" fill="#b2df8a" stroke="#000" stroke-width="2.4"/>
<circle cx="576.9" cy="2255.6" r="7.9" fill="#1f78b4" stroke="#000" stroke-width="2.4"/>
<circle cx="573.9" cy="2262.4" r="7.9" fill="#b2df8a" stroke="#000" stroke-width="2.4"/>
<circle cx="577.8" cy="2269.2" r="7.9" fill="#1f78b4" stroke="#000" stroke-width="2.4"/>
<circle cx="577.8" cy="2301.7" r="7.9" fill="#1f78b4" stroke="#000" stroke-width="2.4"/>
<circle cx="598.5" cy="2263.4" r="7.9" fill="#b2df8a" stroke="#000" stroke-width="2.4"/>
<circle cx="613.7" cy="2251.7" r="7.9" fill="#b2df8a" stroke="#000" stroke-width="2.4"/>
<circle cx="617.5" cy="2250.8" r="7.9" fill="#b2df8a" stroke="#000" stroke-width="2.4"/>
<circle cx="611.3" cy="2264.3" r="7.9" fill="#1f78b4" stroke="#000" stroke-width="2.4"/>
<circle cx="630.1" cy="2269.2" r="7.9" fill="#1f78b4" stroke="#000" stroke-width="2.4"/>
<circle cx="661.1" cy="2242.1" r="7.9" fill="#b2df8a" stroke="#000" stroke-width="2.4"/>
<circle cx="659.2" cy="2251.7" r="7.9" fill="#b2df8a" stroke="#000" stroke-width="2.4"/>
<circle cx="669.8" cy="2245.0" r="7.9" fill="#fb9a99" stroke="#000" stroke-width="2.4"/>
<circle cx="671.8" cy="2252.7" r="7.9" fill="#fb9a99" stroke="#000" stroke-width="2.4"/>
<circle cx="660.1" cy="2273.0" r="7.9" fill="#b2df8a" stroke="#000" stroke-width="2.4"/>
<circle cx="691.1" cy="2262.4" r="7.9" fill="#33a02c" stroke="#000" stroke-width="2.4"/>
<circle cx="696.9" cy="2254.7" r="7.9" fill="#fb9a99" stroke="#000" stroke-width="2.4"/>
<circle cx="690.2" cy="2292.4" r="7.9" fill="#b2df8a" stroke="#000" stroke-width="2.4"/>
<circle cx="718.6" cy="2254.3" r="7.9" fill="#b2df8a" stroke="#000" stroke-width="2.4"/>
<circle cx="726.0" cy="2246.5" r="7.9" fill="#fb9a99" stroke="#000" stroke-width="2.4"/>
<circle cx="746.9" cy="2236.8" r="7.9" fill="#fb9a99" stroke="#000" stroke-width="2.4"/>
<circle cx="770.0" cy="2249.2" r="7.9" fill="#a6cee3" stroke="#000" stroke-width="2.4"/>
<circle cx="784.5" cy="2260.5" r="7.9" fill="#fb9a99" stroke="#000" stroke-width="2.4"/>
<circle cx="871.9" cy="2221.5" r="7.9" fill="#33a02c" stroke="#000" stroke-width="2.4"/>
<circle cx="883.1" cy="2211.1" r="7.9" fill="#33a02c" stroke="#000" stroke-width="2.4"/>
<circle cx="863.4" cy="2246.2" r="7.9" fill="#b2df8a" stroke="#000" stroke-width="2.4"/>
<circle cx="858.1" cy="2255.9" r="7.9" fill="#fb9a99" stroke="#000" stroke-width="2.4"/>
<circle cx="867.8" cy="2261.9" r="7.9" fill="#fb9a99" stroke="#000" stroke-width="2.4"/>
<circle cx="873.8" cy="2249.8" r="7.9" fill="#fb9a99" stroke="#000" stroke-width="2.4"/>
<circle cx="882.8" cy="2258.8" r="7.9" fill="#fb9a99" stroke="#000" stroke-width="2.4"/>
<circle cx="861.7" cy="2270.4" r="7.9" fill="#a6cee3" stroke="#000" stroke-width="2.4"/>
<circle cx="906.5" cy="2228.7" r="7.9" fill="#fb9a99" stroke="#000" stroke-width="2.4"/>
<circle cx="901.7" cy="2248.6" r="7.9" fill="#fb9a99" stroke="#000" stroke-width="2.4"/>
<circle cx="900.5" cy="2257.1" r="7.9" fill="#fb9a99" stroke="#000" stroke-width="2.4"/>
<circle cx="910.2" cy="2255.9" r="7.9" fill="#fb9a99" stroke="#000" stroke-width="2.4"/>
<circle cx="921.1" cy="2245.0" r="7.9" fill="#fb9a99" stroke="#000" stroke-width="2.4"/>
<circle cx="929.5" cy="2251.0" r="7.9" fill="#fb9a99" stroke="#000" stroke-width="2.4"/>
<circle cx="942.9" cy="2259.5" r="7.9" fill="#fb9a99" stroke="#000" stroke-width="2.4"/>
<circle cx="950.1" cy="2252.2" r="7.9" fill="#fb9a99" stroke="#000" stroke-width="2.4"/>
<circle cx="963.9" cy="2255.6" r="7.9" fill="#fb9a99" stroke="#000" stroke-width="2.4"/>
<circle cx="938.0" cy="2255.4" r="7.9" fill="#b2df8a" stroke="#000" stroke-width="2.4"/>
<circle cx="901.2" cy="2272.1" r="7.9" fill="#b2df8a" stroke="#000" stroke-width="2.4"/>
<circle cx="914.5" cy="2270.4" r="7.9" fill="#b2df8a" stroke="#000" stroke-width="2.4"/>
<circle cx="925.9" cy="2269.2" r="7.9" fill="#b2df8a" stroke="#000" stroke-width="2.4"/>
<circle cx="984.7" cy="2220.0" r="7.9" fill="#33a02c" stroke="#000" stroke-width="2.4"/>
<circle cx="984.7" cy="2246.9" r="7.9" fill="#33a02c" stroke="#000" stroke-width="2.4"/>
<circle cx="1027.6" cy="2243.3" r="7.9" fill="#fb9a99" stroke="#000" stroke-width="2.4"/>
<circle cx="1067.6" cy="2159.0" r="7.9" fill="#33a02c" stroke="#000" stroke-width="2.4"/>
<circle cx="1076.0" cy="2268.0" r="7.9" fill="#fb9a99" stroke="#000" stroke-width="2.4"/>
<circle cx="1126.2" cy="2257.6" r="7.9" fill="#fb9a99" stroke="#000" stroke-width="2.4"/>
<circle cx="1164.4" cy="2250.3" r="7.9" fill="#fb9a99" stroke="#000" stroke-width="2.4"/>
<circle cx="1153.0" cy="2287.3" r="7.9" fill="#b2df8a" stroke="#000" stroke-width="2.4"/>
<circle cx="1183.1" cy="2265.5" r="7.9" fill="#fb9a99" stroke="#000" stroke-width="2.4"/>
<circle cx="1186.7" cy="2204.5" r="7.9" fill="#33a02c" stroke="#000" stroke-width="2.4"/>
<circle cx="1235.2" cy="2254.2" r="7.9" fill="#fb9a99" stroke="#000" stroke-width="2.4"/>
<circle cx="1257.0" cy="2274.5" r="7.9" fill="#b2df8a" stroke="#000" stroke-width="2.4"/>
<circle cx="1246.1" cy="2283.7" r="7.9" fill="#b2df8a" stroke="#000" stroke-width="2.4"/>
<circle cx="1335.4" cy="2261.4" r="7.9" fill="#fb9a99" stroke="#000" stroke-width="2.4"/>
<circle cx="1426.5" cy="2264.8" r="7.9" fill="#fb9a99" stroke="#000" stroke-width="2.4"/>
<circle cx="1584.8" cy="2166.2" r="7.9" fill="#33a02c" stroke="#000" stroke-width="2.4"/>
<circle cx="1730.6" cy="2182.4" r="7.9" fill="#33a02c" stroke="#000" stroke-width="2.4"/>
<circle cx="1680.0" cy="2237.8" r="7.9" fill="#33a02c" stroke="#000" stroke-width="2.4"/>
<circle cx="1573.5" cy="2272.0" r="7.9" fill="#a6cee3" stroke="#000" stroke-width="2.4"/>
<circle cx="1698.8" cy="2275.1" r="7.9" fill="#a6cee3" stroke="#000" stroke-width="2.4"/>
<circle cx="1838.2" cy="2262.6" r="7.9" fill="#fb9a99" stroke="#000" stroke-width="2.4"/>
</g>
<line x1="1825.0" y1="2258.3" x2="1825.0" y2="2414.5" stroke="#000" stroke-width="3" stroke-dasharray="12 15.0"/>
<text x="1498.7" y="2403.6" font-size="25.9" font-weight="bold" fill="#000">Siberia_Enygen.VAL_18A</text>
<rect x="223.4" y="2088.8" width="1652.6" height="326.3" fill="none" stroke="#000" stroke-width="2.4"/>
<line x1="200.9" y1="2101.3" x2="223.4" y2="2101.3" stroke="#000" stroke-width="2"/>
<line x1="200.9" y1="2176.9" x2="223.4" y2="2176.9" stroke="#000" stroke-width="2"/>
<line x1="200.9" y1="2252.3" x2="223.4" y2="2252.3" stroke="#000" stroke-width="2"/>
<line x1="200.9" y1="2327.3" x2="223.4" y2="2327.3" stroke="#000" stroke-width="2"/>
<line x1="200.9" y1="2403.0" x2="223.4" y2="2403.0" stroke="#000" stroke-width="2"/>
<text transform="translate(194.5 2101.3) rotate(-90)" text-anchor="middle" font-size="36.3">0.002</text>
<text transform="translate(194.5 2252.3) rotate(-90)" text-anchor="middle" font-size="36.3">0.000</text>
<text transform="translate(194.5 2403.0) rotate(-90)" text-anchor="middle" font-size="36.3">−0.002</text>
<line x1="483.8" y1="2415.1" x2="483.8" y2="2437.6" stroke="#000" stroke-width="2"/>
<text x="483.8" y="2469.6" text-anchor="middle" font-size="36">0</text>
<line x1="616.9" y1="2415.1" x2="616.9" y2="2437.6" stroke="#000" stroke-width="2"/>
<text x="616.9" y="2469.6" text-anchor="middle" font-size="36">10</text>
<line x1="750.0" y1="2415.1" x2="750.0" y2="2437.6" stroke="#000" stroke-width="2"/>
<text x="750.0" y="2469.6" text-anchor="middle" font-size="36">20</text>
<line x1="883.0" y1="2415.1" x2="883.0" y2="2437.6" stroke="#000" stroke-width="2"/>
<text x="883.0" y="2469.6" text-anchor="middle" font-size="36">30</text>
<line x1="1016.1" y1="2415.1" x2="1016.1" y2="2437.6" stroke="#000" stroke-width="2"/>
<text x="1016.1" y="2469.6" text-anchor="middle" font-size="36">40</text>
<line x1="1149.2" y1="2415.1" x2="1149.2" y2="2437.6" stroke="#000" stroke-width="2"/>
<text x="1149.2" y="2469.6" text-anchor="middle" font-size="36">50</text>
<line x1="1282.3" y1="2415.1" x2="1282.3" y2="2437.6" stroke="#000" stroke-width="2"/>
<text x="1282.3" y="2469.6" text-anchor="middle" font-size="36">60</text>
<line x1="1415.4" y1="2415.1" x2="1415.4" y2="2437.6" stroke="#000" stroke-width="2"/>
<text x="1415.4" y="2469.6" text-anchor="middle" font-size="36">70</text>
<line x1="1548.4" y1="2415.1" x2="1548.4" y2="2437.6" stroke="#000" stroke-width="2"/>
<text x="1548.4" y="2469.6" text-anchor="middle" font-size="36">80</text>
<line x1="1681.5" y1="2415.1" x2="1681.5" y2="2437.6" stroke="#000" stroke-width="2"/>
<text x="1681.5" y="2469.6" text-anchor="middle" font-size="36">90</text>
<line x1="1814.6" y1="2415.1" x2="1814.6" y2="2437.6" stroke="#000" stroke-width="2"/>
<text x="1814.6" y="2469.6" text-anchor="middle" font-size="36">100</text>
<text x="254.3" y="2462.2" font-size="36">Present-day</text>
<text x="1049.7" y="2506.2" text-anchor="middle" font-size="36">Time (kya)</text>
<text x="220.8" y="2078.2" font-size="36.25" font-weight="bold">Coyote affinity is constant over time in Eurasian wolves, but variable in North American wolves</text>
<text x="-1.2" y="2093.5" font-size="64" font-weight="bold" stroke="#000" stroke-width="1.6">e</text>
<text transform="translate(96.8 2266.0) rotate(-90)" text-anchor="middle" font-size="30.3"><tspan>f</tspan><tspan font-size="21.2" dy="6">4</tspan><tspan dy="-6">(AndeanFox,</tspan><tspan font-weight="bold" fill="#dd4516">CoyoteCalifornia</tspan><tspan>;</tspan></text>
<text transform="translate(136.5 2271.7) rotate(-90)" text-anchor="middle" font-size="30.3"><tspan font-weight="bold">Siberia_Enygen.VAL_18A</tspan><tspan>,X)</tspan></text>
<rect x="518.5" y="1.2" width="1062.3" height="84.3" fill="#fff" stroke="#000" stroke-width="2.2"/>
<circle cx="548.6" cy="25.5" r="7.7" fill="#b2df8a" stroke="#000" stroke-width="2.3"/>
<text x="569.2" y="34.3" font-size="36">Europe</text>
<circle cx="548.6" cy="64.7" r="7.7" fill="#a6cee3" stroke="#000" stroke-width="2.3"/>
<text x="569.2" y="77.5" font-size="36">Central Eurasia</text>
<circle cx="857.5" cy="26.2" r="7.7" fill="#33a02c" stroke="#000" stroke-width="2.3"/>
<text x="888.9" y="38.2" font-size="36">North America</text>
<circle cx="857.5" cy="64.4" r="7.7" fill="#fb9a99" stroke="#000" stroke-width="2.3"/>
<text x="884.7" y="77.5" font-size="36">Siberia</text>
<circle cx="1155.6" cy="26.2" r="7.7" fill="#ff7f00" stroke="#000" stroke-width="2.3"/>
<text x="1182.8" y="38.2" font-size="36">M.East S.Asia</text>
<circle cx="1155.6" cy="64.4" r="7.7" fill="#fdbf6f" stroke="#000" stroke-width="2.3"/>
<text x="1183.7" y="76.8" font-size="36">East Eurasia</text>
<circle cx="1449.5" cy="25.5" r="7.7" fill="#1f78b4" stroke="#000" stroke-width="2.3"/>
<text x="1480.2" y="33.7" font-size="36">Dog</text>
</svg>
</body></html>
